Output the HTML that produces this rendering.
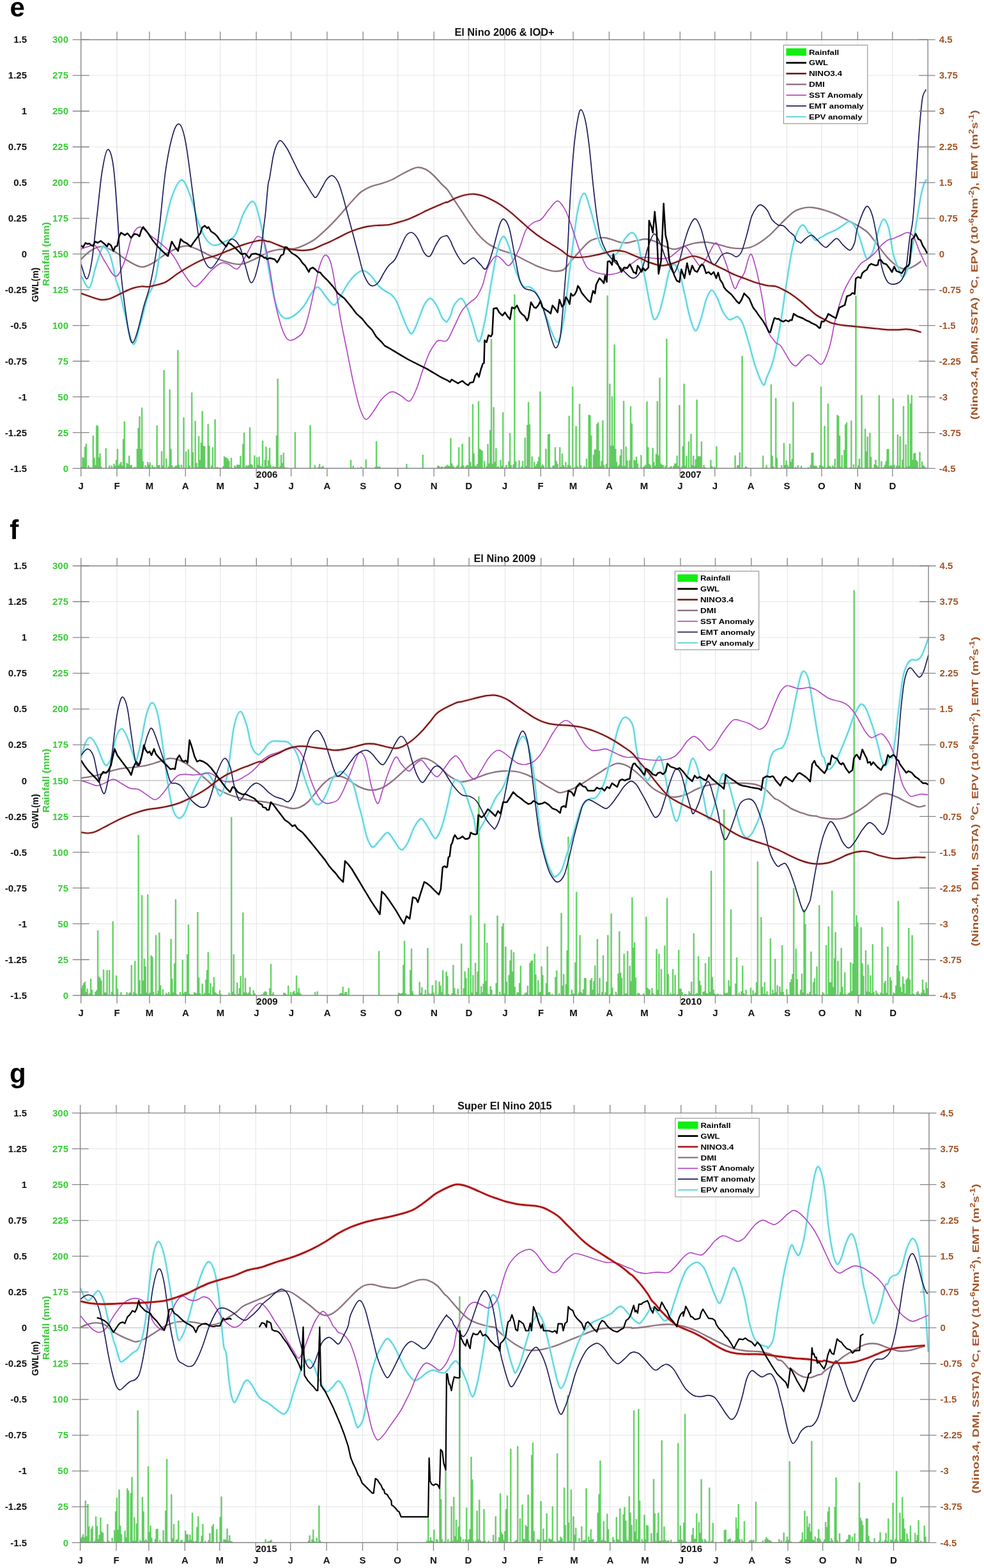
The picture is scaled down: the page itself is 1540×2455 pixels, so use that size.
<!DOCTYPE html><html><head><meta charset="utf-8"><style>html,body{margin:0;padding:0;background:#fff;}svg{display:block;}</style></head><body><svg xmlns="http://www.w3.org/2000/svg" width="1540" height="2455" viewBox="0 0 1540 2455" font-family='"Liberation Sans", Arial, Helvetica, sans-serif' font-weight="bold">
<defs><filter id="glow" x="-5%" y="-5%" width="110%" height="110%"><feGaussianBlur stdDeviation="1.2"/></filter></defs>
<rect width="1540" height="2455" fill="#fff"/>
<g><path d="M183,62.2V733.3M233.9,62.2V733.3M290.2,62.2V733.3M344.7,62.2V733.3M401.1,62.2V733.3M455.6,62.2V733.3M511.9,62.2V733.3M568.2,62.2V733.3M622.7,62.2V733.3M679.1,62.2V733.3M733.6,62.2V733.3M789.9,62.2V733.3M846.2,62.2V733.3M897.1,62.2V733.3M953.4,62.2V733.3M1007.9,62.2V733.3M1064.3,62.2V733.3M1118.8,62.2V733.3M1175.1,62.2V733.3M1231.4,62.2V733.3M1285.9,62.2V733.3M1342.3,62.2V733.3M1396.8,62.2V733.3M126.7,118.1H1452.2M126.7,174H1452.2M126.7,230H1452.2M126.7,285.9H1452.2M126.7,341.8H1452.2M126.7,397.7H1452.2M126.7,453.7H1452.2M126.7,509.6H1452.2M126.7,565.5H1452.2M126.7,621.4H1452.2M126.7,677.4H1452.2" stroke="#e4e4e4" stroke-width="1" fill="none"/>
<path d="M126.7,397.7H1452.2" stroke="#b4b4b4" stroke-width="1.3" stroke-dasharray="1.3 1.0" fill="none"/>
<path d="M126.7,733.3V731.3h1.8V733.3M128.5,733.3V716.3h1.8V733.3M130.3,733.3V717.1h1.8V733.3M132.2,733.3V699.7h1.8V733.3M134,733.3V694.9h1.8V733.3M137.6,733.3V729h1.8V733.3M139.4,733.3V732.1h1.8V733.3M141.2,733.3V732.2h1.8V733.3M143.1,733.3V732.4h1.8V733.3M144.9,733.3V682.2h1.8V733.3M146.7,733.3V717.1h1.8V733.3M148.5,733.3V728.3h1.8V733.3M150.3,733.3V666.3h1.8V733.3M152.1,733.3V667.1h1.8V733.3M154,733.3V716.3h1.8V733.3M155.8,733.3V710h1.8V733.3M157.6,733.3V730.8h1.8V733.3M164.9,733.3V702.1h1.8V733.3M170.3,733.3V729h1.8V733.3M173.9,733.3V729.2h1.8V733.3M177.6,733.3V726.3h1.8V733.3M179.4,733.3V729.8h1.8V733.3M181.2,733.3V720.3h1.8V733.3M183,733.3V702.9h1.8V733.3M184.8,733.3V729h1.8V733.3M186.7,733.3V726.3h1.8V733.3M188.5,733.3V723.5h1.8V733.3M190.3,733.3V729.5h1.8V733.3M192.1,733.3V687.8h1.8V733.3M193.9,733.3V660h1.8V733.3M197.6,733.3V725.1h1.8V733.3M199.4,733.3V726.7h1.8V733.3M201.2,733.3V713.7h1.8V733.3M203,733.3V729h1.8V733.3M204.8,733.3V728.3h1.8V733.3M208.5,733.3V732.1h1.8V733.3M210.3,733.3V731.4h1.8V733.3M212.1,733.3V732.3h1.8V733.3M213.9,733.3V702.9h1.8V733.3M215.7,733.3V670.3h1.8V733.3M217.5,733.3V652.1h1.8V733.3M219.4,733.3V702.9h1.8V733.3M221.2,733.3V638.6h1.8V733.3M223,733.3V722.7h1.8V733.3M226.6,733.3V728.8h1.8V733.3M228.5,733.3V731.4h1.8V733.3M230.3,733.3V723.5h1.8V733.3M232.1,733.3V727.8h1.8V733.3M233.9,733.3V724.3h1.8V733.3M237.5,733.3V728.2h1.8V733.3M239.4,733.3V731.8h1.8V733.3M241.2,733.3V731.2h1.8V733.3M244.8,733.3V666.3h1.8V733.3M246.6,733.3V728.8h1.8V733.3M248.4,733.3V728.1h1.8V733.3M252.1,733.3V706.8h1.8V733.3M253.9,733.3V729.2h1.8V733.3M255.7,733.3V579.8h1.8V733.3M259.3,733.3V717.9h1.8V733.3M263,733.3V730.6h1.8V733.3M264.8,733.3V610h1.8V733.3M266.6,733.3V702.9h1.8V733.3M268.4,733.3V729h1.8V733.3M272.1,733.3V731.6h1.8V733.3M273.9,733.3V729.8h1.8V733.3M275.7,733.3V729h1.8V733.3M277.5,733.3V548.3h1.8V733.3M279.3,733.3V727.9h1.8V733.3M283,733.3V727.9h1.8V733.3M286.6,733.3V653.7h1.8V733.3M290.2,733.3V707.3h1.8V733.3M293.9,733.3V704.1h1.8V733.3M295.7,733.3V729.3h1.8V733.3M299.3,733.3V614.8h1.8V733.3M301.1,733.3V708.4h1.8V733.3M304.8,733.3V659.2h1.8V733.3M306.6,733.3V725.1h1.8V733.3M308.4,733.3V731.8h1.8V733.3M310.2,733.3V683h1.8V733.3M312,733.3V720.3h1.8V733.3M313.9,733.3V693.3h1.8V733.3M315.7,733.3V644.1h1.8V733.3M317.5,733.3V698.1h1.8V733.3M319.3,733.3V698.9h1.8V733.3M321.1,733.3V732.3h1.8V733.3M324.8,733.3V664h1.8V733.3M326.6,733.3V698.1h1.8V733.3M330.2,733.3V729.1h1.8V733.3M332,733.3V700.5h1.8V733.3M335.7,733.3V656.8h1.8V733.3M337.5,733.3V732.5h1.8V733.3M339.3,733.3V731.3h1.8V733.3M342.9,733.3V732.2h1.8V733.3M348.4,733.3V730.4h1.8V733.3M350.2,733.3V714.8h1.8V733.3M352,733.3V716.3h1.8V733.3M353.8,733.3V717.1h1.8V733.3M355.6,733.3V718.7h1.8V733.3M357.5,733.3V721.9h1.8V733.3M359.3,733.3V732.3h1.8V733.3M361.1,733.3V717.1h1.8V733.3M366.5,733.3V729.1h1.8V733.3M368.4,733.3V731.4h1.8V733.3M370.2,733.3V727.8h1.8V733.3M372,733.3V727.9h1.8V733.3M373.8,733.3V728.1h1.8V733.3M375.6,733.3V714h1.8V733.3M379.3,733.3V695.7h1.8V733.3M381.1,733.3V677.5h1.8V733.3M382.9,733.3V731.7h1.8V733.3M384.7,733.3V728.6h1.8V733.3M386.5,733.3V730.1h1.8V733.3M388.3,733.3V728.4h1.8V733.3M390.2,733.3V669.2h1.8V733.3M392,733.3V726.7h1.8V733.3M393.8,733.3V728.3h1.8V733.3M397.4,733.3V713.2h1.8V733.3M401.1,733.3V716.3h1.8V733.3M402.9,733.3V728h1.8V733.3M404.7,733.3V715.6h1.8V733.3M406.5,733.3V729.9h1.8V733.3M408.3,733.3V730.8h1.8V733.3M410.2,733.3V690.2h1.8V733.3M412,733.3V731.8h1.8V733.3M413.8,733.3V720.3h1.8V733.3M415.6,733.3V699.7h1.8V733.3M417.4,733.3V730.2h1.8V733.3M419.2,733.3V721.1h1.8V733.3M421.1,733.3V701.3h1.8V733.3M422.9,733.3V728.5h1.8V733.3M424.7,733.3V732.2h1.8V733.3M426.5,733.3V730.3h1.8V733.3M428.3,733.3V731.4h1.8V733.3M430.1,733.3V731.1h1.8V733.3M432,733.3V682.2h1.8V733.3M433.8,733.3V593h1.8V733.3M435.6,733.3V732.1h1.8V733.3M437.4,733.3V729.8h1.8V733.3M439.2,733.3V712.4h1.8V733.3M441,733.3V725.1h1.8V733.3M442.9,733.3V709.2h1.8V733.3M444.7,733.3V731.6h1.8V733.3M448.3,733.3V732.4h1.8V733.3M461,733.3V676.7h1.8V733.3M484.6,733.3V666h1.8V733.3M491.9,733.3V728.4h1.8V733.3M497.4,733.3V731.5h1.8V733.3M499.2,733.3V726.7h1.8V733.3M501,733.3V732.2h1.8V733.3M502.8,733.3V731.4h1.8V733.3M504.6,733.3V729.8h1.8V733.3M548.2,733.3V720.3h1.8V733.3M551.9,733.3V729.7h1.8V733.3M559.1,733.3V732.2h1.8V733.3M564.6,733.3V731.1h1.8V733.3M571.9,733.3V719.5h1.8V733.3M586.4,733.3V731.5h1.8V733.3M588.2,733.3V691h1.8V733.3M590,733.3V730.6h1.8V733.3M591.9,733.3V731.4h1.8V733.3M593.7,733.3V730.8h1.8V733.3M635.5,733.3V726.7h1.8V733.3M660.9,733.3V712.1h1.8V733.3M684.5,733.3V729.3h1.8V733.3M686.3,733.3V730.1h1.8V733.3M688.2,733.3V732.2h1.8V733.3M690,733.3V730.7h1.8V733.3M691.8,733.3V731.1h1.8V733.3M695.4,733.3V730.7h1.8V733.3M697.2,733.3V730h1.8V733.3M699.1,733.3V728h1.8V733.3M700.9,733.3V729.4h1.8V733.3M702.7,733.3V730h1.8V733.3M704.5,733.3V686.2h1.8V733.3M706.3,733.3V725.9h1.8V733.3M708.1,733.3V729.4h1.8V733.3M710,733.3V731.4h1.8V733.3M713.6,733.3V730.8h1.8V733.3M715.4,733.3V728.4h1.8V733.3M717.2,733.3V700.5h1.8V733.3M720.9,733.3V729.9h1.8V733.3M722.7,733.3V694.9h1.8V733.3M724.5,733.3V729h1.8V733.3M728.1,733.3V730.6h1.8V733.3M729.9,733.3V728.2h1.8V733.3M731.8,733.3V728.7h1.8V733.3M733.6,733.3V684.6h1.8V733.3M735.4,733.3V723.5h1.8V733.3M737.2,733.3V730.3h1.8V733.3M739,733.3V633h1.8V733.3M740.8,733.3V710h1.8V733.3M742.7,733.3V729.1h1.8V733.3M744.5,733.3V730.4h1.8V733.3M746.3,733.3V726.7h1.8V733.3M748.1,733.3V628.6h1.8V733.3M749.9,733.3V702.9h1.8V733.3M751.7,733.3V704.4h1.8V733.3M753.6,733.3V706h1.8V733.3M757.2,733.3V721.9h1.8V733.3M760.8,733.3V730.3h1.8V733.3M762.6,733.3V695.7h1.8V733.3M764.5,733.3V725.9h1.8V733.3M766.3,733.3V673.5h1.8V733.3M768.1,733.3V530.8h1.8V733.3M769.9,733.3V726.7h1.8V733.3M771.7,733.3V637.8h1.8V733.3M773.6,733.3V723.5h1.8V733.3M775.4,733.3V702.1h1.8V733.3M777.2,733.3V731.6h1.8V733.3M779,733.3V730.6h1.8V733.3M782.6,733.3V720.3h1.8V733.3M784.5,733.3V729.5h1.8V733.3M786.3,733.3V645.7h1.8V733.3M789.9,733.3V731.4h1.8V733.3M791.7,733.3V728h1.8V733.3M795.4,733.3V722.7h1.8V733.3M797.2,733.3V678.3h1.8V733.3M799,733.3V728.3h1.8V733.3M802.6,733.3V727.5h1.8V733.3M804.4,733.3V461.3h1.8V733.3M806.3,733.3V722.7h1.8V733.3M811.7,733.3V721.1h1.8V733.3M815.3,733.3V730.6h1.8V733.3M817.2,733.3V721.9h1.8V733.3M820.8,733.3V685.4h1.8V733.3M822.6,733.3V729.8h1.8V733.3M824.4,733.3V665.6h1.8V733.3M826.2,733.3V629.8h1.8V733.3M828.1,733.3V664.8h1.8V733.3M831.7,733.3V714.8h1.8V733.3M835.3,733.3V723.5h1.8V733.3M837.1,733.3V730h1.8V733.3M839,733.3V726.7h1.8V733.3M840.8,733.3V722.7h1.8V733.3M842.6,733.3V715.6h1.8V733.3M844.4,733.3V613.2h1.8V733.3M846.2,733.3V730.1h1.8V733.3M848,733.3V727.5h1.8V733.3M849.9,733.3V729.2h1.8V733.3M853.5,733.3V702.9h1.8V733.3M857.1,733.3V680.6h1.8V733.3M859,733.3V679.8h1.8V733.3M860.8,733.3V731.9h1.8V733.3M864.4,733.3V729.6h1.8V733.3M866.2,733.3V729h1.8V733.3M868,733.3V700.5h1.8V733.3M869.9,733.3V721.9h1.8V733.3M871.7,733.3V726.7h1.8V733.3M875.3,733.3V700.5h1.8V733.3M877.1,733.3V731.3h1.8V733.3M878.9,733.3V710.5h1.8V733.3M880.8,733.3V728.2h1.8V733.3M882.6,733.3V731.2h1.8V733.3M884.4,733.3V723.5h1.8V733.3M886.2,733.3V732.1h1.8V733.3M888,733.3V728.1h1.8V733.3M889.8,733.3V651.3h1.8V733.3M891.7,733.3V729.3h1.8V733.3M895.3,733.3V605.6h1.8V733.3M898.9,733.3V731.8h1.8V733.3M900.7,733.3V667.5h1.8V733.3M902.6,733.3V730h1.8V733.3M906.2,733.3V632.5h1.8V733.3M908,733.3V728.8h1.8V733.3M913.5,733.3V729.9h1.8V733.3M915.3,733.3V732.5h1.8V733.3M917.1,733.3V718.4h1.8V733.3M920.7,733.3V649.7h1.8V733.3M922.5,733.3V650.5h1.8V733.3M924.4,733.3V681.9h1.8V733.3M928,733.3V712.4h1.8V733.3M929.8,733.3V704.4h1.8V733.3M931.6,733.3V703.7h1.8V733.3M933.4,733.3V664h1.8V733.3M935.3,733.3V661.6h1.8V733.3M937.1,733.3V706h1.8V733.3M938.9,733.3V730.1h1.8V733.3M940.7,733.3V721.9h1.8V733.3M942.5,733.3V658.4h1.8V733.3M944.3,733.3V728.4h1.8V733.3M948,733.3V726.7h1.8V733.3M949.8,733.3V462.9h1.8V733.3M953.4,733.3V601h1.8V733.3M955.3,733.3V698.1h1.8V733.3M957.1,733.3V620.8h1.8V733.3M958.9,733.3V698.1h1.8V733.3M960.7,733.3V539.7h1.8V733.3M962.5,733.3V702.9h1.8V733.3M964.3,733.3V723.5h1.8V733.3M966.2,733.3V730.5h1.8V733.3M968,733.3V727.9h1.8V733.3M969.8,733.3V713.2h1.8V733.3M971.6,733.3V703.7h1.8V733.3M973.4,733.3V729.8h1.8V733.3M975.2,733.3V627.9h1.8V733.3M977.1,733.3V729.8h1.8V733.3M978.9,733.3V699.4h1.8V733.3M980.7,733.3V721.1h1.8V733.3M984.3,733.3V721.1h1.8V733.3M986.1,733.3V636.2h1.8V733.3M988,733.3V663.2h1.8V733.3M991.6,733.3V720.3h1.8V733.3M993.4,733.3V721.1h1.8V733.3M995.2,733.3V715.2h1.8V733.3M997,733.3V725.9h1.8V733.3M1002.5,733.3V712.7h1.8V733.3M1006.1,733.3V731.5h1.8V733.3M1007.9,733.3V729.9h1.8V733.3M1009.8,733.3V727.9h1.8V733.3M1011.6,733.3V629h1.8V733.3M1013.4,733.3V700.5h1.8V733.3M1015.2,733.3V726.7h1.8V733.3M1017,733.3V728.4h1.8V733.3M1020.7,733.3V701.7h1.8V733.3M1022.5,733.3V723.5h1.8V733.3M1024.3,733.3V729.4h1.8V733.3M1026.1,733.3V711.1h1.8V733.3M1027.9,733.3V628.6h1.8V733.3M1029.7,733.3V713.2h1.8V733.3M1031.6,733.3V591.7h1.8V733.3M1033.4,733.3V725.9h1.8V733.3M1035.2,733.3V728h1.8V733.3M1037,733.3V728.5h1.8V733.3M1040.6,733.3V729.8h1.8V733.3M1042.5,733.3V530.8h1.8V733.3M1046.1,733.3V732.3h1.8V733.3M1047.9,733.3V731.7h1.8V733.3M1049.7,733.3V730h1.8V733.3M1053.4,733.3V729.8h1.8V733.3M1055.2,733.3V725.9h1.8V733.3M1057,733.3V725.9h1.8V733.3M1058.8,733.3V713.7h1.8V733.3M1060.6,733.3V729.9h1.8V733.3M1062.5,733.3V634.6h1.8V733.3M1066.1,733.3V730.6h1.8V733.3M1067.9,733.3V698.9h1.8V733.3M1069.7,733.3V601h1.8V733.3M1071.5,733.3V729.7h1.8V733.3M1073.4,733.3V714h1.8V733.3M1077,733.3V691.4h1.8V733.3M1080.6,733.3V679.4h1.8V733.3M1082.4,733.3V728.3h1.8V733.3M1084.3,733.3V713.7h1.8V733.3M1086.1,733.3V729.9h1.8V733.3M1087.9,733.3V719.5h1.8V733.3M1089.7,733.3V625.9h1.8V733.3M1091.5,733.3V714.8h1.8V733.3M1093.3,733.3V714.8h1.8V733.3M1095.2,733.3V714.8h1.8V733.3M1097,733.3V691.4h1.8V733.3M1098.8,733.3V732.3h1.8V733.3M1100.6,733.3V728.1h1.8V733.3M1102.4,733.3V731.8h1.8V733.3M1111.5,733.3V720.3h1.8V733.3M1113.3,733.3V730h1.8V733.3M1117,733.3V731.1h1.8V733.3M1120.6,733.3V698.9h1.8V733.3M1149.7,733.3V713.2h1.8V733.3M1153.3,733.3V728.7h1.8V733.3M1155.1,733.3V728.5h1.8V733.3M1156.9,733.3V708.4h1.8V733.3M1160.6,733.3V557.6h1.8V733.3M1166,733.3V730.6h1.8V733.3M1167.8,733.3V731.4h1.8V733.3M1193.3,733.3V713.7h1.8V733.3M1198.7,733.3V728.5h1.8V733.3M1206,733.3V602.1h1.8V733.3M1207.8,733.3V713.7h1.8V733.3M1209.6,733.3V730.5h1.8V733.3M1213.3,733.3V623.5h1.8V733.3M1215.1,733.3V717.1h1.8V733.3M1222.3,733.3V728.6h1.8V733.3M1226,733.3V693.8h1.8V733.3M1227.8,733.3V728.5h1.8V733.3M1229.6,733.3V721.1h1.8V733.3M1231.4,733.3V727.9h1.8V733.3M1233.3,733.3V731.5h1.8V733.3M1235.1,733.3V694.9h1.8V733.3M1236.9,733.3V723.5h1.8V733.3M1238.7,733.3V718.7h1.8V733.3M1240.5,733.3V629.4h1.8V733.3M1244.2,733.3V731.3h1.8V733.3M1247.8,733.3V728.5h1.8V733.3M1253.2,733.3V729.5h1.8V733.3M1264.1,733.3V731.8h1.8V733.3M1267.8,733.3V728.2h1.8V733.3M1269.6,733.3V709.2h1.8V733.3M1271.4,733.3V708.9h1.8V733.3M1273.2,733.3V729.6h1.8V733.3M1275,733.3V729.5h1.8V733.3M1276.9,733.3V729.7h1.8V733.3M1282.3,733.3V728.3h1.8V733.3M1284.1,733.3V605.5h1.8V733.3M1285.9,733.3V729.6h1.8V733.3M1287.8,733.3V731.3h1.8V733.3M1289.6,733.3V667.1h1.8V733.3M1293.2,733.3V731.9h1.8V733.3M1295,733.3V632.2h1.8V733.3M1296.8,733.3V729.4h1.8V733.3M1298.7,733.3V730.4h1.8V733.3M1302.3,733.3V729h1.8V733.3M1304.1,733.3V731.1h1.8V733.3M1305.9,733.3V718.6h1.8V733.3M1309.6,733.3V649.9h1.8V733.3M1311.4,733.3V651.7h1.8V733.3M1313.2,733.3V682.2h1.8V733.3M1315,733.3V731.4h1.8V733.3M1316.8,733.3V712.8h1.8V733.3M1320.5,733.3V704.8h1.8V733.3M1322.3,733.3V664.8h1.8V733.3M1324.1,733.3V661.4h1.8V733.3M1329.6,733.3V732.1h1.8V733.3M1331.4,733.3V658.7h1.8V733.3M1335,733.3V727.3h1.8V733.3M1338.6,733.3V463h1.8V733.3M1342.3,733.3V728.9h1.8V733.3M1344.1,733.3V718.6h1.8V733.3M1345.9,733.3V732.2h1.8V733.3M1347.7,733.3V618.9h1.8V733.3M1353.2,733.3V671.6h1.8V733.3M1355,733.3V707h1.8V733.3M1356.8,733.3V683.7h1.8V733.3M1360.4,733.3V677.9h1.8V733.3M1362.3,733.3V715.4h1.8V733.3M1367.7,733.3V727.3h1.8V733.3M1369.5,733.3V720.1h1.8V733.3M1371.3,733.3V728.7h1.8V733.3M1373.2,733.3V731.3h1.8V733.3M1375,733.3V618.9h1.8V733.3M1378.6,733.3V722.2h1.8V733.3M1382.2,733.3V731.5h1.8V733.3M1384.1,733.3V728h1.8V733.3M1385.9,733.3V722.2h1.8V733.3M1387.7,733.3V703.3h1.8V733.3M1389.5,733.3V703.3h1.8V733.3M1391.3,733.3V729.9h1.8V733.3M1393.1,733.3V728.7h1.8V733.3M1395,733.3V729.6h1.8V733.3M1396.8,733.3V624h1.8V733.3M1398.6,733.3V728.1h1.8V733.3M1402.2,733.3V729.5h1.8V733.3M1404,733.3V680.5h1.8V733.3M1405.9,733.3V729.5h1.8V733.3M1407.7,733.3V683.4h1.8V733.3M1411.3,733.3V720.1h1.8V733.3M1413.1,733.3V636h1.8V733.3M1416.8,733.3V696.1h1.8V733.3M1418.6,733.3V730.9h1.8V733.3M1420.4,733.3V618.2h1.8V733.3M1422.2,733.3V729.8h1.8V733.3M1424,733.3V632h1.8V733.3M1425.9,733.3V618.9h1.8V733.3M1427.7,733.3V720.1h1.8V733.3M1429.5,733.3V709.9h1.8V733.3M1431.3,733.3V709.2h1.8V733.3M1433.1,733.3V720.8h1.8V733.3M1434.9,733.3V723h1.8V733.3M1438.6,733.3V707.7h1.8V733.3M1442.2,733.3V723h1.8V733.3M1444,733.3V728.7h1.8V733.3M1445.8,733.3V730.5h1.8V733.3" fill="#4ae84a" stroke="#78a878" stroke-width="0.5"/>
<path d="M126.9,406C129.1,404 134.7,397.4 139.8,394C145,390.7 151.1,386.1 157.7,386.1C164.3,386.1 172.6,390.4 179.5,394C186.5,397.7 192.4,404 199.4,407.9C206.3,411.9 214.6,417.2 221.2,417.9C227.8,418.5 232.8,415.2 239,411.9C245.3,408.6 252.3,402 258.9,398C265.5,394 273.1,390.2 278.7,388.1C284.4,385.9 287.7,384.8 292.6,385.1C297.6,385.4 302.5,387.6 308.5,390.1C314.4,392.6 321.7,397 328.3,400C334.9,403 340.6,405.6 348.2,407.9C355.8,410.3 366.4,413.9 374,413.9C381.6,413.9 387.2,410.6 393.8,407.9C400.4,405.3 409,400.3 413.7,398C418.3,395.7 418.5,395.2 421.9,394C425.3,392.9 429.5,391.7 433.8,391.1C438.1,390.4 443.1,390.4 447.7,390.1C452.3,389.7 457,390.1 461.6,389.1C466.2,388.1 470.2,386.6 475.5,384.1C480.8,381.6 487.7,378.2 493.3,374.2C499,370.2 503.9,365.3 509.2,360.3C514.5,355.4 520.1,349.7 525.1,344.4C530,339.2 534.3,333.9 539,328.6C543.6,323.3 548.6,317.3 552.9,312.7C557.2,308.1 560.5,304.1 564.8,300.8C569.1,297.5 573,295.2 578.7,292.9C584.3,290.5 592.5,288.9 598.5,286.9C604.4,284.9 609.4,283.3 614.4,281C619.3,278.6 623.6,275.5 628.3,273C632.9,270.5 638,267.9 642.1,266.1C646.3,264.3 649.1,262.3 653.1,262.1C657,261.9 661.8,263.1 666,265.1C670.1,267.1 673.6,270 677.9,274C682.2,278 688.1,285.1 691.7,288.9C695.4,292.7 696.6,292.5 700,296.8C703.4,301.1 707.9,308.7 711.9,314.7C715.9,320.6 719.8,326.6 723.8,332.5C727.8,338.5 731.7,344.8 735.7,350.4C739.7,356 743.7,361.6 747.6,366.3C751.6,370.9 755.6,374.9 759.5,378.2C763.5,381.5 767.1,383.8 771.4,386.1C775.7,388.4 780,390.1 785.3,392.1C790.6,394 797.6,395.7 803.2,398C808.8,400.3 813.1,403 819,406C825,408.9 832.9,413.2 838.9,415.9C844.8,418.5 849.6,420.3 854.8,421.8C859.9,423.3 865,424.8 869.6,424.8C874.3,424.8 878.4,424.6 882.5,421.8C886.7,419 890.1,412.9 894.4,407.9C898.7,403 903.7,397 908.3,392.1C913,387.1 917.9,381.3 922.2,378.2C926.5,375 930.2,374.2 934.1,373.2C938.1,372.2 942.1,371.9 946,372.2C950,372.6 954,374 957.9,375.2C961.9,376.4 965.9,378.3 969.8,379.2C973.8,380 977.8,380.5 981.7,380.2C985.7,379.8 990.6,377.8 993.7,377.2C996.7,376.5 997.2,376.7 999.9,376.2C1002.6,375.7 1006.5,374.2 1009.8,374.2C1013.1,374.2 1016.5,375.2 1019.8,376.2C1023.1,377.2 1026,378.5 1029.7,380.2C1033.3,381.8 1037.3,384.5 1041.6,386.1C1045.9,387.8 1050.8,390.1 1055.5,390.1C1060.1,390.1 1064.4,387.6 1069.4,386.1C1074.3,384.6 1079.9,382.3 1085.2,381.2C1090.5,380 1096.5,379.3 1101.1,379.2C1105.7,379 1108.4,379.3 1113,380.2C1117.6,381 1123.6,382.8 1128.9,384.1C1134.2,385.4 1139.5,387.3 1144.8,388.1C1150.1,388.9 1155.7,389.3 1160.6,389.1C1165.6,388.9 1169.9,388.6 1174.5,387.1C1179.2,385.6 1183.5,383.3 1188.4,380.2C1193.4,377 1199.3,372.6 1204.3,368.3C1209.2,364 1213.5,359 1218.2,354.4C1222.8,349.7 1227.8,344.4 1232.1,340.5C1236.4,336.5 1240.3,332.9 1244,330.6C1247.6,328.2 1250.3,327.6 1253.9,326.6C1257.5,325.6 1261.7,324.7 1265.8,324.6C1269.9,324.5 1273.9,325.1 1278.4,326C1282.9,326.8 1288.2,328.3 1292.9,329.8C1297.6,331.3 1302,332.9 1306.6,334.9C1311.2,337 1315.8,339.5 1320.4,341.8C1325,344.1 1329.8,346.4 1334.1,348.7C1338.4,351 1342.2,353 1346.2,355.6C1350.2,358.2 1354,360 1358.2,364.2C1362.4,368.3 1365.9,373.9 1371.1,380.5C1376.3,387 1383.9,397.8 1389.2,403.6C1394.5,409.5 1398.9,412.8 1402.9,415.7C1406.9,418.5 1409.8,420.1 1413.2,420.8C1416.7,421.5 1420.4,420.8 1423.5,420C1426.7,419.1 1429.1,417.5 1432.1,415.7C1435.2,413.8 1440,409.9 1441.6,408.8" stroke="#8e7482" stroke-width="2.4" fill="none" stroke-linejoin="round"/>
<path d="M126.9,431.7C129.1,434.9 136,452.8 139.8,450.4C143.6,448.1 146.5,428.2 149.8,417.9C153.1,407.5 157.2,393.2 159.7,388.1C162.2,383 162.3,384.5 164.6,387.1C167,389.7 170.8,395.5 173.6,404C176.4,412.4 179.2,429.1 181.5,437.7C183.8,446.3 185.1,446.5 187.5,455.4C189.8,464.3 191.9,477.2 195.4,491.1C198.9,505 204.3,535.8 208.3,538.7C212.3,541.7 215.4,521.2 219.2,509C223,496.7 227.1,477.2 231.1,465.3C235.1,453.4 239,453.9 243,437.7C247,421.5 250.6,389.7 254.9,368.3C259.2,346.8 263.8,323.1 268.8,308.7C273.8,294.3 279.7,281.9 284.7,281.9C289.6,281.9 294.3,297.7 298.6,308.7C302.9,319.8 306.5,337.5 310.5,348.4C314.4,359.3 318.2,368.3 322.4,374.2C326.5,380.2 330.3,383.5 335.3,384.1C340.2,384.8 346.7,380.8 352.1,378.2C357.6,375.5 363.1,375.9 368,368.3C373,360.6 377.1,341.3 381.9,332.5C386.7,323.8 392.5,313 396.8,315.7C401.1,318.3 404.8,337 407.7,348.4C410.6,359.8 412.3,374.7 414,384C415.6,393.2 416.3,396.4 417.6,404C418.9,411.6 419.9,418.7 421.9,429.6C423.9,440.5 427.2,459 429.8,469.3C432.5,479.5 434.8,486.2 437.8,491.1C440.8,496 443.7,498.3 447.7,498.7C451.7,499 457,496.3 461.6,493.1C466.2,489.9 471.2,484.8 475.5,479.2C479.8,473.6 483.7,464.3 487.4,459.4C491,454.4 493.7,448.8 497.3,449.4C500.9,450.1 505.9,459.4 509.2,463.3C512.5,467.3 514.7,470.9 517.1,473.3C519.6,475.6 521.4,478.9 524.1,477.2C526.7,475.6 529.5,469 533,463.3C536.5,457.7 541,449.1 544.9,443.5C548.9,437.9 552.9,432.9 556.8,429.6C560.8,426.3 564.8,423.3 568.7,423.7C572.7,424 576.7,427.6 580.6,431.6C584.6,435.6 588.9,443.5 592.5,447.5C596.2,451.4 599.2,453.1 602.5,455.4C605.8,457.7 609.4,458.7 612.4,461.3C615.4,464 617.7,466.3 620.3,471.3C623,476.2 625.3,483.8 628.3,491.1C631.2,498.4 635.4,509.8 638.2,514.9C641,520 642.5,523.8 645.1,521.9C647.8,519.9 650.9,510.5 654,503C657.2,495.6 660.7,483.2 664,477.2C667.3,471.3 670.6,467 673.9,467.3C677.2,467.6 680.8,474.2 683.8,479.2C686.8,484.2 689.4,493 691.7,497.1C694.1,501.1 696.3,502.4 697.7,503.4C699.1,504.4 698.7,504.7 700,503C701.3,501.3 704,497.1 705.6,493.1C707.3,489.1 707.2,483.5 709.9,479.2C712.6,474.9 718.2,466.6 721.8,467.3C725.5,468 728.8,476.6 731.7,483.2C734.7,489.8 736.7,498.4 739.7,507C742.7,515.6 746.3,536.1 749.6,534.8C752.9,533.4 756.2,514.9 759.5,499C762.8,483.2 766.1,458 769.4,439.5C772.8,421 776.2,399.6 779.4,388.1C782.5,376.5 785.3,370.2 788.3,370.2C791.3,370.2 794.4,380.2 797.2,388.1C800,396 802.8,410.3 805.2,417.9C807.5,425.4 808.8,428.5 811.1,433.6C813.4,438.7 816.1,445.8 819,448.5C822,451.1 826,448.3 829,449.4C831.9,450.6 834.3,452.1 836.9,455.4C839.6,458.7 841.9,462.7 844.8,469.3C847.8,475.9 851.5,486.2 854.8,495.1C858.1,504 861.5,516.2 864.7,522.9C867.8,529.5 870.6,538.7 873.6,534.8C876.6,530.8 880.1,513.3 882.5,499C885,484.8 886.5,466 888.5,449.4C890.5,432.9 891.8,420 894.4,399.8C897.1,379.7 901.1,344.7 904.4,328.6C907.7,312.4 911,302.8 914.3,302.8C917.6,302.8 921.2,319.3 924.2,328.6C927.2,337.8 929.5,349.1 932.1,358.3C934.8,367.6 937.1,377.5 940.1,384.1C943.1,390.7 946.7,395.4 950,398C953.3,400.7 956.9,400.7 959.9,400C962.9,399.3 964.9,398.3 967.9,394C970.8,389.7 974.2,379.2 977.8,374.2C981.4,369.2 986,364 989.3,364.3C992.7,364.6 995.4,368.9 997.8,376.2C1000.2,383.5 1001.9,397.7 1003.9,407.9C1005.9,418.2 1007.5,425.8 1009.8,437.7C1012.2,449.6 1015.5,468.8 1017.8,479.2C1020.1,489.6 1021.4,498.4 1023.7,500C1026,501.7 1029,495.9 1031.7,489.1C1034.3,482.3 1037,470.3 1039.6,459.4C1042.2,448.5 1044.9,431.4 1047.5,423.8C1050.2,416.2 1052.8,413.2 1055.5,413.9C1058.1,414.6 1060.8,420.2 1063.4,427.8C1066.1,435.4 1068.7,448.1 1071.3,459.4C1074,470.6 1076.5,485.3 1079.3,495.1C1082.1,504.8 1085.2,517.2 1088.2,517.9C1091.2,518.6 1094.3,507.1 1097.1,499C1100,490.9 1102.3,476.7 1105.1,469.3C1107.9,461.8 1111,454.7 1114,454.4C1117,454.1 1120.1,461.8 1122.9,467.3C1125.7,472.8 1127.9,481.7 1130.9,487.1C1133.8,492.6 1137.8,498.2 1140.8,500C1143.8,501.9 1146.4,498.7 1148.7,498.1C1151,497.4 1152.4,494.6 1154.7,496.1C1157,497.6 1159.6,499.9 1162.6,507C1165.6,514.1 1169.2,527.5 1172.5,538.7C1175.8,550 1178.8,563.9 1182.5,574.4C1186.1,585 1191.4,599.5 1194.4,602.2C1197.3,605 1197.3,597.5 1200,591.1C1202.7,584.6 1206.9,576.7 1210.3,563.5C1213.8,550.4 1217.2,532 1220.6,512C1224.1,491.9 1227.8,463.2 1231,443.2C1234.1,423.1 1236.7,405.1 1239.6,391.6C1242.4,378.1 1245.3,368.9 1248.1,362.4C1251,355.8 1253.9,351.9 1256.8,352.2C1259.7,352.5 1263.5,362.2 1265.3,364.2C1267.2,366.2 1266.3,362.6 1267.8,364.3C1269.2,366 1272.3,372.5 1273.9,374.5C1275.6,376.5 1276.3,376.5 1277.7,376.2C1279.1,375.9 1280.9,373.8 1282.5,372.8C1284.2,371.8 1285.6,371.4 1287.6,370.2C1289.6,369.1 1291.4,367.5 1294.6,365.9C1297.7,364.3 1302.3,363 1306.6,360.7C1310.9,358.4 1316.6,354.4 1320.4,352.1C1324.1,349.9 1326.1,346.7 1329,347C1331.8,347.3 1334.7,349.3 1337.6,353.9C1340.4,358.4 1343.3,366.5 1346.2,374.5C1349,382.5 1352.5,397.1 1354.8,401.9C1357.1,406.8 1357.9,405.3 1359.9,403.6C1361.9,401.9 1364.5,398 1366.8,391.6C1369.1,385.1 1371.1,373 1373.7,365C1376.3,357 1379.4,344.8 1382.3,343.5C1385.1,342.3 1388.3,348.4 1390.9,357.3C1393.5,366.2 1395.2,386.2 1397.8,396.7C1400.3,407.3 1403.8,414.7 1406.3,420.8C1408.9,427 1410.6,434.3 1413.2,433.7C1415.8,433.1 1419.2,425.8 1421.8,417.4C1424.4,408.9 1426.6,394.9 1428.7,383C1430.9,371.1 1432.7,358.4 1434.7,346.1C1436.7,333.8 1438.9,318.7 1440.7,309.2C1442.6,299.6 1444.3,293.2 1445.9,288.5C1447.5,283.8 1449.5,282.1 1450.2,280.8" stroke="#b8f4f8" stroke-opacity="0.7" stroke-width="4.5" fill="none" filter="url(#glow)"/>
<path d="M126.9,431.7C129.1,434.9 136,452.8 139.8,450.4C143.6,448.1 146.5,428.2 149.8,417.9C153.1,407.5 157.2,393.2 159.7,388.1C162.2,383 162.3,384.5 164.6,387.1C167,389.7 170.8,395.5 173.6,404C176.4,412.4 179.2,429.1 181.5,437.7C183.8,446.3 185.1,446.5 187.5,455.4C189.8,464.3 191.9,477.2 195.4,491.1C198.9,505 204.3,535.8 208.3,538.7C212.3,541.7 215.4,521.2 219.2,509C223,496.7 227.1,477.2 231.1,465.3C235.1,453.4 239,453.9 243,437.7C247,421.5 250.6,389.7 254.9,368.3C259.2,346.8 263.8,323.1 268.8,308.7C273.8,294.3 279.7,281.9 284.7,281.9C289.6,281.9 294.3,297.7 298.6,308.7C302.9,319.8 306.5,337.5 310.5,348.4C314.4,359.3 318.2,368.3 322.4,374.2C326.5,380.2 330.3,383.5 335.3,384.1C340.2,384.8 346.7,380.8 352.1,378.2C357.6,375.5 363.1,375.9 368,368.3C373,360.6 377.1,341.3 381.9,332.5C386.7,323.8 392.5,313 396.8,315.7C401.1,318.3 404.8,337 407.7,348.4C410.6,359.8 412.3,374.7 414,384C415.6,393.2 416.3,396.4 417.6,404C418.9,411.6 419.9,418.7 421.9,429.6C423.9,440.5 427.2,459 429.8,469.3C432.5,479.5 434.8,486.2 437.8,491.1C440.8,496 443.7,498.3 447.7,498.7C451.7,499 457,496.3 461.6,493.1C466.2,489.9 471.2,484.8 475.5,479.2C479.8,473.6 483.7,464.3 487.4,459.4C491,454.4 493.7,448.8 497.3,449.4C500.9,450.1 505.9,459.4 509.2,463.3C512.5,467.3 514.7,470.9 517.1,473.3C519.6,475.6 521.4,478.9 524.1,477.2C526.7,475.6 529.5,469 533,463.3C536.5,457.7 541,449.1 544.9,443.5C548.9,437.9 552.9,432.9 556.8,429.6C560.8,426.3 564.8,423.3 568.7,423.7C572.7,424 576.7,427.6 580.6,431.6C584.6,435.6 588.9,443.5 592.5,447.5C596.2,451.4 599.2,453.1 602.5,455.4C605.8,457.7 609.4,458.7 612.4,461.3C615.4,464 617.7,466.3 620.3,471.3C623,476.2 625.3,483.8 628.3,491.1C631.2,498.4 635.4,509.8 638.2,514.9C641,520 642.5,523.8 645.1,521.9C647.8,519.9 650.9,510.5 654,503C657.2,495.6 660.7,483.2 664,477.2C667.3,471.3 670.6,467 673.9,467.3C677.2,467.6 680.8,474.2 683.8,479.2C686.8,484.2 689.4,493 691.7,497.1C694.1,501.1 696.3,502.4 697.7,503.4C699.1,504.4 698.7,504.7 700,503C701.3,501.3 704,497.1 705.6,493.1C707.3,489.1 707.2,483.5 709.9,479.2C712.6,474.9 718.2,466.6 721.8,467.3C725.5,468 728.8,476.6 731.7,483.2C734.7,489.8 736.7,498.4 739.7,507C742.7,515.6 746.3,536.1 749.6,534.8C752.9,533.4 756.2,514.9 759.5,499C762.8,483.2 766.1,458 769.4,439.5C772.8,421 776.2,399.6 779.4,388.1C782.5,376.5 785.3,370.2 788.3,370.2C791.3,370.2 794.4,380.2 797.2,388.1C800,396 802.8,410.3 805.2,417.9C807.5,425.4 808.8,428.5 811.1,433.6C813.4,438.7 816.1,445.8 819,448.5C822,451.1 826,448.3 829,449.4C831.9,450.6 834.3,452.1 836.9,455.4C839.6,458.7 841.9,462.7 844.8,469.3C847.8,475.9 851.5,486.2 854.8,495.1C858.1,504 861.5,516.2 864.7,522.9C867.8,529.5 870.6,538.7 873.6,534.8C876.6,530.8 880.1,513.3 882.5,499C885,484.8 886.5,466 888.5,449.4C890.5,432.9 891.8,420 894.4,399.8C897.1,379.7 901.1,344.7 904.4,328.6C907.7,312.4 911,302.8 914.3,302.8C917.6,302.8 921.2,319.3 924.2,328.6C927.2,337.8 929.5,349.1 932.1,358.3C934.8,367.6 937.1,377.5 940.1,384.1C943.1,390.7 946.7,395.4 950,398C953.3,400.7 956.9,400.7 959.9,400C962.9,399.3 964.9,398.3 967.9,394C970.8,389.7 974.2,379.2 977.8,374.2C981.4,369.2 986,364 989.3,364.3C992.7,364.6 995.4,368.9 997.8,376.2C1000.2,383.5 1001.9,397.7 1003.9,407.9C1005.9,418.2 1007.5,425.8 1009.8,437.7C1012.2,449.6 1015.5,468.8 1017.8,479.2C1020.1,489.6 1021.4,498.4 1023.7,500C1026,501.7 1029,495.9 1031.7,489.1C1034.3,482.3 1037,470.3 1039.6,459.4C1042.2,448.5 1044.9,431.4 1047.5,423.8C1050.2,416.2 1052.8,413.2 1055.5,413.9C1058.1,414.6 1060.8,420.2 1063.4,427.8C1066.1,435.4 1068.7,448.1 1071.3,459.4C1074,470.6 1076.5,485.3 1079.3,495.1C1082.1,504.8 1085.2,517.2 1088.2,517.9C1091.2,518.6 1094.3,507.1 1097.1,499C1100,490.9 1102.3,476.7 1105.1,469.3C1107.9,461.8 1111,454.7 1114,454.4C1117,454.1 1120.1,461.8 1122.9,467.3C1125.7,472.8 1127.9,481.7 1130.9,487.1C1133.8,492.6 1137.8,498.2 1140.8,500C1143.8,501.9 1146.4,498.7 1148.7,498.1C1151,497.4 1152.4,494.6 1154.7,496.1C1157,497.6 1159.6,499.9 1162.6,507C1165.6,514.1 1169.2,527.5 1172.5,538.7C1175.8,550 1178.8,563.9 1182.5,574.4C1186.1,585 1191.4,599.5 1194.4,602.2C1197.3,605 1197.3,597.5 1200,591.1C1202.7,584.6 1206.9,576.7 1210.3,563.5C1213.8,550.4 1217.2,532 1220.6,512C1224.1,491.9 1227.8,463.2 1231,443.2C1234.1,423.1 1236.7,405.1 1239.6,391.6C1242.4,378.1 1245.3,368.9 1248.1,362.4C1251,355.8 1253.9,351.9 1256.8,352.2C1259.7,352.5 1263.5,362.2 1265.3,364.2C1267.2,366.2 1266.3,362.6 1267.8,364.3C1269.2,366 1272.3,372.5 1273.9,374.5C1275.6,376.5 1276.3,376.5 1277.7,376.2C1279.1,375.9 1280.9,373.8 1282.5,372.8C1284.2,371.8 1285.6,371.4 1287.6,370.2C1289.6,369.1 1291.4,367.5 1294.6,365.9C1297.7,364.3 1302.3,363 1306.6,360.7C1310.9,358.4 1316.6,354.4 1320.4,352.1C1324.1,349.9 1326.1,346.7 1329,347C1331.8,347.3 1334.7,349.3 1337.6,353.9C1340.4,358.4 1343.3,366.5 1346.2,374.5C1349,382.5 1352.5,397.1 1354.8,401.9C1357.1,406.8 1357.9,405.3 1359.9,403.6C1361.9,401.9 1364.5,398 1366.8,391.6C1369.1,385.1 1371.1,373 1373.7,365C1376.3,357 1379.4,344.8 1382.3,343.5C1385.1,342.3 1388.3,348.4 1390.9,357.3C1393.5,366.2 1395.2,386.2 1397.8,396.7C1400.3,407.3 1403.8,414.7 1406.3,420.8C1408.9,427 1410.6,434.3 1413.2,433.7C1415.8,433.1 1419.2,425.8 1421.8,417.4C1424.4,408.9 1426.6,394.9 1428.7,383C1430.9,371.1 1432.7,358.4 1434.7,346.1C1436.7,333.8 1438.9,318.7 1440.7,309.2C1442.6,299.6 1444.3,293.2 1445.9,288.5C1447.5,283.8 1449.5,282.1 1450.2,280.8" stroke="#5ccfd8" stroke-width="1.9" fill="none" stroke-linejoin="round"/>
<path d="M126.9,390.1C128.8,389.4 134.1,386.9 137.9,386.1C141.7,385.3 145.1,380.8 149.8,385.1C154.4,389.4 160.3,404 165.6,411.9C170.9,419.8 176.5,433.4 181.5,432.7C186.5,432.1 191.1,418.7 195.4,407.9C199.7,397.2 203.3,377 207.3,368.3C211.3,359.5 214.6,355.4 219.2,355.4C223.8,355.4 229.1,363.5 235.1,368.3C241,373 249,378.8 254.9,384.1C260.9,389.4 265.8,393.4 270.8,400C275.8,406.6 280.1,416.5 284.7,423.8C289.3,431.1 294.9,439.5 298.6,443.7C302.2,447.8 303.2,449.6 306.5,448.6C309.8,447.6 314.4,441.8 318.4,437.7C322.4,433.6 325.7,428.1 330.3,423.8C334.9,419.5 341.6,413.6 346.2,411.9C350.8,410.3 353.8,412.4 358.1,413.9C362.4,415.4 367.4,423.5 372,420.8C376.6,418.2 381.6,405.5 385.9,398C390.2,390.6 394.6,380.8 397.8,376.2C400.9,371.6 402.1,369.6 404.7,370.2C407.4,370.9 410.9,371.8 413.8,380.1C416.7,388.3 419.2,404.8 421.9,419.7C424.6,434.6 427.2,455.4 429.8,469.3C432.5,483.2 435.1,493.8 437.8,503C440.4,512.3 443.1,519.9 445.7,524.8C448.4,529.8 450,532.4 453.7,532.8C457.3,533.1 463.9,529.5 467.5,526.8C471.2,524.2 472.8,522.9 475.5,516.9C478.1,511 480.8,501.4 483.4,491.1C486.1,480.9 488.7,467.3 491.3,455.4C494,443.5 496.5,428.9 499.3,419.7C502.1,410.4 505.2,401.5 508.2,399.8C511.2,398.2 514.3,401.5 517.1,409.8C520,418 522.4,434.6 525.1,449.4C527.7,464.3 530,482.5 533,499C536,515.6 539.6,532.1 542.9,548.7C546.2,565.2 549.6,583.4 552.9,598.3C556.2,613.1 559.5,628.2 562.8,637.9C566.1,647.7 569.1,655.8 572.7,656.8C576.3,657.8 580.6,649 584.6,643.9C588.6,638.8 592.5,630.8 596.5,626C600.5,621.2 605.1,617.2 608.4,615.1C611.7,613.1 613,612.9 616.3,613.7C619.7,614.6 624.1,617.7 628.3,620.1C632.4,622.5 637.2,630 641.2,628C645.1,626 648.6,616.4 652.1,608.2C655.5,599.9 658.7,587.7 662,578.4C665.3,569.2 668.6,559.6 671.9,552.6C675.2,545.7 679.2,540.1 681.8,536.7C684.5,533.4 684.8,533.4 687.8,532.8C690.8,532.1 695.8,536.7 699.8,532.8C703.9,528.8 707.9,516.9 711.9,509C715.9,501 719.8,491.1 723.8,485.2C727.8,479.2 732.1,476.6 735.7,473.3C739.4,469.9 742.3,469.9 745.6,465.3C748.9,460.7 752.9,452.4 755.6,445.5C758.2,438.6 759.2,430.1 761.5,423.8C763.8,417.6 766.8,411.7 769.4,407.9C772.1,404.1 774.7,401.3 777.4,401C780,400.7 782.3,403.5 785.3,406C788.3,408.4 792.3,415.5 795.2,415.9C798.2,416.2 800.2,412.6 803.2,407.9C806.2,403.3 809.8,396 813.1,388.1C816.4,380.2 819.4,366.9 823,360.3C826.7,353.7 831,351.2 834.9,348.4C838.9,345.6 842.9,346.8 846.8,343.5C850.8,340.1 854.4,333.4 858.7,328.6C863,323.8 868.3,314.7 872.6,314.7C876.9,314.7 881.2,322.9 884.5,328.6C887.8,334.2 889.8,341.1 892.5,348.4C895.1,355.7 897.8,364.3 900.4,372.2C903,380.2 905.4,388.4 908.3,396C911.3,403.6 914.6,412.9 918.3,417.9C921.9,422.8 926.2,424 930.2,425.8C934.1,427.6 938.1,428.1 942.1,428.8C946,429.4 950,429.9 954,429.8C957.9,429.6 961.9,429.1 965.9,427.8C969.8,426.5 973.8,424.5 977.8,421.8C981.7,419.2 985.7,414.9 989.7,411.9C993.7,408.9 998.5,405.5 1001.9,404C1005.3,402.5 1006.9,403 1009.8,403C1012.8,403 1016.5,403.6 1019.8,404C1023.1,404.3 1026.4,404.8 1029.7,405C1033,405.1 1036.3,405.5 1039.6,405C1042.9,404.5 1046.2,403.8 1049.5,402C1052.8,400.2 1055.8,396.7 1059.4,394C1063.1,391.4 1068,386.1 1071.3,386.1C1074.7,386.1 1076.6,390.7 1079.3,394C1081.9,397.4 1084.6,402.3 1087.2,406C1089.9,409.6 1092.8,414.9 1095.2,415.9C1097.5,416.9 1098.8,414.9 1101.1,411.9C1103.4,408.9 1105.9,403.3 1109,398C1112.2,392.7 1116.7,380.8 1120,380.2C1123.3,379.5 1126.1,388.4 1128.9,394C1131.7,399.7 1134,405.9 1136.8,413.9C1139.6,421.9 1143.6,435.8 1145.8,442.1C1147.9,448.3 1148.6,450.2 1149.7,451.4C1150.9,452.7 1151.5,451.4 1152.7,449.4C1153.9,447.5 1154.7,443.1 1156.7,439.5C1158.7,435.9 1161.6,434.7 1164.6,427.8C1167.6,420.9 1171.5,399.7 1174.5,398C1177.5,396.4 1180.1,410.3 1182.5,417.9C1184.8,425.5 1186.4,434.1 1188.4,443.7C1190.4,453.2 1192.4,463.8 1194.4,475.2C1196.3,486.7 1198.2,503.6 1200.2,512.2C1202.1,520.8 1204.9,524 1206.3,526.8C1207.7,529.7 1207.3,527.5 1208.6,529.2C1209.9,530.8 1212.1,534.8 1214.2,536.7C1216.3,538.7 1218.7,537.8 1221.4,541C1224.1,544.1 1227.8,551.2 1230.5,555.6C1233.3,560.1 1235.4,564.8 1237.9,567.6C1240.5,570.5 1242.8,573.5 1245.8,572.7C1248.7,572 1252.1,565.9 1255.4,563C1258.8,560.2 1262.2,555.7 1265.6,555.7C1268.9,555.7 1272.4,560.6 1275.7,563C1279,565.5 1282.5,571.2 1285.4,570.4C1288.2,569.7 1290.5,563.8 1292.9,558.4C1295.3,552.9 1297.4,546.9 1299.7,537.8C1302,528.6 1304.3,513.4 1306.6,503.4C1308.9,493.3 1311.2,485.3 1313.5,477.6C1315.8,469.8 1317.8,463.2 1320.4,456.9C1322.9,450.6 1326.1,444.9 1329,439.7C1331.8,434.6 1334.4,430.6 1337.6,426C1340.7,421.4 1344.4,415.7 1347.9,412.2C1351.3,408.8 1354.8,407.9 1358.2,405.3C1361.6,402.8 1365.1,400.2 1368.5,396.7C1372,393.3 1375.4,388.1 1378.8,384.7C1382.3,381.3 1385.9,378 1389.2,376.1C1392.4,374.2 1395.2,374.4 1398.6,373.2C1402.1,371.9 1406.2,369.9 1409.8,368.4C1413.4,366.9 1416.8,363.9 1420.1,364.2C1423.4,364.5 1426.4,365.3 1429.6,370.1C1432.7,375 1435.6,385.4 1439,393.3C1442.5,401.2 1448.3,413.4 1450.2,417.4" stroke="#b248c2" stroke-width="1.7" fill="none" stroke-linejoin="round"/>
<path d="M126.9,413.9C128.4,417.7 133.1,437.7 135.9,436.7C138.7,435.7 141.2,424.3 143.8,407.9C146.5,391.6 149.1,361.6 151.7,338.5C154.4,315.3 156.9,286.4 159.7,269C162.5,251.7 165.6,235.6 168.6,234.3C171.6,233 174.9,242.1 177.5,261.1C180.2,280.1 182.5,320.6 184.5,348.4C186.5,376.2 187.6,406 189.4,427.8C191.3,449.6 193.4,464 195.4,479.2C197.4,494.4 199.4,509.3 201.3,518.9C203.3,528.5 205,536.7 207.3,536.7C209.6,536.7 212.3,528.5 215.2,518.9C218.2,509.3 221.9,491.4 225.2,479.2C228.5,467 231.4,462.3 235.1,445.5C238.7,428.6 243,407.6 247,378.2C251,348.8 254.9,297.2 258.9,269C262.9,240.9 267.1,221.9 270.8,209.5C274.5,197.1 277.8,192.3 281.1,194.6C284.4,197 287.1,204.4 290.6,223.4C294.2,242.4 299.2,284.6 302.5,308.7C305.8,332.9 307.8,352.4 310.5,368.3C313.1,384.1 315.1,395.4 318.4,404C321.7,412.6 326,420.2 330.3,419.8C334.6,419.5 339.6,408.9 344.2,402C348.8,395 354.5,382.6 358.1,378.2C361.7,373.7 363.1,373.5 366,375.2C369,376.9 373,381.3 376,388.1C378.9,394.9 380.9,406.8 383.9,415.9C386.9,425 390.2,444 393.8,442.7C397.4,441.3 402.4,423.6 405.7,407.9C409,392.2 411.9,361.6 413.7,348.4C415.4,335.2 415,338.5 416,328.6C416.9,318.7 418.6,297.2 419.6,288.9C420.6,280.6 420.5,286.6 421.9,279C423.3,271.4 425.9,252.2 427.9,243.3C429.8,234.3 431.8,229.2 433.8,225.4C435.8,221.6 437.1,219.1 439.8,220.4C442.4,221.8 446.4,227.9 449.7,233.3C453,238.8 456.3,246.6 459.6,253.2C462.9,259.8 466.2,267.1 469.5,273C472.8,279 476.1,283.6 479.4,288.9C482.8,294.2 486.8,301.5 489.4,304.8C491.9,308.1 492.6,310.4 494.9,308.7C497.2,307.1 500.5,299.5 503.3,294.8C506,290.2 508.4,284.3 511.2,281C514,277.6 517.1,274.3 520.1,275C523.1,275.7 526.2,279.3 529,284.9C531.9,290.5 534.3,299.8 537,308.7C539.6,317.7 542.3,328.6 544.9,338.5C547.6,348.4 550.2,358.3 552.9,368.3C555.5,378.2 558.1,388.1 560.8,398C563.4,407.9 566.1,420.2 568.7,427.8C571.4,435.4 574.2,440.3 576.7,443.7C579.1,447 581,447.9 583.6,447.6C586.3,447.3 589.7,445 592.5,441.7C595.4,438.4 597.8,432.1 600.5,427.8C603.1,423.5 605.4,419.5 608.4,415.9C611.4,412.2 615,411.2 618.3,406C621.6,400.7 625.3,390.4 628.3,384.1C631.2,377.8 633.4,371.6 636.2,368.3C639,364.9 642.1,363.3 645.1,364.3C648.1,365.3 650.9,368.9 654,374.2C657.2,379.5 660.8,391.6 664,396C667.1,400.5 669.9,403 672.9,401C675.9,399 679,388.9 681.8,384.1C684.6,379.3 687.1,374.7 689.8,372.2C692.4,369.7 696,369.7 697.7,369.2C699.4,368.8 698.7,367.8 700,369.2C701.3,370.7 704.3,375.7 705.6,378.2C707,380.7 706.2,380.5 707.9,384.1C709.6,387.8 712.9,395.2 715.9,400C718.8,404.8 722.8,411.6 725.8,412.9C728.8,414.2 731.1,409.4 733.7,407.9C736.4,406.4 738.7,403 741.7,404C744.6,405 748.4,411.1 751.6,413.9C754.7,416.7 757.5,423.5 760.5,420.8C763.5,418.2 766.6,406.8 769.4,398C772.3,389.3 775.1,376.5 777.4,368.3C779.7,360 781.3,352.5 783.3,348.4C785.3,344.3 787,341.8 789.3,343.5C791.6,345.1 794.6,349.2 797.2,358.3C799.9,367.4 802.5,384.8 805.2,398C807.8,411.2 810.4,428.8 813.1,437.7C815.7,446.6 818.1,448.6 821,451.4C824,454.2 828,453.1 831,454.4C833.9,455.7 836.2,456.2 838.9,459.4C841.5,462.5 844.2,466.6 846.8,473.3C849.5,479.9 852.1,489.8 854.8,499C857.4,508.3 860.2,521.2 862.7,528.8C865.2,536.4 867.3,544.7 869.6,544.7C872,544.7 874.8,538.1 876.6,528.8C878.4,519.6 879.2,504 880.6,489.1C881.9,474.2 883.2,456.4 884.5,439.5C885.8,422.7 887.2,409.9 888.5,388.1C889.8,366.3 890.8,335.2 892.5,308.7C894.1,282.3 896.4,249.9 898.4,229.4C900.4,208.9 902.5,195.3 904.4,185.7C906.2,176.1 907.3,171.2 909.3,171.8C911.3,172.5 914.1,180.1 916.3,189.7C918.4,199.3 920.2,212.8 922.2,229.4C924.2,245.9 926.2,270.7 928.2,288.9C930.2,307.1 932.1,324.6 934.1,338.5C936.1,352.4 937.8,363.3 940.1,372.2C942.4,381.2 945,386.4 948,392.1C951,397.7 954.6,402 957.9,406C961.2,409.9 964.6,412.6 967.9,415.9C971.2,419.2 974.5,422.7 977.8,425.8C981.1,428.9 984.7,433.4 987.7,434.7C990.7,436 992.8,436.5 995.8,433.7C998.8,430.9 1002.9,425.5 1005.9,417.9C1008.9,410.3 1010.8,396.7 1013.8,388.1C1016.8,379.5 1020.4,367.3 1023.7,366.3C1027,365.3 1030.7,375.9 1033.7,382.1C1036.6,388.4 1038.9,397.7 1041.6,404C1044.2,410.3 1047.2,416 1049.5,419.8C1051.8,423.6 1053.2,428.8 1055.5,426.8C1057.8,424.8 1060.8,416 1063.4,407.9C1066.1,399.8 1068.7,387.1 1071.3,378.2C1074,369.2 1076.5,360.3 1079.3,354.4C1082.1,348.4 1085.2,341.8 1088.2,342.5C1091.2,343.1 1094.3,350.7 1097.1,358.3C1100,365.9 1102.4,379.5 1105.1,388.1C1107.7,396.7 1110.7,405.6 1113,409.9C1115.3,414.2 1116.3,415.5 1119,413.9C1121.6,412.2 1125.9,403 1128.9,400C1131.9,397 1134.2,396.4 1136.8,396C1139.5,395.7 1142.1,397 1144.8,398C1147.4,399 1150.1,402.6 1152.7,402C1155.3,401.3 1158,399.7 1160.6,394C1163.3,388.4 1165.9,377.5 1168.6,368.3C1171.2,359 1173.9,345.8 1176.5,338.5C1179.2,331.2 1182.1,327.6 1184.4,324.6C1186.8,321.6 1187.8,320 1190.4,320.6C1193,321.3 1197.3,324.7 1200.3,328.6C1203.3,332.5 1205.5,340 1208.4,344C1211.3,347.9 1214.8,350.7 1217.7,352.3C1220.6,353.9 1223,351.9 1226,353.6C1228.9,355.3 1232.4,359.9 1235.2,362.5C1238.1,365.1 1241.2,367.1 1243,369.3C1244.8,371.6 1244.5,374.5 1246,376.2C1247.4,377.9 1250.3,378.9 1251.6,379.6C1252.9,380.2 1252.3,381.2 1253.9,380.2C1255.5,379.1 1258.2,375.3 1261,373.3C1263.8,371.3 1267.6,367.8 1270.6,368.3C1273.7,368.8 1276.8,373.7 1279.4,376.2C1281.9,378.6 1283.7,381.1 1286,383C1288.2,384.8 1290.3,387.9 1292.9,387.3C1295.4,386.7 1298.6,381.8 1301.5,379.6C1304.3,377.3 1306.9,372.7 1310.1,373.5C1313.2,374.4 1316.9,381.7 1320.4,384.7C1323.8,387.7 1327.8,392.4 1330.7,391.6C1333.6,390.7 1335.8,384.7 1337.6,379.6C1339.3,374.4 1339,368.2 1341,360.7C1343,353.3 1346.9,341.3 1349.6,334.9C1352.3,328.6 1354.8,322.6 1357.3,322.9C1359.9,323.2 1362.6,328.9 1365.1,336.7C1367.5,344.4 1369.7,356.7 1372,369.3C1374.3,381.9 1376.8,401.9 1378.8,412.2C1380.8,422.5 1382,426 1384,431.1C1386,436.3 1388.3,440.9 1390.9,443.2C1393.5,445.5 1396.6,445.2 1399.5,444.9C1402.3,444.6 1405.8,443.2 1408.1,441.5C1410.4,439.7 1411.5,438.6 1413.2,434.6C1414.9,430.6 1416.7,427.4 1418.4,417.4C1420.1,407.4 1421.8,386.7 1423.5,374.4C1425.3,362.1 1427,360.1 1428.7,343.5C1430.4,326.9 1432.4,294.8 1433.9,274.8C1435.3,254.7 1436.2,238.9 1437.3,223.2C1438.4,207.4 1439.6,192.2 1440.7,180.2C1441.9,168.1 1442.7,157.6 1444.2,151C1445.6,144.3 1448.5,142 1449.3,140.2" stroke="#1d1d5a" stroke-width="1.7" fill="none" stroke-linejoin="round"/>
<path d="M126.9,459.4C129.8,460.4 138.7,463.7 143.8,465.3C148.9,467 153.4,468.8 157.7,469.3C162,469.8 166,469.1 169.6,468.3C173.2,467.5 175.9,466 179.5,464.3C183.2,462.7 186.8,460.5 191.4,458.4C196.1,456.2 202.3,453.1 207.3,451.4C212.3,449.8 217.2,448.8 221.2,448.5C225.2,448.1 228.1,449.2 231.1,449C234.1,448.9 234.4,448.8 239,447.6C243.7,446.4 252.3,445 258.9,441.7C265.5,438.4 272.1,432.1 278.7,427.8C285.3,423.5 292,419.5 298.6,415.9C305.2,412.2 311.8,408.6 318.4,406C325,403.3 331.6,402.3 338.3,400C344.9,397.7 351.5,394.7 358.1,392.1C364.7,389.4 371.3,386.4 377.9,384.1C384.6,381.8 392.4,379.5 397.8,378.2C403.1,376.9 406.4,376.2 410,376.2C413.6,376.2 417.6,377.8 419.6,378.2C421.6,378.5 419.5,377.3 421.9,378.2C424.3,379 429.2,381.3 433.8,383.1C438.4,385 445.1,387.8 449.7,389.1C454.3,390.4 457.6,390.6 461.6,391.1C465.6,391.6 468.9,392.2 473.5,392.1C478.1,391.9 484.4,391.4 489.4,390.1C494.3,388.8 498.6,386.1 503.3,384.1C507.9,382.1 512.8,380.2 517.1,378.2C521.4,376.2 524.4,374.5 529,372.2C533.7,369.9 539.6,366.6 544.9,364.3C550.2,362 555.5,360 560.8,358.3C566.1,356.7 571.4,355.3 576.7,354.4C582,353.4 587.2,353.2 592.5,352.8C597.8,352.4 603.5,352.7 608.4,352C613.4,351.3 617.3,349.8 622.3,348.4C627.3,347 632.9,345.4 638.2,343.5C643.5,341.5 649.1,338.8 654,336.5C659,334.2 663,331.9 667.9,329.6C672.9,327.2 678.8,324.8 683.8,322.6C688.8,320.5 695,317.7 697.7,316.7C700.4,315.7 697.6,317.7 700,316.7C702.4,315.7 707.6,312.5 711.9,310.7C716.2,308.9 720.8,306.9 725.8,305.8C730.8,304.6 736.7,303.6 741.7,303.8C746.6,303.9 750.9,305.3 755.6,306.7C760.2,308.2 764.8,310.4 769.4,312.7C774.1,315 778.4,317.3 783.3,320.6C788.3,323.9 793.9,328.2 799.2,332.5C804.5,336.8 809.8,341.8 815.1,346.4C820.4,351.1 825.7,356 831,360.3C836.2,364.6 841.5,368.6 846.8,372.2C852.1,375.9 857.4,378.8 862.7,382.1C868,385.4 873.9,388.9 878.6,392.1C883.2,395.2 886.5,399.2 890.5,401C894.4,402.8 897.8,402.8 902.4,403C907,403.1 913,402.6 918.3,402C923.5,401.3 928.8,400.2 934.1,399C939.4,397.9 945,396.2 950,395C955,393.9 959.3,392.2 963.9,392.1C968.5,391.9 973.5,392.9 977.8,394C982.1,395.2 985.7,397.4 989.7,399C993.7,400.7 997.9,402.1 1001.9,404C1005.9,405.8 1009.8,408.3 1013.8,409.9C1017.8,411.6 1022.1,412.9 1025.7,413.9C1029.4,414.9 1032,415.9 1035.6,415.9C1039.3,415.9 1043.6,414.9 1047.5,413.9C1051.5,412.9 1055.1,411.6 1059.4,409.9C1063.7,408.3 1069,405.5 1073.3,404C1077.6,402.5 1081.3,401 1085.2,401C1089.2,401 1093.2,402.5 1097.1,404C1101.1,405.5 1105.1,407.9 1109,409.9C1113,411.9 1117,413.9 1121,415.9C1124.9,417.9 1128.2,419.5 1132.9,421.8C1137.5,424.1 1143.4,427.4 1148.7,429.8C1154,432.1 1159.3,433.7 1164.6,435.7C1169.9,437.7 1174.9,439.8 1180.5,441.7C1186.1,443.5 1194.4,445.7 1198.3,446.6C1202.3,447.6 1201.7,447.2 1204.3,447.5C1206.9,447.7 1210.2,447.3 1213.8,448.3C1217.3,449.3 1221.8,451.5 1225.8,453.5C1229.8,455.5 1233.5,457.5 1237.8,460.4C1242.1,463.2 1247,467 1251.6,470.7C1256.2,474.4 1261,479 1265.3,482.7C1269.6,486.5 1273.4,490.2 1277.4,493C1281.4,495.9 1285.7,497.9 1289.4,499.9C1293.1,501.9 1296.3,503.8 1299.7,505.1C1303.2,506.4 1306.6,506.9 1310.1,507.7C1313.5,508.4 1315.8,508.8 1320.4,509.4C1325,510 1331.8,510.5 1337.6,511.1C1343.3,511.7 1349,512.2 1354.8,512.8C1360.5,513.4 1366.2,514 1372,514.5C1377.7,515.1 1383.4,516 1389.2,516.3C1394.9,516.5 1401.5,516.4 1406.3,516.3C1411.2,516.1 1414.4,515.3 1418.4,515.4C1422.4,515.5 1426.6,516.3 1430.4,517.1C1434.3,517.9 1439.7,519.7 1441.6,520.2" stroke="#ff6060" stroke-opacity="0.3" stroke-width="4" fill="none" filter="url(#glow)"/>
<path d="M126.9,459.4C129.8,460.4 138.7,463.7 143.8,465.3C148.9,467 153.4,468.8 157.7,469.3C162,469.8 166,469.1 169.6,468.3C173.2,467.5 175.9,466 179.5,464.3C183.2,462.7 186.8,460.5 191.4,458.4C196.1,456.2 202.3,453.1 207.3,451.4C212.3,449.8 217.2,448.8 221.2,448.5C225.2,448.1 228.1,449.2 231.1,449C234.1,448.9 234.4,448.8 239,447.6C243.7,446.4 252.3,445 258.9,441.7C265.5,438.4 272.1,432.1 278.7,427.8C285.3,423.5 292,419.5 298.6,415.9C305.2,412.2 311.8,408.6 318.4,406C325,403.3 331.6,402.3 338.3,400C344.9,397.7 351.5,394.7 358.1,392.1C364.7,389.4 371.3,386.4 377.9,384.1C384.6,381.8 392.4,379.5 397.8,378.2C403.1,376.9 406.4,376.2 410,376.2C413.6,376.2 417.6,377.8 419.6,378.2C421.6,378.5 419.5,377.3 421.9,378.2C424.3,379 429.2,381.3 433.8,383.1C438.4,385 445.1,387.8 449.7,389.1C454.3,390.4 457.6,390.6 461.6,391.1C465.6,391.6 468.9,392.2 473.5,392.1C478.1,391.9 484.4,391.4 489.4,390.1C494.3,388.8 498.6,386.1 503.3,384.1C507.9,382.1 512.8,380.2 517.1,378.2C521.4,376.2 524.4,374.5 529,372.2C533.7,369.9 539.6,366.6 544.9,364.3C550.2,362 555.5,360 560.8,358.3C566.1,356.7 571.4,355.3 576.7,354.4C582,353.4 587.2,353.2 592.5,352.8C597.8,352.4 603.5,352.7 608.4,352C613.4,351.3 617.3,349.8 622.3,348.4C627.3,347 632.9,345.4 638.2,343.5C643.5,341.5 649.1,338.8 654,336.5C659,334.2 663,331.9 667.9,329.6C672.9,327.2 678.8,324.8 683.8,322.6C688.8,320.5 695,317.7 697.7,316.7C700.4,315.7 697.6,317.7 700,316.7C702.4,315.7 707.6,312.5 711.9,310.7C716.2,308.9 720.8,306.9 725.8,305.8C730.8,304.6 736.7,303.6 741.7,303.8C746.6,303.9 750.9,305.3 755.6,306.7C760.2,308.2 764.8,310.4 769.4,312.7C774.1,315 778.4,317.3 783.3,320.6C788.3,323.9 793.9,328.2 799.2,332.5C804.5,336.8 809.8,341.8 815.1,346.4C820.4,351.1 825.7,356 831,360.3C836.2,364.6 841.5,368.6 846.8,372.2C852.1,375.9 857.4,378.8 862.7,382.1C868,385.4 873.9,388.9 878.6,392.1C883.2,395.2 886.5,399.2 890.5,401C894.4,402.8 897.8,402.8 902.4,403C907,403.1 913,402.6 918.3,402C923.5,401.3 928.8,400.2 934.1,399C939.4,397.9 945,396.2 950,395C955,393.9 959.3,392.2 963.9,392.1C968.5,391.9 973.5,392.9 977.8,394C982.1,395.2 985.7,397.4 989.7,399C993.7,400.7 997.9,402.1 1001.9,404C1005.9,405.8 1009.8,408.3 1013.8,409.9C1017.8,411.6 1022.1,412.9 1025.7,413.9C1029.4,414.9 1032,415.9 1035.6,415.9C1039.3,415.9 1043.6,414.9 1047.5,413.9C1051.5,412.9 1055.1,411.6 1059.4,409.9C1063.7,408.3 1069,405.5 1073.3,404C1077.6,402.5 1081.3,401 1085.2,401C1089.2,401 1093.2,402.5 1097.1,404C1101.1,405.5 1105.1,407.9 1109,409.9C1113,411.9 1117,413.9 1121,415.9C1124.9,417.9 1128.2,419.5 1132.9,421.8C1137.5,424.1 1143.4,427.4 1148.7,429.8C1154,432.1 1159.3,433.7 1164.6,435.7C1169.9,437.7 1174.9,439.8 1180.5,441.7C1186.1,443.5 1194.4,445.7 1198.3,446.6C1202.3,447.6 1201.7,447.2 1204.3,447.5C1206.9,447.7 1210.2,447.3 1213.8,448.3C1217.3,449.3 1221.8,451.5 1225.8,453.5C1229.8,455.5 1233.5,457.5 1237.8,460.4C1242.1,463.2 1247,467 1251.6,470.7C1256.2,474.4 1261,479 1265.3,482.7C1269.6,486.5 1273.4,490.2 1277.4,493C1281.4,495.9 1285.7,497.9 1289.4,499.9C1293.1,501.9 1296.3,503.8 1299.7,505.1C1303.2,506.4 1306.6,506.9 1310.1,507.7C1313.5,508.4 1315.8,508.8 1320.4,509.4C1325,510 1331.8,510.5 1337.6,511.1C1343.3,511.7 1349,512.2 1354.8,512.8C1360.5,513.4 1366.2,514 1372,514.5C1377.7,515.1 1383.4,516 1389.2,516.3C1394.9,516.5 1401.5,516.4 1406.3,516.3C1411.2,516.1 1414.4,515.3 1418.4,515.4C1422.4,515.5 1426.6,516.3 1430.4,517.1C1434.3,517.9 1439.7,519.7 1441.6,520.2" stroke="#6e1616" stroke-width="2.2" fill="none" stroke-linejoin="round"/>
<path d="M126.9,384.1 129.9,387.1 133.9,380.2 136.9,382.1 139.8,381.2 142.8,384.1 145.8,385.1 148.8,378.2 152.7,380.2 157.7,377.2 162.7,381.2 167.6,386.1 169.6,381.2 173.6,384.1 177.5,393.1 180.5,386.1 183.5,385.1 186.5,370.2 189.4,364.3 195.4,368.3 199.4,365.3 205.3,372.2 210.3,366.3 215.2,367.3 218.2,370.2 221.2,360.3 224.2,355.4 231.1,364.3 239,376.2 247,386.1 254.9,394 262.9,401 268.8,378.2 274.8,388.1 278.7,393.1 282.7,374.2 286.7,378.2 292.6,381.2 298.6,386.1 302.5,380.2 308.5,372.2 313.5,365.3 316.4,356.3 320.4,353.4 324.4,357.3 326.3,355.4 330.3,362.3 336.3,366.3 340.2,370.2 344.2,376.2 350.2,382.1 354.1,386.1 357.1,380.2 361.1,382.1 366,386.1 372,392.1 377.9,398 383.9,397 389.8,404 393.8,398 399.8,397 405.7,399 410,401 411.7,402 414,404 415.6,403 417.9,406 421.9,404 425.9,405 429.8,406 433.8,410.9 436.8,406 439.8,400 443.7,398 445.7,387.1 448.7,387.1 451.7,391.1 457.6,397 461.6,399 465.6,402 469.5,406 473.5,411.9 477.5,415.9 483.4,425.8 485.4,420.8 489.4,418.8 493.3,421.8 497.3,425.8 501.3,426.8 505.2,431.7 513.2,439.7 521.1,448.6 529,459.4 539,467.3 548.9,479.2 557.8,491.1 566.7,499 574.7,509 582.6,516.9 588.6,526.8 596.5,534.8 602.5,541.7 608.4,544.7 618.3,550.6 628.3,556.6 638.2,562.5 648.1,567.5 658,572.5 667.9,577.4 677.9,583.4 687.8,589.3 697.7,594.3 700,595.3 704.3,598.3 706.9,594.3 711.9,597.3 716.9,600.2 719.8,598.3 723.8,596.3 727.8,600.2 732.7,603.2 735.7,599.2 740.7,598.3 743.7,588.3 746.6,584.4 749.6,590.3 752.6,578.4 755.6,569.5 757.5,568.5 758.5,532.8 761.5,535.8 764.5,524.8 768.5,526.8 770.4,522.9 772.4,483.2 777.4,482.2 781.3,489.1 786.3,494.1 790.3,489.1 794.2,495.1 798.2,500 801.2,481.2 805.2,483.2 809.1,478.2 813.1,487.1 817.1,492.1 821,495.1 825,502 827,497.1 831,473.3 835.9,481.2 838.9,482.2 842.9,477.2 845.8,471.3 848.8,481.2 852.8,484.2 858.7,488.1 861.7,491.1 864.7,478.2 868.7,483.2 872.6,489.1 875.6,469.3 879.6,480.2 882.5,477.2 885.5,465.3 888.5,469.3 891.5,476.2 893.5,459.4 896.4,463.3 899.4,461.3 902.4,455.4 904.4,447.5 907.3,451.4 910.3,458.4 914.3,463.3 920.2,470.3 924.2,473.3 926.2,463.3 928.2,455.4 931.2,459.4 933.1,445.5 938.1,435.6 942.1,439.5 945,443.5 947,431.6 949.6,441.5 951,409.8 954,408.8 957.9,414.7 959.9,397.9 961.9,407.8 964.9,408.8 968.8,417.7 972.8,425.6 976.8,418.7 981.7,419.7 985.7,413.7 988.7,419.7 991.7,426.6 994,426.8 995.6,428.6 997.9,415.9 1000.9,419.8 1003.9,425.8 1006.9,419.8 1009.8,423.8 1014.8,418.8 1015.8,345.4 1019.8,356.3 1021.7,364.3 1024.7,331.5 1027.7,362.3 1030.7,428.8 1034.6,407.9 1036.6,368.3 1038.6,318.7 1041.6,368.3 1044.6,380.2 1047.5,407.9 1051.5,419.8 1055.5,431.7 1059.4,439.7 1063.4,441.7 1066.4,421.8 1071.3,435.7 1075.3,411.9 1079.3,429.8 1083.3,415.9 1087.2,423.8 1091.2,425.8 1095.2,417.9 1098.1,413.9 1101.1,415.9 1105.1,427.8 1109,425.8 1113,429.8 1117,425.8 1121,435.7 1123.9,426.8 1126.9,437.7 1130.9,443.7 1132.9,449.4 1136.8,454.4 1144.8,461.3 1152.7,471.3 1156.7,475.2 1160.6,469.3 1164.6,459.4 1168.6,463.3 1172.5,467.3 1178.5,481.2 1184.4,489.1 1188.4,495.1 1194.4,503 1200.2,513.2 1203.4,519.7 1205.6,520.2 1208.4,509.6 1212.1,497.7 1215.8,499.5 1218.9,499.1 1220.2,501 1226,503.6 1229.7,501.3 1234.4,503.4 1236.5,501 1239.3,501.3 1242.1,491.2 1247.9,495.1 1251.6,496.5 1257.9,499 1260.2,500.8 1267.8,504 1268.8,505.1 1277.5,509.2 1282.5,513.7 1283.7,512.9 1285.8,503.2 1289.4,503.4 1293.7,497.3 1296.3,491.3 1303.2,495.6 1308.3,498.2 1313.5,481.9 1316.9,480.1 1322.1,477.6 1325.5,463.8 1330.7,462.1 1334.1,458.7 1337.6,460.4 1339.3,436.3 1342.7,433.7 1347,435.4 1349.6,427.7 1353,424.3 1356.5,422.5 1359.9,415.7 1363.4,413.1 1370.2,415.7 1373.7,414.8 1375.4,407.1 1378.8,407.1 1382.3,412.2 1387.4,413.9 1392.6,420.8 1396,426 1399.5,417.4 1402.9,424.3 1411.5,427.7 1416.7,419.1 1421.8,415.7 1423.5,412.2 1427,374.4 1430.4,371.8 1433,365.8 1437.3,374.4 1440.7,376.1 1444.2,384.7 1447.6,389.9 1451.1,396.7" stroke="#000" stroke-width="2.5" fill="none" stroke-linejoin="round"/>
<path d="M126.7,62.2H1452.2V733.3H126.7Z" stroke="#858585" stroke-width="1.4" fill="none"/>
<path d="M126.7,49.6V62.2M126.7,733.3V745.9M183,49.6V62.2M183,733.3V745.9M233.9,49.6V62.2M233.9,733.3V745.9M290.2,49.6V62.2M290.2,733.3V745.9M344.7,49.6V62.2M344.7,733.3V745.9M401.1,49.6V62.2M401.1,733.3V745.9M455.6,49.6V62.2M455.6,733.3V745.9M511.9,49.6V62.2M511.9,733.3V745.9M568.2,49.6V62.2M568.2,733.3V745.9M622.7,49.6V62.2M622.7,733.3V745.9M679.1,49.6V62.2M679.1,733.3V745.9M733.6,49.6V62.2M733.6,733.3V745.9M789.9,49.6V62.2M789.9,733.3V745.9M846.2,49.6V62.2M846.2,733.3V745.9M897.1,49.6V62.2M897.1,733.3V745.9M953.4,49.6V62.2M953.4,733.3V745.9M1007.9,49.6V62.2M1007.9,733.3V745.9M1064.3,49.6V62.2M1064.3,733.3V745.9M1118.8,49.6V62.2M1118.8,733.3V745.9M1175.1,49.6V62.2M1175.1,733.3V745.9M1231.4,49.6V62.2M1231.4,733.3V745.9M1285.9,49.6V62.2M1285.9,733.3V745.9M1342.3,49.6V62.2M1342.3,733.3V745.9M1396.8,49.6V62.2M1396.8,733.3V745.9M113.7,62.2H139.7M1438.2,62.2H1463.7M113.7,118.1H139.7M1438.2,118.1H1463.7M113.7,174H139.7M1438.2,174H1463.7M113.7,230H139.7M1438.2,230H1463.7M113.7,285.9H139.7M1438.2,285.9H1463.7M113.7,341.8H139.7M1438.2,341.8H1463.7M113.7,397.7H139.7M1438.2,397.7H1463.7M113.7,453.7H139.7M1438.2,453.7H1463.7M113.7,509.6H139.7M1438.2,509.6H1463.7M113.7,565.5H139.7M1438.2,565.5H1463.7M113.7,621.4H139.7M1438.2,621.4H1463.7M113.7,677.4H139.7M1438.2,677.4H1463.7M113.7,733.3H139.7M1438.2,733.3H1463.7" stroke="#858585" stroke-width="1.3" fill="none"/>
<g font-size="15" fill="#111"><text x="42" y="67.4" text-anchor="end">1.5</text><text x="42" y="123.3" text-anchor="end">1.25</text><text x="42" y="179.2" text-anchor="end">1</text><text x="42" y="235.2" text-anchor="end">0.75</text><text x="42" y="291.1" text-anchor="end">0.5</text><text x="42" y="347" text-anchor="end">0.25</text><text x="42" y="402.9" text-anchor="end">0</text><text x="42" y="458.9" text-anchor="end">-0.25</text><text x="42" y="514.8" text-anchor="end">-0.5</text><text x="42" y="570.7" text-anchor="end">-0.75</text><text x="42" y="626.6" text-anchor="end">-1</text><text x="42" y="682.6" text-anchor="end">-1.25</text><text x="42" y="738.5" text-anchor="end">-1.5</text></g>
<g font-size="15" fill="#3ccb3c"><text x="107" y="67.4" text-anchor="end">300</text><text x="107" y="123.3" text-anchor="end">275</text><text x="107" y="179.2" text-anchor="end">250</text><text x="107" y="235.2" text-anchor="end">225</text><text x="107" y="291.1" text-anchor="end">200</text><text x="107" y="347" text-anchor="end">175</text><text x="107" y="402.9" text-anchor="end">150</text><text x="107" y="458.9" text-anchor="end">125</text><text x="107" y="514.8" text-anchor="end">100</text><text x="107" y="570.7" text-anchor="end">75</text><text x="107" y="626.6" text-anchor="end">50</text><text x="107" y="682.6" text-anchor="end">25</text><text x="107" y="738.5" text-anchor="end">0</text></g>
<g font-size="15" fill="#a3562a"><text x="1469.7" y="67.4">4.5</text><text x="1469.7" y="123.3">3.75</text><text x="1469.7" y="179.2">3</text><text x="1469.7" y="235.2">2.25</text><text x="1469.7" y="291.1">1.5</text><text x="1469.7" y="347">0.75</text><text x="1469.7" y="402.9">0</text><text x="1469.7" y="458.9">-0.75</text><text x="1469.7" y="514.8">-1.5</text><text x="1469.7" y="570.7">-2.25</text><text x="1469.7" y="626.6">-3</text><text x="1469.7" y="682.6">-3.75</text><text x="1469.7" y="738.5">-4.5</text></g>
<g font-size="15" fill="#111"><text x="126.7" y="765.6" text-anchor="middle">J</text><text x="183" y="765.6" text-anchor="middle">F</text><text x="233.9" y="765.6" text-anchor="middle">M</text><text x="290.2" y="765.6" text-anchor="middle">A</text><text x="344.7" y="765.6" text-anchor="middle">M</text><text x="401.1" y="765.6" text-anchor="middle">J</text><text x="455.6" y="765.6" text-anchor="middle">J</text><text x="511.9" y="765.6" text-anchor="middle">A</text><text x="568.2" y="765.6" text-anchor="middle">S</text><text x="622.7" y="765.6" text-anchor="middle">O</text><text x="679.1" y="765.6" text-anchor="middle">N</text><text x="733.6" y="765.6" text-anchor="middle">D</text><text x="789.9" y="765.6" text-anchor="middle">J</text><text x="846.2" y="765.6" text-anchor="middle">F</text><text x="897.1" y="765.6" text-anchor="middle">M</text><text x="953.4" y="765.6" text-anchor="middle">A</text><text x="1007.9" y="765.6" text-anchor="middle">M</text><text x="1064.3" y="765.6" text-anchor="middle">J</text><text x="1118.8" y="765.6" text-anchor="middle">J</text><text x="1175.1" y="765.6" text-anchor="middle">A</text><text x="1231.4" y="765.6" text-anchor="middle">S</text><text x="1285.9" y="765.6" text-anchor="middle">O</text><text x="1342.3" y="765.6" text-anchor="middle">N</text><text x="1396.8" y="765.6" text-anchor="middle">D</text><text x="401.1" y="748.1">2006</text><text x="1064.3" y="748.1">2007</text></g>
<text x="789.5" y="56.2" text-anchor="middle" font-size="16.3" fill="#111">El Nino 2006 & IOD+</text>
<text x="15.5" y="25.5" font-size="42" fill="#000">e</text>
<text transform="translate(60,445.8) rotate(-90)" text-anchor="middle" font-size="15.5" fill="#111" textLength="54" lengthAdjust="spacingAndGlyphs">GWL(m)</text>
<text transform="translate(77,397.8) rotate(-90)" text-anchor="middle" font-size="15.5" fill="#3ccb3c" textLength="100" lengthAdjust="spacingAndGlyphs">Rainfall (mm)</text>
<text transform="translate(1529.7,414.8) rotate(-90)" text-anchor="middle" font-size="15.5" fill="#a3562a" textLength="485" lengthAdjust="spacingAndGlyphs">(Nino3.4,  DMI,  SSTA) <tspan font-size="11" dy="-6">o</tspan><tspan dy="6">C,  EPV (10</tspan><tspan font-size="11" dy="-6">-6</tspan><tspan dy="6">Nm</tspan><tspan font-size="11" dy="-6">-2</tspan><tspan dy="6">),  EMT (m</tspan><tspan font-size="11" dy="-6">2</tspan><tspan dy="6">s</tspan><tspan font-size="11" dy="-6">-1</tspan><tspan dy="6">)</tspan></text>
<rect x="1226.4" y="70.6" width="131.3" height="123" fill="#fff" stroke="#9a9a9a" stroke-width="1.2"/><rect x="1230.4" y="75.6" width="31.6" height="11.6" fill="#11ee11"/><text x="1265.9" y="85.5" font-size="11.5" fill="#000" textLength="47.3" lengthAdjust="spacingAndGlyphs">Rainfall</text><path d="M1230.4,98.3H1261.9" stroke="#000" stroke-width="2.8"/><text x="1265.9" y="102.4" font-size="11.5" fill="#000" textLength="30.1" lengthAdjust="spacingAndGlyphs">GWL</text><path d="M1230.4,115.2H1261.9" stroke="#6e1616" stroke-width="2.6"/><text x="1265.9" y="119.3" font-size="11.5" fill="#000" textLength="52.1" lengthAdjust="spacingAndGlyphs">NINO3.4</text><path d="M1230.4,132.1H1261.9" stroke="#8e7482" stroke-width="2.4"/><text x="1265.9" y="136.2" font-size="11.5" fill="#000" textLength="24.8" lengthAdjust="spacingAndGlyphs">DMI</text><path d="M1230.4,149H1261.9" stroke="#b248c2" stroke-width="1.7"/><text x="1265.9" y="153.1" font-size="11.5" fill="#000" textLength="84.3" lengthAdjust="spacingAndGlyphs">SST Anomaly</text><path d="M1230.4,165.9H1261.9" stroke="#1d1d5a" stroke-width="1.7"/><text x="1265.9" y="170" font-size="11.5" fill="#000" textLength="85.9" lengthAdjust="spacingAndGlyphs">EMT anomaly</text><path d="M1230.4,182.8H1261.9" stroke="#5ccfd8" stroke-width="1.9"/><text x="1265.9" y="186.9" font-size="11.5" fill="#000" textLength="83.6" lengthAdjust="spacingAndGlyphs">EPV anomaly</text></g>
<g><path d="M183.1,886V1558.5M234,886V1558.5M290.3,886V1558.5M344.9,886V1558.5M401.3,886V1558.5M455.8,886V1558.5M512.2,886V1558.5M568.5,886V1558.5M623.1,886V1558.5M679.4,886V1558.5M734,886V1558.5M790.4,886V1558.5M846.7,886V1558.5M897.6,886V1558.5M954,886V1558.5M1008.5,886V1558.5M1064.9,886V1558.5M1119.5,886V1558.5M1175.8,886V1558.5M1232.2,886V1558.5M1286.7,886V1558.5M1343.1,886V1558.5M1397.6,886V1558.5M126.7,942H1453.1M126.7,998.1H1453.1M126.7,1054.1H1453.1M126.7,1110.2H1453.1M126.7,1166.2H1453.1M126.7,1222.2H1453.1M126.7,1278.3H1453.1M126.7,1334.3H1453.1M126.7,1390.4H1453.1M126.7,1446.4H1453.1M126.7,1502.5H1453.1" stroke="#e4e4e4" stroke-width="1" fill="none"/>
<path d="M126.7,1222.2H1453.1" stroke="#c2c2c2" stroke-width="1.3" fill="none"/>
<path d="M126.7,1558.5V1547.5h1.8V1558.5M128.5,1558.5V1542.8h1.8V1558.5M130.3,1558.5V1539.6h1.8V1558.5M132.2,1558.5V1537.2h1.8V1558.5M134,1558.5V1553.6h1.8V1558.5M135.8,1558.5V1548.3h1.8V1558.5M139.4,1558.5V1555.3h1.8V1558.5M141.2,1558.5V1532.5h1.8V1558.5M143.1,1558.5V1549.9h1.8V1558.5M148.5,1558.5V1553.1h1.8V1558.5M150.3,1558.5V1550.7h1.8V1558.5M152.2,1558.5V1457.1h1.8V1558.5M154,1558.5V1529.3h1.8V1558.5M155.8,1558.5V1531.7h1.8V1558.5M157.6,1558.5V1535.6h1.8V1558.5M161.2,1558.5V1518.2h1.8V1558.5M163.1,1558.5V1553.9h1.8V1558.5M164.9,1558.5V1554.2h1.8V1558.5M166.7,1558.5V1519h1.8V1558.5M170.3,1558.5V1519h1.8V1558.5M174,1558.5V1553.1h1.8V1558.5M175.8,1558.5V1442.8h1.8V1558.5M177.6,1558.5V1557.6h1.8V1558.5M181.2,1558.5V1527.7h1.8V1558.5M183.1,1558.5V1548.3h1.8V1558.5M188.5,1558.5V1553.7h1.8V1558.5M197.6,1558.5V1553.7h1.8V1558.5M201.2,1558.5V1554.9h1.8V1558.5M203.1,1558.5V1553.9h1.8V1558.5M204.9,1558.5V1511.1h1.8V1558.5M208.5,1558.5V1553.7h1.8V1558.5M210.3,1558.5V1504.7h1.8V1558.5M212.2,1558.5V1555.5h1.8V1558.5M215.8,1558.5V1307.5h1.8V1558.5M217.6,1558.5V1534.9h1.8V1558.5M219.4,1558.5V1556.5h1.8V1558.5M221.2,1558.5V1401.7h1.8V1558.5M223.1,1558.5V1535.6h1.8V1558.5M224.9,1558.5V1501.1h1.8V1558.5M226.7,1558.5V1513.4h1.8V1558.5M228.5,1558.5V1554.2h1.8V1558.5M230.3,1558.5V1400.7h1.8V1558.5M232.2,1558.5V1556.3h1.8V1558.5M234,1558.5V1554.2h1.8V1558.5M235.8,1558.5V1496h1.8V1558.5M237.6,1558.5V1498.4h1.8V1558.5M239.4,1558.5V1553.6h1.8V1558.5M243.1,1558.5V1464.3h1.8V1558.5M244.9,1558.5V1556.4h1.8V1558.5M246.7,1558.5V1551.5h1.8V1558.5M248.5,1558.5V1460.3h1.8V1558.5M250.3,1558.5V1542.8h1.8V1558.5M254,1558.5V1549.1h1.8V1558.5M259.4,1558.5V1554.8h1.8V1558.5M261.2,1558.5V1557.3h1.8V1558.5M263.1,1558.5V1553.6h1.8V1558.5M264.9,1558.5V1557.2h1.8V1558.5M266.7,1558.5V1470.3h1.8V1558.5M268.5,1558.5V1532.5h1.8V1558.5M270.3,1558.5V1554h1.8V1558.5M272.2,1558.5V1508.7h1.8V1558.5M274,1558.5V1408.3h1.8V1558.5M275.8,1558.5V1557.1h1.8V1558.5M281.2,1558.5V1553.5h1.8V1558.5M284.9,1558.5V1503.1h1.8V1558.5M286.7,1558.5V1555.6h1.8V1558.5M288.5,1558.5V1553.2h1.8V1558.5M290.3,1558.5V1553.3h1.8V1558.5M292.2,1558.5V1494.4h1.8V1558.5M294,1558.5V1447.9h1.8V1558.5M295.8,1558.5V1556.3h1.8V1558.5M299.4,1558.5V1557.1h1.8V1558.5M303.1,1558.5V1553.7h1.8V1558.5M304.9,1558.5V1554.6h1.8V1558.5M306.7,1558.5V1555.7h1.8V1558.5M308.5,1558.5V1428.2h1.8V1558.5M310.3,1558.5V1530.9h1.8V1558.5M312.2,1558.5V1555.2h1.8V1558.5M315.8,1558.5V1540.4h1.8V1558.5M317.6,1558.5V1557.2h1.8V1558.5M319.4,1558.5V1554.7h1.8V1558.5M321.3,1558.5V1534.1h1.8V1558.5M323.1,1558.5V1519h1.8V1558.5M324.9,1558.5V1490.8h1.8V1558.5M326.7,1558.5V1555.6h1.8V1558.5M328.5,1558.5V1539.6h1.8V1558.5M332.2,1558.5V1545.2h1.8V1558.5M334,1558.5V1530.1h1.8V1558.5M335.8,1558.5V1553.7h1.8V1558.5M337.6,1558.5V1555.5h1.8V1558.5M339.4,1558.5V1557.1h1.8V1558.5M341.3,1558.5V1557.3h1.8V1558.5M343.1,1558.5V1550.7h1.8V1558.5M344.9,1558.5V1556.8h1.8V1558.5M357.6,1558.5V1554.5h1.8V1558.5M361.3,1558.5V1279.7h1.8V1558.5M363.1,1558.5V1553.1h1.8V1558.5M364.9,1558.5V1494.4h1.8V1558.5M366.7,1558.5V1556.4h1.8V1558.5M370.3,1558.5V1538.8h1.8V1558.5M372.2,1558.5V1556.3h1.8V1558.5M374,1558.5V1547.5h1.8V1558.5M375.8,1558.5V1528.2h1.8V1558.5M379.4,1558.5V1428.9h1.8V1558.5M381.3,1558.5V1554.1h1.8V1558.5M383.1,1558.5V1531.4h1.8V1558.5M384.9,1558.5V1554.2h1.8V1558.5M386.7,1558.5V1556.5h1.8V1558.5M388.5,1558.5V1554.1h1.8V1558.5M390.3,1558.5V1545.6h1.8V1558.5M392.2,1558.5V1557.1h1.8V1558.5M395.8,1558.5V1550.7h1.8V1558.5M397.6,1558.5V1555.5h1.8V1558.5M408.5,1558.5V1557.4h1.8V1558.5M410.3,1558.5V1557.2h1.8V1558.5M412.2,1558.5V1553.9h1.8V1558.5M414,1558.5V1552.3h1.8V1558.5M415.8,1558.5V1553.2h1.8V1558.5M421.3,1558.5V1547.5h1.8V1558.5M423.1,1558.5V1509.5h1.8V1558.5M424.9,1558.5V1557.2h1.8V1558.5M426.7,1558.5V1553.8h1.8V1558.5M443.1,1558.5V1554.4h1.8V1558.5M444.9,1558.5V1554.9h1.8V1558.5M446.7,1558.5V1556.8h1.8V1558.5M450.3,1558.5V1543.6h1.8V1558.5M454,1558.5V1553.6h1.8V1558.5M457.6,1558.5V1553.4h1.8V1558.5M459.4,1558.5V1551.5h1.8V1558.5M461.3,1558.5V1556.3h1.8V1558.5M463.1,1558.5V1527.7h1.8V1558.5M464.9,1558.5V1553.9h1.8V1558.5M466.7,1558.5V1547.2h1.8V1558.5M468.5,1558.5V1554.7h1.8V1558.5M470.3,1558.5V1557.2h1.8V1558.5M488.5,1558.5V1557.9h1.8V1558.5M492.2,1558.5V1553.4h1.8V1558.5M495.8,1558.5V1552.6h1.8V1558.5M530.3,1558.5V1556.8h1.8V1558.5M532.2,1558.5V1555.1h1.8V1558.5M534,1558.5V1555.2h1.8V1558.5M535.8,1558.5V1545.2h1.8V1558.5M537.6,1558.5V1556.9h1.8V1558.5M539.4,1558.5V1553.6h1.8V1558.5M541.3,1558.5V1553.3h1.8V1558.5M544.9,1558.5V1547.2h1.8V1558.5M592.2,1558.5V1489.3h1.8V1558.5M623.1,1558.5V1554.7h1.8V1558.5M624.9,1558.5V1555.4h1.8V1558.5M626.7,1558.5V1556.5h1.8V1558.5M628.5,1558.5V1554.7h1.8V1558.5M630.4,1558.5V1511.1h1.8V1558.5M632.2,1558.5V1473.3h1.8V1558.5M634,1558.5V1555.6h1.8V1558.5M637.6,1558.5V1557.1h1.8V1558.5M641.3,1558.5V1519h1.8V1558.5M643.1,1558.5V1485.4h1.8V1558.5M644.9,1558.5V1552.3h1.8V1558.5M646.7,1558.5V1557.2h1.8V1558.5M655.8,1558.5V1537.7h1.8V1558.5M657.6,1558.5V1555h1.8V1558.5M659.4,1558.5V1546h1.8V1558.5M663.1,1558.5V1557.1h1.8V1558.5M664.9,1558.5V1549.9h1.8V1558.5M666.7,1558.5V1557.6h1.8V1558.5M668.5,1558.5V1484.6h1.8V1558.5M670.4,1558.5V1555h1.8V1558.5M672.2,1558.5V1557.7h1.8V1558.5M674,1558.5V1556.1h1.8V1558.5M675.8,1558.5V1542.8h1.8V1558.5M677.6,1558.5V1554.3h1.8V1558.5M681.3,1558.5V1535.2h1.8V1558.5M684.9,1558.5V1556.8h1.8V1558.5M686.7,1558.5V1537.2h1.8V1558.5M688.5,1558.5V1543.6h1.8V1558.5M690.4,1558.5V1553.7h1.8V1558.5M692.2,1558.5V1519h1.8V1558.5M695.8,1558.5V1557.1h1.8V1558.5M697.6,1558.5V1521.4h1.8V1558.5M699.4,1558.5V1528.5h1.8V1558.5M701.3,1558.5V1556.7h1.8V1558.5M706.7,1558.5V1555.5h1.8V1558.5M708.5,1558.5V1511.1h1.8V1558.5M710.4,1558.5V1547.5h1.8V1558.5M712.2,1558.5V1556.7h1.8V1558.5M715.8,1558.5V1548.3h1.8V1558.5M721.3,1558.5V1477.7h1.8V1558.5M724.9,1558.5V1547.5h1.8V1558.5M726.7,1558.5V1520.9h1.8V1558.5M728.5,1558.5V1531.7h1.8V1558.5M732.2,1558.5V1515.8h1.8V1558.5M735.8,1558.5V1433.3h1.8V1558.5M737.6,1558.5V1554.5h1.8V1558.5M739.4,1558.5V1526.9h1.8V1558.5M743.1,1558.5V1507.9h1.8V1558.5M744.9,1558.5V1553.5h1.8V1558.5M746.7,1558.5V1521.4h1.8V1558.5M748.5,1558.5V1246.9h1.8V1558.5M750.4,1558.5V1557.1h1.8V1558.5M752.2,1558.5V1544.4h1.8V1558.5M754,1558.5V1553.9h1.8V1558.5M755.8,1558.5V1540.4h1.8V1558.5M757.6,1558.5V1446.3h1.8V1558.5M759.4,1558.5V1536.4h1.8V1558.5M761.3,1558.5V1476.2h1.8V1558.5M763.1,1558.5V1556.4h1.8V1558.5M764.9,1558.5V1557.3h1.8V1558.5M766.7,1558.5V1544.4h1.8V1558.5M768.5,1558.5V1549.9h1.8V1558.5M772.2,1558.5V1557.3h1.8V1558.5M774,1558.5V1557.3h1.8V1558.5M775.8,1558.5V1539.6h1.8V1558.5M777.6,1558.5V1433.8h1.8V1558.5M781.3,1558.5V1553.1h1.8V1558.5M783.1,1558.5V1557.5h1.8V1558.5M784.9,1558.5V1450.8h1.8V1558.5M786.7,1558.5V1445.7h1.8V1558.5M788.5,1558.5V1555.8h1.8V1558.5M790.4,1558.5V1482.5h1.8V1558.5M792.2,1558.5V1537.2h1.8V1558.5M795.8,1558.5V1526.9h1.8V1558.5M797.6,1558.5V1503.9h1.8V1558.5M799.4,1558.5V1487.3h1.8V1558.5M801.3,1558.5V1521.4h1.8V1558.5M803.1,1558.5V1491.2h1.8V1558.5M804.9,1558.5V1545.2h1.8V1558.5M808.5,1558.5V1554.1h1.8V1558.5M810.4,1558.5V1553.9h1.8V1558.5M812.2,1558.5V1539.6h1.8V1558.5M814,1558.5V1512.3h1.8V1558.5M819.4,1558.5V1557.2h1.8V1558.5M821.3,1558.5V1554.7h1.8V1558.5M823.1,1558.5V1554.2h1.8V1558.5M824.9,1558.5V1543.6h1.8V1558.5M828.5,1558.5V1507.9h1.8V1558.5M830.4,1558.5V1504.7h1.8V1558.5M832.2,1558.5V1503.9h1.8V1558.5M835.8,1558.5V1493.6h1.8V1558.5M837.6,1558.5V1526.1h1.8V1558.5M841.3,1558.5V1534.9h1.8V1558.5M843.1,1558.5V1554.4h1.8V1558.5M844.9,1558.5V1553h1.8V1558.5M846.7,1558.5V1513.4h1.8V1558.5M848.5,1558.5V1526.9h1.8V1558.5M854,1558.5V1539.6h1.8V1558.5M855.8,1558.5V1482.2h1.8V1558.5M857.6,1558.5V1553.8h1.8V1558.5M859.4,1558.5V1553.6h1.8V1558.5M863.1,1558.5V1556.3h1.8V1558.5M868.5,1558.5V1530.1h1.8V1558.5M870.4,1558.5V1519.8h1.8V1558.5M874,1558.5V1555.2h1.8V1558.5M877.6,1558.5V1429.8h1.8V1558.5M879.4,1558.5V1543.6h1.8V1558.5M881.3,1558.5V1525.3h1.8V1558.5M884.9,1558.5V1541.2h1.8V1558.5M886.7,1558.5V1488.1h1.8V1558.5M888.5,1558.5V1310.4h1.8V1558.5M892.2,1558.5V1557.6h1.8V1558.5M894,1558.5V1549.9h1.8V1558.5M895.8,1558.5V1555.9h1.8V1558.5M897.6,1558.5V1556.3h1.8V1558.5M899.4,1558.5V1507.1h1.8V1558.5M901.3,1558.5V1396.7h1.8V1558.5M904.9,1558.5V1554.4h1.8V1558.5M906.7,1558.5V1464.3h1.8V1558.5M908.5,1558.5V1553.3h1.8V1558.5M910.4,1558.5V1555.6h1.8V1558.5M912.2,1558.5V1549.1h1.8V1558.5M914,1558.5V1531.4h1.8V1558.5M915.8,1558.5V1531.7h1.8V1558.5M923.1,1558.5V1534.9h1.8V1558.5M924.9,1558.5V1531.7h1.8V1558.5M926.7,1558.5V1549.9h1.8V1558.5M928.5,1558.5V1536.4h1.8V1558.5M930.4,1558.5V1511.9h1.8V1558.5M934,1558.5V1470.6h1.8V1558.5M935.8,1558.5V1556h1.8V1558.5M937.6,1558.5V1531.4h1.8V1558.5M941.3,1558.5V1553.4h1.8V1558.5M943.1,1558.5V1496h1.8V1558.5M946.7,1558.5V1553.9h1.8V1558.5M948.5,1558.5V1537.2h1.8V1558.5M950.4,1558.5V1464.3h1.8V1558.5M954,1558.5V1556.4h1.8V1558.5M955.8,1558.5V1430.6h1.8V1558.5M957.6,1558.5V1546.8h1.8V1558.5M963.1,1558.5V1553.1h1.8V1558.5M964.9,1558.5V1557.2h1.8V1558.5M966.7,1558.5V1524.5h1.8V1558.5M968.5,1558.5V1458.4h1.8V1558.5M970.4,1558.5V1523h1.8V1558.5M972.2,1558.5V1531.4h1.8V1558.5M975.8,1558.5V1493.6h1.8V1558.5M977.6,1558.5V1555.9h1.8V1558.5M979.5,1558.5V1555.4h1.8V1558.5M981.3,1558.5V1489.3h1.8V1558.5M984.9,1558.5V1512.3h1.8V1558.5M986.7,1558.5V1536.4h1.8V1558.5M988.5,1558.5V1405.6h1.8V1558.5M990.4,1558.5V1484.1h1.8V1558.5M992.2,1558.5V1475.4h1.8V1558.5M994,1558.5V1530.9h1.8V1558.5M997.6,1558.5V1554.7h1.8V1558.5M999.5,1558.5V1555.5h1.8V1558.5M1004.9,1558.5V1557.7h1.8V1558.5M1006.7,1558.5V1555.7h1.8V1558.5M1010.4,1558.5V1435.7h1.8V1558.5M1012.2,1558.5V1546.8h1.8V1558.5M1014,1558.5V1548.3h1.8V1558.5M1015.8,1558.5V1549.9h1.8V1558.5M1019.5,1558.5V1547.2h1.8V1558.5M1021.3,1558.5V1555.1h1.8V1558.5M1024.9,1558.5V1557.6h1.8V1558.5M1026.7,1558.5V1486.1h1.8V1558.5M1028.5,1558.5V1549.9h1.8V1558.5M1030.4,1558.5V1493.6h1.8V1558.5M1032.2,1558.5V1557.6h1.8V1558.5M1034,1558.5V1517.4h1.8V1558.5M1039.5,1558.5V1480.9h1.8V1558.5M1043.1,1558.5V1406.3h1.8V1558.5M1044.9,1558.5V1525.3h1.8V1558.5M1048.5,1558.5V1554.7h1.8V1558.5M1050.4,1558.5V1557.6h1.8V1558.5M1052.2,1558.5V1517.4h1.8V1558.5M1054,1558.5V1556.3h1.8V1558.5M1055.8,1558.5V1526.9h1.8V1558.5M1059.5,1558.5V1557h1.8V1558.5M1061.3,1558.5V1487.3h1.8V1558.5M1063.1,1558.5V1548.3h1.8V1558.5M1064.9,1558.5V1548.3h1.8V1558.5M1066.7,1558.5V1553.6h1.8V1558.5M1070.4,1558.5V1556.2h1.8V1558.5M1072.2,1558.5V1557.1h1.8V1558.5M1074,1558.5V1557.4h1.8V1558.5M1077.6,1558.5V1552.3h1.8V1558.5M1079.5,1558.5V1554.9h1.8V1558.5M1081.3,1558.5V1537.2h1.8V1558.5M1083.1,1558.5V1557.2h1.8V1558.5M1084.9,1558.5V1461.6h1.8V1558.5M1086.7,1558.5V1557.4h1.8V1558.5M1088.5,1558.5V1555.7h1.8V1558.5M1090.4,1558.5V1555.4h1.8V1558.5M1092.2,1558.5V1497.6h1.8V1558.5M1094,1558.5V1535.6h1.8V1558.5M1095.8,1558.5V1542.8h1.8V1558.5M1099.5,1558.5V1553.3h1.8V1558.5M1101.3,1558.5V1552.3h1.8V1558.5M1103.1,1558.5V1508.4h1.8V1558.5M1104.9,1558.5V1555.3h1.8V1558.5M1106.7,1558.5V1556.1h1.8V1558.5M1108.5,1558.5V1498.4h1.8V1558.5M1110.4,1558.5V1553.4h1.8V1558.5M1112.2,1558.5V1363.6h1.8V1558.5M1114,1558.5V1530.1h1.8V1558.5M1115.8,1558.5V1549.9h1.8V1558.5M1117.6,1558.5V1555.9h1.8V1558.5M1121.3,1558.5V1556.6h1.8V1558.5M1123.1,1558.5V1556.3h1.8V1558.5M1126.7,1558.5V1557.2h1.8V1558.5M1132.2,1558.5V1267.4h1.8V1558.5M1134,1558.5V1554.9h1.8V1558.5M1135.8,1558.5V1555.4h1.8V1558.5M1137.6,1558.5V1554.7h1.8V1558.5M1139.5,1558.5V1534.9h1.8V1558.5M1141.3,1558.5V1544.4h1.8V1558.5M1143.1,1558.5V1424.1h1.8V1558.5M1150.4,1558.5V1540.1h1.8V1558.5M1152.2,1558.5V1499.5h1.8V1558.5M1155.8,1558.5V1554.6h1.8V1558.5M1159.5,1558.5V1552.3h1.8V1558.5M1161.3,1558.5V1512.3h1.8V1558.5M1163.1,1558.5V1555h1.8V1558.5M1164.9,1558.5V1557.5h1.8V1558.5M1166.7,1558.5V1549.9h1.8V1558.5M1174,1558.5V1546.8h1.8V1558.5M1177.6,1558.5V1550.7h1.8V1558.5M1179.5,1558.5V1557h1.8V1558.5M1181.3,1558.5V1554.7h1.8V1558.5M1183.1,1558.5V1538h1.8V1558.5M1184.9,1558.5V1349.1h1.8V1558.5M1190.4,1558.5V1436.2h1.8V1558.5M1192.2,1558.5V1545.2h1.8V1558.5M1194,1558.5V1556.6h1.8V1558.5M1195.8,1558.5V1538h1.8V1558.5M1197.6,1558.5V1556.6h1.8V1558.5M1199.5,1558.5V1552.3h1.8V1558.5M1204.9,1558.5V1469.3h1.8V1558.5M1206.7,1558.5V1556.9h1.8V1558.5M1208.5,1558.5V1549.9h1.8V1558.5M1210.4,1558.5V1555.2h1.8V1558.5M1212.2,1558.5V1501.5h1.8V1558.5M1214,1558.5V1553.9h1.8V1558.5M1215.8,1558.5V1542.8h1.8V1558.5M1219.5,1558.5V1544.9h1.8V1558.5M1221.3,1558.5V1553.2h1.8V1558.5M1223.1,1558.5V1480.1h1.8V1558.5M1224.9,1558.5V1553.1h1.8V1558.5M1230.4,1558.5V1549.1h1.8V1558.5M1232.2,1558.5V1557.1h1.8V1558.5M1235.8,1558.5V1538h1.8V1558.5M1237.6,1558.5V1533.3h1.8V1558.5M1239.5,1558.5V1525.3h1.8V1558.5M1241.3,1558.5V1390.8h1.8V1558.5M1244.9,1558.5V1485.6h1.8V1558.5M1246.7,1558.5V1533.1h1.8V1558.5M1248.5,1558.5V1556.7h1.8V1558.5M1252.2,1558.5V1549.9h1.8V1558.5M1254,1558.5V1524.8h1.8V1558.5M1255.8,1558.5V1554h1.8V1558.5M1257.6,1558.5V1423.8h1.8V1558.5M1259.5,1558.5V1446.9h1.8V1558.5M1263.1,1558.5V1555.6h1.8V1558.5M1264.9,1558.5V1557.1h1.8V1558.5M1266.7,1558.5V1553.2h1.8V1558.5M1268.5,1558.5V1490.1h1.8V1558.5M1272.2,1558.5V1538h1.8V1558.5M1274,1558.5V1531.7h1.8V1558.5M1275.8,1558.5V1556.7h1.8V1558.5M1277.6,1558.5V1513.4h1.8V1558.5M1281.3,1558.5V1417.5h1.8V1558.5M1286.7,1558.5V1553.7h1.8V1558.5M1288.6,1558.5V1555.7h1.8V1558.5M1292.2,1558.5V1480h1.8V1558.5M1294,1558.5V1557h1.8V1558.5M1295.8,1558.5V1450.8h1.8V1558.5M1297.6,1558.5V1538h1.8V1558.5M1299.5,1558.5V1538.2h1.8V1558.5M1301.3,1558.5V1394.7h1.8V1558.5M1303.1,1558.5V1545.5h1.8V1558.5M1304.9,1558.5V1500.4h1.8V1558.5M1306.7,1558.5V1459.9h1.8V1558.5M1310.4,1558.5V1504.8h1.8V1558.5M1314,1558.5V1553.9h1.8V1558.5M1315.8,1558.5V1484.4h1.8V1558.5M1317.6,1558.5V1545.5h1.8V1558.5M1319.5,1558.5V1556.8h1.8V1558.5M1321.3,1558.5V1522.5h1.8V1558.5M1323.1,1558.5V1556.6h1.8V1558.5M1326.7,1558.5V1555.3h1.8V1558.5M1328.6,1558.5V1554.4h1.8V1558.5M1330.4,1558.5V1506.9h1.8V1558.5M1332.2,1558.5V1552.1h1.8V1558.5M1334,1558.5V1509.1h1.8V1558.5M1335.8,1558.5V924h1.8V1558.5M1337.6,1558.5V1450.9h1.8V1558.5M1339.5,1558.5V1433.2h1.8V1558.5M1341.3,1558.5V1444.4h1.8V1558.5M1344.9,1558.5V1556.9h1.8V1558.5M1346.7,1558.5V1452.1h1.8V1558.5M1348.6,1558.5V1508.4h1.8V1558.5M1350.4,1558.5V1528h1.8V1558.5M1354,1558.5V1488h1.8V1558.5M1355.8,1558.5V1552.8h1.8V1558.5M1357.6,1558.5V1510.6h1.8V1558.5M1359.5,1558.5V1553.5h1.8V1558.5M1361.3,1558.5V1527.3h1.8V1558.5M1363.1,1558.5V1555.5h1.8V1558.5M1364.9,1558.5V1478.6h1.8V1558.5M1366.7,1558.5V1553.3h1.8V1558.5M1370.4,1558.5V1551.3h1.8V1558.5M1372.2,1558.5V1555.1h1.8V1558.5M1374,1558.5V1557.1h1.8V1558.5M1377.6,1558.5V1554.4h1.8V1558.5M1379.5,1558.5V1451.7h1.8V1558.5M1381.3,1558.5V1556.2h1.8V1558.5M1383.1,1558.5V1539h1.8V1558.5M1384.9,1558.5V1536h1.8V1558.5M1386.7,1558.5V1554.8h1.8V1558.5M1388.6,1558.5V1482.2h1.8V1558.5M1392.2,1558.5V1530.2h1.8V1558.5M1394,1558.5V1535.3h1.8V1558.5M1397.6,1558.5V1554.3h1.8V1558.5M1399.5,1558.5V1555.6h1.8V1558.5M1401.3,1558.5V1543.3h1.8V1558.5M1403.1,1558.5V1511.7h1.8V1558.5M1404.9,1558.5V1410.9h1.8V1558.5M1406.7,1558.5V1520.8h1.8V1558.5M1408.6,1558.5V1545.5h1.8V1558.5M1410.4,1558.5V1553.5h1.8V1558.5M1412.2,1558.5V1529.2h1.8V1558.5M1414,1558.5V1540.4h1.8V1558.5M1415.8,1558.5V1555.7h1.8V1558.5M1417.6,1558.5V1533.9h1.8V1558.5M1419.5,1558.5V1531.7h1.8V1558.5M1421.3,1558.5V1453.1h1.8V1558.5M1423.1,1558.5V1533.9h1.8V1558.5M1424.9,1558.5V1557.2h1.8V1558.5M1426.7,1558.5V1464.5h1.8V1558.5M1428.6,1558.5V1556.1h1.8V1558.5M1430.4,1558.5V1557.3h1.8V1558.5M1434,1558.5V1554.2h1.8V1558.5M1435.8,1558.5V1552.1h1.8V1558.5M1437.6,1558.5V1556.2h1.8V1558.5M1441.3,1558.5V1554.5h1.8V1558.5M1443.1,1558.5V1533.9h1.8V1558.5M1444.9,1558.5V1549.9h1.8V1558.5M1446.7,1558.5V1555.1h1.8V1558.5M1448.6,1558.5V1538.2h1.8V1558.5M1450.4,1558.5V1547.7h1.8V1558.5" fill="#4ae84a" stroke="#78a878" stroke-width="0.5"/>
<path d="M126.9,1218.3C130.7,1217.6 142.7,1215.9 149.8,1214.3C156.9,1212.6 163,1210.2 169.6,1208.3C176.2,1206.5 182.8,1204.5 189.4,1203.4C196.1,1202.2 202.7,1202.2 209.3,1201.4C215.9,1200.6 222.5,1199.9 229.1,1198.4C235.7,1196.9 243,1194.3 249,1192.5C254.9,1190.6 259.9,1188 264.8,1187.5C269.8,1187 274.1,1188 278.7,1189.5C283.4,1191 287.7,1193.3 292.6,1196.4C297.6,1199.6 303.5,1204.4 308.5,1208.3C313.5,1212.3 317.4,1215.9 322.4,1220.2C327.3,1224.5 332.3,1230.2 338.3,1234.1C344.2,1238.1 351.5,1241.4 358.1,1244C364.7,1246.7 371.3,1248.3 377.9,1250C384.6,1251.7 392.4,1253.1 397.8,1254C403.1,1254.8 405.3,1254.3 410,1255C414.7,1255.6 420.6,1256.8 425.9,1257.9C431.2,1259.1 436.5,1260.6 441.7,1261.9C447,1263.2 453,1265.5 457.6,1265.9C462.2,1266.2 465.6,1265.5 469.5,1263.9C473.5,1262.2 477.5,1259.6 481.4,1256C485.4,1252.3 489.4,1246.7 493.3,1242.1C497.3,1237.4 501.3,1232.1 505.2,1228.2C509.2,1224.2 513.2,1220.4 517.1,1218.3C521.1,1216.1 525.1,1215.3 529,1215.3C533,1215.3 537,1216.4 541,1218.3C544.9,1220.1 548.9,1223.7 552.9,1226.2C556.8,1228.7 560.1,1231.3 564.8,1233.1C569.4,1235 575.3,1236.9 580.6,1237.1C585.9,1237.3 591.2,1236.3 596.5,1234.1C601.8,1232 607.1,1228.2 612.4,1224.2C617.7,1220.2 623,1214.9 628.3,1210.3C633.5,1205.7 638.8,1200.2 644.1,1196.4C649.4,1192.6 655,1188.5 660,1187.5C665,1186.5 669.3,1188.3 673.9,1190.5C678.5,1192.6 683.3,1196.6 687.8,1200.4C692.3,1204.2 696.8,1210 700.8,1213.3C704.9,1216.6 708.4,1218.4 711.9,1220.2C715.4,1222.1 718.2,1223.9 721.8,1224.2C725.5,1224.5 729.1,1223.5 733.7,1222.2C738.4,1220.9 744,1218.3 749.6,1216.3C755.2,1214.3 761.2,1211.8 767.5,1210.3C773.7,1208.8 780.7,1207.7 787.3,1207.3C793.9,1206.9 801.2,1207.1 807.1,1207.9C813.1,1208.8 817.7,1210.3 823,1212.3C828.3,1214.4 833.6,1217.3 838.9,1220.2C844.2,1223.2 849.8,1227.2 854.8,1230.2C859.7,1233.1 865,1236.3 868.7,1238.1C872.3,1239.9 873.3,1241.1 876.6,1241.1C879.9,1241.1 884.2,1239.6 888.5,1238.1C892.8,1236.6 897.4,1234.8 902.4,1232.1C907.3,1229.5 913,1225.5 918.3,1222.2C923.5,1218.9 928.8,1215.6 934.1,1212.3C939.4,1209 944.9,1205.2 950,1202.4C955.1,1199.6 960.3,1196.3 964.9,1195.4C969.5,1194.6 973.6,1195.9 977.8,1197.4C981.9,1198.9 985.2,1200.9 989.8,1204.4C994.5,1207.8 1000.6,1213.3 1005.9,1218.3C1011.2,1223.2 1016.1,1229.8 1021.7,1234.1C1027.4,1238.4 1034,1241.7 1039.6,1244C1045.2,1246.4 1049.9,1248 1055.5,1248C1061.1,1248 1067.7,1246 1073.3,1244C1079,1242.1 1083.9,1238.4 1089.2,1236.1C1094.5,1233.8 1099.8,1231.6 1105.1,1230.2C1110.4,1228.7 1115,1227.8 1121,1227.2C1126.9,1226.5 1134.2,1226.4 1140.8,1226.2C1147.4,1226 1154.7,1226 1160.6,1226.2C1166.6,1226.4 1171.9,1226.5 1176.5,1227.2C1181.1,1227.8 1184.4,1228.3 1188.4,1230.2C1192.4,1232 1196.3,1234.8 1200.3,1238.1C1204.3,1241.4 1209.3,1247.6 1212.2,1250C1215.1,1252.4 1214,1250.3 1217.7,1252.5C1221.4,1254.7 1231,1261 1234.4,1263.2C1237.8,1265.4 1235.1,1264.4 1238,1265.8C1240.9,1267.2 1248.3,1270.4 1251.6,1271.8C1254.9,1273.1 1255,1272.9 1257.9,1273.7C1260.7,1274.6 1265.5,1276.3 1268.8,1276.9C1272.1,1277.6 1274.8,1277.1 1277.7,1277.7C1280.6,1278.3 1280.9,1279.6 1286,1280.4C1291.1,1281.2 1302.3,1282.4 1308.3,1282.4C1314.4,1282.4 1317.2,1282 1322.1,1280.4C1327,1278.7 1332.1,1275.8 1337.6,1272.6C1343,1269.5 1349,1265.6 1354.8,1261.5C1360.5,1257.3 1366.8,1250.9 1372,1247.7C1377.1,1244.5 1380.6,1242.2 1385.7,1242.2C1390.9,1242.2 1397.2,1245.3 1402.9,1247.7C1408.6,1250 1414.4,1253.7 1420.1,1256.3C1425.8,1258.9 1432.6,1262.4 1437.3,1263.2C1442,1264 1446.6,1261.5 1448.5,1261.1" stroke="#8e7482" stroke-width="2.4" fill="none" stroke-linejoin="round"/>
<path d="M126.9,1186.5C128.1,1182.5 131.4,1168 133.9,1162.7C136.4,1157.4 138.8,1153.8 141.8,1154.8C144.8,1155.8 148.8,1163 151.7,1168.7C154.7,1174.3 157.2,1183.5 159.7,1188.5C162.2,1193.5 164,1199.4 166.6,1198.4C169.3,1197.4 173.1,1189.8 175.6,1182.5C178,1175.3 179,1161.7 181.5,1154.8C184,1147.8 187.5,1140.9 190.4,1140.9C193.4,1140.9 196.6,1148.5 199.4,1154.8C202.2,1161 205,1172.6 207.3,1178.6C209.6,1184.5 210.9,1193.8 213.3,1190.5C215.6,1187.2 218.5,1170.6 221.2,1158.7C223.8,1146.8 226.3,1128.8 229.1,1119C231.9,1109.3 235.1,1100.2 238.1,1100.2C241,1100.2 244.2,1107.6 247,1119C249.8,1130.5 252.3,1150.5 254.9,1168.7C257.6,1186.8 260.2,1211.6 262.9,1228.2C265.5,1244.7 268,1259.1 270.8,1267.9C273.6,1276.6 276.7,1279.8 279.7,1280.8C282.7,1281.7 285.5,1279.3 288.7,1273.8C291.8,1268.4 294.9,1256.6 298.6,1248C302.2,1239.4 306.8,1228.5 310.5,1222.2C314.1,1215.9 317.4,1211.6 320.4,1210.3C323.4,1209 325.7,1211.3 328.3,1214.3C331,1217.3 333.6,1222.9 336.3,1228.2C338.9,1233.5 341.6,1246 344.2,1246C346.9,1246 349.8,1236.1 352.1,1228.2C354.5,1220.2 355.8,1213.3 358.1,1198.4C360.4,1183.5 363.1,1152.9 366,1138.9C369,1124.8 372.6,1114.7 376,1114.1C379.3,1113.4 382.9,1125.8 385.9,1134.9C388.8,1144 390.8,1160.9 393.8,1168.7C396.8,1176.4 401,1180.2 403.7,1181.5C406.4,1182.9 408.3,1178.1 410,1176.6C411.7,1175.1 412.3,1174.3 413.7,1172.6C415,1171 415.9,1168.7 417.9,1166.7C420,1164.7 422.2,1161.7 425.9,1160.7C429.5,1159.7 435.8,1160.5 439.8,1160.7C443.7,1160.9 446.7,1160.4 449.7,1161.7C452.7,1163 455,1165.2 457.6,1168.7C460.3,1172.1 462.9,1175.9 465.6,1182.5C468.2,1189.2 470.8,1200.1 473.5,1208.3C476.1,1216.6 478.8,1224.9 481.4,1232.1C484.1,1239.4 486.7,1247.4 489.4,1252C492,1256.6 494.7,1259.6 497.3,1259.9C499.9,1260.3 502.6,1257.6 505.2,1254C507.9,1250.3 510.5,1244 513.2,1238.1C515.8,1232.1 517.8,1223.3 521.1,1218.3C524.4,1213.2 529.4,1208.6 533,1207.9C536.7,1207.3 539.6,1210.9 542.9,1214.3C546.2,1217.7 549.9,1220.9 552.9,1228.2C555.8,1235.4 558.5,1249.4 560.8,1257.9C563.1,1266.5 564.8,1271.8 566.7,1279.7C568.7,1287.6 570.7,1298.5 572.7,1305.5C574.7,1312.4 576.7,1317.9 578.7,1321.3C580.6,1324.8 582,1327.3 584.6,1326.3C587.2,1325.3 590.9,1319.2 594.5,1315.4C598.2,1311.6 602.8,1303.5 606.4,1303.5C610.1,1303.5 613.4,1311.4 616.3,1315.4C619.3,1319.4 622,1324.8 624.3,1327.3C626.5,1329.8 627.5,1331.6 629.8,1330.3C632.2,1329 635.1,1325.2 638.2,1319.4C641.2,1313.6 644.6,1301.8 648.1,1295.6C651.6,1289.3 655.4,1281.7 659,1281.7C662.6,1281.7 666.8,1290.9 669.9,1295.6C673.1,1300.2 675.6,1306.8 677.9,1309.4C680.1,1312.1 681.1,1314.1 683.4,1311.4C685.7,1308.8 689,1301.5 691.7,1293.6C694.5,1285.6 697,1274.7 699.7,1263.8C702.4,1252.9 705.2,1235.3 707.9,1228.2C710.6,1221.1 712.9,1220.2 715.9,1221.2C718.8,1222.2 722.8,1228 725.8,1234.1C728.8,1240.2 731.1,1250 733.7,1257.9C736.4,1265.9 739.7,1274.2 741.7,1281.7C743.7,1289.3 743.7,1301.5 745.6,1303.5C747.6,1305.5 750.9,1297.5 753.6,1293.6C756.2,1289.6 757.9,1286.9 761.5,1279.7C765.1,1272.4 771.4,1257.3 775.4,1250C779.4,1242.7 782.3,1241.4 785.3,1236.1C788.3,1230.8 790.9,1224.5 793.3,1218.3C795.6,1212 796.9,1206 799.2,1198.4C801.5,1190.8 804,1180.2 807.1,1172.6C810.3,1165 814.7,1153.4 818.1,1152.8C821.4,1152.1 824.2,1159.4 827,1168.7C829.8,1177.9 832.3,1189.8 834.9,1208.3C837.6,1226.8 840.5,1261.2 842.9,1279.7C845.2,1298.2 846.5,1307.5 848.8,1319.4C851.1,1331.3 854.1,1342.8 856.7,1351.1C859.4,1359.4 862.7,1365.3 864.7,1369C866.7,1372.6 866.3,1373.9 868.7,1372.9C871,1371.9 875.6,1368.6 878.6,1363C881.5,1357.4 883.9,1347.1 886.5,1339.2C889.2,1331.3 891.8,1324 894.4,1315.4C897.1,1306.8 899.7,1296.2 902.4,1287.6C905,1279 907,1269.9 910.3,1263.8C913.6,1257.7 918.6,1253.5 922.2,1251C925.9,1248.5 929.2,1251.2 932.1,1249C935.1,1246.9 937.4,1243.2 940.1,1238.1C942.7,1233 945,1228.2 948,1218.3C951,1208.3 954.6,1191.8 957.9,1178.6C961.2,1165.3 964.6,1148.1 967.9,1138.9C971.2,1129.6 974.1,1123.7 977.8,1123C981.5,1122.4 987,1126.7 990,1134.9C993,1143.2 994,1162 996,1172.6C997.9,1183.2 999.6,1190.8 1001.9,1198.4C1004.2,1206 1007.5,1214.6 1009.8,1218.3C1012.2,1221.9 1013.5,1223.5 1015.8,1220.2C1018.1,1216.9 1020.9,1204.4 1023.7,1198.4C1026.5,1192.5 1030,1182.9 1032.7,1184.5C1035.3,1186.2 1036.8,1196.1 1039.6,1208.3C1042.4,1220.6 1046.2,1245 1049.5,1257.9C1052.8,1270.8 1056.1,1287.4 1059.4,1285.7C1062.8,1284.1 1066.4,1260.9 1069.4,1248C1072.3,1235.1 1074.8,1218.4 1077.3,1208.3C1079.8,1198.2 1081.6,1187.5 1084.2,1187.5C1086.9,1187.5 1090.4,1198.2 1093.2,1208.3C1096,1218.4 1098.5,1235.6 1101.1,1248C1103.8,1260.4 1106.1,1281.1 1109,1282.7C1112,1284.4 1116,1268 1119,1257.9C1121.9,1247.9 1124.6,1230 1126.9,1222.2C1129.2,1214.5 1130.5,1210.3 1132.9,1211.3C1135.2,1212.3 1138.1,1220.4 1140.8,1228.2C1143.4,1235.9 1146.1,1247.9 1148.7,1257.9C1151.4,1268 1154.4,1280.7 1156.7,1288.7C1159,1296.6 1160.6,1301.7 1162.6,1305.5C1164.6,1309.3 1166.3,1311.4 1168.6,1311.4C1170.9,1311.4 1174.2,1308.5 1176.5,1305.5C1178.8,1302.5 1180.5,1297.9 1182.5,1293.6C1184.4,1289.3 1186.4,1286 1188.4,1279.7C1190.4,1273.4 1192.4,1266.1 1194.4,1255.9C1196.3,1245.6 1198.5,1229.3 1200.3,1218.3C1202.1,1207.2 1203.5,1196.2 1205.2,1189.3C1206.8,1182.5 1208.3,1180 1210.3,1177.3C1212.3,1174.6 1214.6,1174.4 1217.2,1173C1219.8,1171.6 1222.9,1173.1 1225.8,1168.7C1228.7,1164.3 1231.5,1157 1234.4,1146.3C1237.3,1135.7 1240.1,1118.8 1243,1105.1C1245.9,1091.3 1249.2,1072.8 1251.6,1063.8C1254,1054.8 1255.3,1050.9 1257.6,1050.9C1259.9,1050.9 1262.9,1055.1 1265.3,1063.8C1267.8,1072.6 1269.9,1089.6 1272.2,1103.4C1274.5,1117.1 1276.8,1133.5 1279.1,1146.3C1281.4,1159.2 1284.3,1174.2 1286,1180.7C1287.7,1187.3 1287.7,1181.8 1289.4,1185.8C1291.1,1189.8 1293.4,1203.3 1296.3,1204.7C1299.2,1206.1 1303.2,1199.8 1306.6,1194.4C1310.1,1189 1313.5,1180.1 1316.9,1172.1C1320.4,1164.1 1324.1,1154.7 1327.2,1146.3C1330.4,1138 1333.3,1128.6 1335.8,1122.3C1338.4,1116 1340.7,1111.8 1342.7,1108.5C1344.7,1105.2 1345.9,1102.5 1347.9,1102.5C1349.9,1102.5 1352.5,1104.6 1354.8,1108.5C1357.1,1112.4 1359.3,1119.4 1361.6,1125.7C1363.9,1132 1366.2,1138.6 1368.5,1146.3C1370.8,1154.1 1373.5,1164.8 1375.4,1172.1C1377.3,1179.4 1378,1185.6 1379.7,1190.1C1381.4,1194.7 1383.6,1200.3 1385.7,1199.6C1387.9,1198.8 1390.6,1188.9 1392.6,1185.8C1394.6,1182.7 1395.5,1193 1397.8,1180.7C1400,1168.4 1403.8,1132 1406.3,1112C1408.9,1091.9 1410.9,1072.4 1413.2,1060.4C1415.5,1048.3 1417.8,1044.3 1420.1,1039.7C1422.4,1035.1 1424.7,1033.9 1427,1032.9C1429.3,1031.9 1431.6,1034.3 1433.9,1033.7C1436.2,1033.1 1438.4,1032.7 1440.7,1029.4C1443,1026.1 1445.6,1019 1447.6,1013.9C1449.6,1008.9 1451.9,1001.8 1452.8,999.3" stroke="#b8f4f8" stroke-opacity="0.7" stroke-width="4.5" fill="none" filter="url(#glow)"/>
<path d="M126.9,1186.5C128.1,1182.5 131.4,1168 133.9,1162.7C136.4,1157.4 138.8,1153.8 141.8,1154.8C144.8,1155.8 148.8,1163 151.7,1168.7C154.7,1174.3 157.2,1183.5 159.7,1188.5C162.2,1193.5 164,1199.4 166.6,1198.4C169.3,1197.4 173.1,1189.8 175.6,1182.5C178,1175.3 179,1161.7 181.5,1154.8C184,1147.8 187.5,1140.9 190.4,1140.9C193.4,1140.9 196.6,1148.5 199.4,1154.8C202.2,1161 205,1172.6 207.3,1178.6C209.6,1184.5 210.9,1193.8 213.3,1190.5C215.6,1187.2 218.5,1170.6 221.2,1158.7C223.8,1146.8 226.3,1128.8 229.1,1119C231.9,1109.3 235.1,1100.2 238.1,1100.2C241,1100.2 244.2,1107.6 247,1119C249.8,1130.5 252.3,1150.5 254.9,1168.7C257.6,1186.8 260.2,1211.6 262.9,1228.2C265.5,1244.7 268,1259.1 270.8,1267.9C273.6,1276.6 276.7,1279.8 279.7,1280.8C282.7,1281.7 285.5,1279.3 288.7,1273.8C291.8,1268.4 294.9,1256.6 298.6,1248C302.2,1239.4 306.8,1228.5 310.5,1222.2C314.1,1215.9 317.4,1211.6 320.4,1210.3C323.4,1209 325.7,1211.3 328.3,1214.3C331,1217.3 333.6,1222.9 336.3,1228.2C338.9,1233.5 341.6,1246 344.2,1246C346.9,1246 349.8,1236.1 352.1,1228.2C354.5,1220.2 355.8,1213.3 358.1,1198.4C360.4,1183.5 363.1,1152.9 366,1138.9C369,1124.8 372.6,1114.7 376,1114.1C379.3,1113.4 382.9,1125.8 385.9,1134.9C388.8,1144 390.8,1160.9 393.8,1168.7C396.8,1176.4 401,1180.2 403.7,1181.5C406.4,1182.9 408.3,1178.1 410,1176.6C411.7,1175.1 412.3,1174.3 413.7,1172.6C415,1171 415.9,1168.7 417.9,1166.7C420,1164.7 422.2,1161.7 425.9,1160.7C429.5,1159.7 435.8,1160.5 439.8,1160.7C443.7,1160.9 446.7,1160.4 449.7,1161.7C452.7,1163 455,1165.2 457.6,1168.7C460.3,1172.1 462.9,1175.9 465.6,1182.5C468.2,1189.2 470.8,1200.1 473.5,1208.3C476.1,1216.6 478.8,1224.9 481.4,1232.1C484.1,1239.4 486.7,1247.4 489.4,1252C492,1256.6 494.7,1259.6 497.3,1259.9C499.9,1260.3 502.6,1257.6 505.2,1254C507.9,1250.3 510.5,1244 513.2,1238.1C515.8,1232.1 517.8,1223.3 521.1,1218.3C524.4,1213.2 529.4,1208.6 533,1207.9C536.7,1207.3 539.6,1210.9 542.9,1214.3C546.2,1217.7 549.9,1220.9 552.9,1228.2C555.8,1235.4 558.5,1249.4 560.8,1257.9C563.1,1266.5 564.8,1271.8 566.7,1279.7C568.7,1287.6 570.7,1298.5 572.7,1305.5C574.7,1312.4 576.7,1317.9 578.7,1321.3C580.6,1324.8 582,1327.3 584.6,1326.3C587.2,1325.3 590.9,1319.2 594.5,1315.4C598.2,1311.6 602.8,1303.5 606.4,1303.5C610.1,1303.5 613.4,1311.4 616.3,1315.4C619.3,1319.4 622,1324.8 624.3,1327.3C626.5,1329.8 627.5,1331.6 629.8,1330.3C632.2,1329 635.1,1325.2 638.2,1319.4C641.2,1313.6 644.6,1301.8 648.1,1295.6C651.6,1289.3 655.4,1281.7 659,1281.7C662.6,1281.7 666.8,1290.9 669.9,1295.6C673.1,1300.2 675.6,1306.8 677.9,1309.4C680.1,1312.1 681.1,1314.1 683.4,1311.4C685.7,1308.8 689,1301.5 691.7,1293.6C694.5,1285.6 697,1274.7 699.7,1263.8C702.4,1252.9 705.2,1235.3 707.9,1228.2C710.6,1221.1 712.9,1220.2 715.9,1221.2C718.8,1222.2 722.8,1228 725.8,1234.1C728.8,1240.2 731.1,1250 733.7,1257.9C736.4,1265.9 739.7,1274.2 741.7,1281.7C743.7,1289.3 743.7,1301.5 745.6,1303.5C747.6,1305.5 750.9,1297.5 753.6,1293.6C756.2,1289.6 757.9,1286.9 761.5,1279.7C765.1,1272.4 771.4,1257.3 775.4,1250C779.4,1242.7 782.3,1241.4 785.3,1236.1C788.3,1230.8 790.9,1224.5 793.3,1218.3C795.6,1212 796.9,1206 799.2,1198.4C801.5,1190.8 804,1180.2 807.1,1172.6C810.3,1165 814.7,1153.4 818.1,1152.8C821.4,1152.1 824.2,1159.4 827,1168.7C829.8,1177.9 832.3,1189.8 834.9,1208.3C837.6,1226.8 840.5,1261.2 842.9,1279.7C845.2,1298.2 846.5,1307.5 848.8,1319.4C851.1,1331.3 854.1,1342.8 856.7,1351.1C859.4,1359.4 862.7,1365.3 864.7,1369C866.7,1372.6 866.3,1373.9 868.7,1372.9C871,1371.9 875.6,1368.6 878.6,1363C881.5,1357.4 883.9,1347.1 886.5,1339.2C889.2,1331.3 891.8,1324 894.4,1315.4C897.1,1306.8 899.7,1296.2 902.4,1287.6C905,1279 907,1269.9 910.3,1263.8C913.6,1257.7 918.6,1253.5 922.2,1251C925.9,1248.5 929.2,1251.2 932.1,1249C935.1,1246.9 937.4,1243.2 940.1,1238.1C942.7,1233 945,1228.2 948,1218.3C951,1208.3 954.6,1191.8 957.9,1178.6C961.2,1165.3 964.6,1148.1 967.9,1138.9C971.2,1129.6 974.1,1123.7 977.8,1123C981.5,1122.4 987,1126.7 990,1134.9C993,1143.2 994,1162 996,1172.6C997.9,1183.2 999.6,1190.8 1001.9,1198.4C1004.2,1206 1007.5,1214.6 1009.8,1218.3C1012.2,1221.9 1013.5,1223.5 1015.8,1220.2C1018.1,1216.9 1020.9,1204.4 1023.7,1198.4C1026.5,1192.5 1030,1182.9 1032.7,1184.5C1035.3,1186.2 1036.8,1196.1 1039.6,1208.3C1042.4,1220.6 1046.2,1245 1049.5,1257.9C1052.8,1270.8 1056.1,1287.4 1059.4,1285.7C1062.8,1284.1 1066.4,1260.9 1069.4,1248C1072.3,1235.1 1074.8,1218.4 1077.3,1208.3C1079.8,1198.2 1081.6,1187.5 1084.2,1187.5C1086.9,1187.5 1090.4,1198.2 1093.2,1208.3C1096,1218.4 1098.5,1235.6 1101.1,1248C1103.8,1260.4 1106.1,1281.1 1109,1282.7C1112,1284.4 1116,1268 1119,1257.9C1121.9,1247.9 1124.6,1230 1126.9,1222.2C1129.2,1214.5 1130.5,1210.3 1132.9,1211.3C1135.2,1212.3 1138.1,1220.4 1140.8,1228.2C1143.4,1235.9 1146.1,1247.9 1148.7,1257.9C1151.4,1268 1154.4,1280.7 1156.7,1288.7C1159,1296.6 1160.6,1301.7 1162.6,1305.5C1164.6,1309.3 1166.3,1311.4 1168.6,1311.4C1170.9,1311.4 1174.2,1308.5 1176.5,1305.5C1178.8,1302.5 1180.5,1297.9 1182.5,1293.6C1184.4,1289.3 1186.4,1286 1188.4,1279.7C1190.4,1273.4 1192.4,1266.1 1194.4,1255.9C1196.3,1245.6 1198.5,1229.3 1200.3,1218.3C1202.1,1207.2 1203.5,1196.2 1205.2,1189.3C1206.8,1182.5 1208.3,1180 1210.3,1177.3C1212.3,1174.6 1214.6,1174.4 1217.2,1173C1219.8,1171.6 1222.9,1173.1 1225.8,1168.7C1228.7,1164.3 1231.5,1157 1234.4,1146.3C1237.3,1135.7 1240.1,1118.8 1243,1105.1C1245.9,1091.3 1249.2,1072.8 1251.6,1063.8C1254,1054.8 1255.3,1050.9 1257.6,1050.9C1259.9,1050.9 1262.9,1055.1 1265.3,1063.8C1267.8,1072.6 1269.9,1089.6 1272.2,1103.4C1274.5,1117.1 1276.8,1133.5 1279.1,1146.3C1281.4,1159.2 1284.3,1174.2 1286,1180.7C1287.7,1187.3 1287.7,1181.8 1289.4,1185.8C1291.1,1189.8 1293.4,1203.3 1296.3,1204.7C1299.2,1206.1 1303.2,1199.8 1306.6,1194.4C1310.1,1189 1313.5,1180.1 1316.9,1172.1C1320.4,1164.1 1324.1,1154.7 1327.2,1146.3C1330.4,1138 1333.3,1128.6 1335.8,1122.3C1338.4,1116 1340.7,1111.8 1342.7,1108.5C1344.7,1105.2 1345.9,1102.5 1347.9,1102.5C1349.9,1102.5 1352.5,1104.6 1354.8,1108.5C1357.1,1112.4 1359.3,1119.4 1361.6,1125.7C1363.9,1132 1366.2,1138.6 1368.5,1146.3C1370.8,1154.1 1373.5,1164.8 1375.4,1172.1C1377.3,1179.4 1378,1185.6 1379.7,1190.1C1381.4,1194.7 1383.6,1200.3 1385.7,1199.6C1387.9,1198.8 1390.6,1188.9 1392.6,1185.8C1394.6,1182.7 1395.5,1193 1397.8,1180.7C1400,1168.4 1403.8,1132 1406.3,1112C1408.9,1091.9 1410.9,1072.4 1413.2,1060.4C1415.5,1048.3 1417.8,1044.3 1420.1,1039.7C1422.4,1035.1 1424.7,1033.9 1427,1032.9C1429.3,1031.9 1431.6,1034.3 1433.9,1033.7C1436.2,1033.1 1438.4,1032.7 1440.7,1029.4C1443,1026.1 1445.6,1019 1447.6,1013.9C1449.6,1008.9 1451.9,1001.8 1452.8,999.3" stroke="#5ccfd8" stroke-width="1.9" fill="none" stroke-linejoin="round"/>
<path d="M126.9,1222.2C129.1,1222.9 135.7,1224.9 139.8,1226.2C144,1227.5 147.8,1230.2 151.7,1230.2C155.7,1230.2 159.4,1227.8 163.7,1226.2C167.9,1224.5 173.2,1220.2 177.5,1220.2C181.8,1220.2 185.1,1223.9 189.4,1226.2C193.7,1228.5 198.7,1232.5 203.3,1234.1C208,1235.8 212.9,1234.5 217.2,1236.1C221.5,1237.8 224.8,1241.4 229.1,1244C233.4,1246.7 238.7,1252.3 243,1252C247.3,1251.7 251,1246.4 254.9,1242.1C258.9,1237.8 262.9,1230.8 266.8,1226.2C270.8,1221.6 274.8,1216.6 278.7,1214.3C282.7,1212 286.7,1212.5 290.6,1212.3C294.6,1212.1 298.6,1213.3 302.5,1213.3C306.5,1213.3 310.1,1212.8 314.4,1212.3C318.7,1211.8 324.4,1209.7 328.3,1210.3C332.3,1211 334.9,1214.3 338.3,1216.3C341.6,1218.3 344.9,1220.9 348.2,1222.2C351.5,1223.5 354.5,1224.2 358.1,1224.2C361.7,1224.2 366,1223.5 370,1222.2C374,1220.9 377.9,1218.6 381.9,1216.3C385.9,1214 389.8,1211.6 393.8,1208.3C397.8,1205 403,1199.4 405.7,1196.4C408.4,1193.5 407.3,1192.8 410,1190.5C412.7,1188.2 417.9,1184.5 421.9,1182.5C425.9,1180.6 430.2,1179.9 433.8,1178.6C437.4,1177.2 439.8,1176.1 443.7,1174.6C447.7,1173.1 453.7,1169.6 457.6,1169.6C461.6,1169.6 464.2,1170.8 467.5,1174.6C470.8,1178.4 474.5,1185.2 477.5,1192.5C480.4,1199.7 482.8,1210.6 485.4,1218.3C488,1225.9 490.7,1232.5 493.3,1238.1C496,1243.7 498.3,1248.7 501.3,1252C504.2,1255.3 507.9,1257.3 511.2,1257.9C514.5,1258.6 518.1,1256.9 521.1,1256C524.1,1255 526.4,1255 529,1252C531.7,1249 534,1244.4 537,1238.1C540,1231.8 543.6,1222.6 546.9,1214.3C550.2,1206 554,1194.6 556.8,1188.5C559.6,1182.4 561.1,1177.2 563.8,1177.6C566.4,1177.9 569.9,1182 572.7,1190.5C575.5,1198.9 577.7,1216.9 580.6,1228.2C583.6,1239.4 587.6,1256.3 590.6,1257.9C593.5,1259.6 595.5,1246.4 598.5,1238.1C601.5,1229.8 604.9,1217.1 608.4,1208.3C611.9,1199.6 616,1187.5 619.3,1185.5C622.6,1183.5 624.8,1192.8 628.3,1196.4C631.7,1200.1 636.5,1207.3 640.2,1207.3C643.8,1207.3 646.8,1199.2 650.1,1196.4C653.4,1193.6 656.7,1189.5 660,1190.5C663.3,1191.5 666,1198.1 669.9,1202.4C673.9,1206.7 679.5,1216.3 683.8,1216.3C688.1,1216.3 693,1205.7 695.7,1202.4C698.4,1199.1 698.3,1198.7 700,1196.4C701.7,1194.1 703.6,1190.6 706,1188.5C708.3,1186.3 711.2,1182.9 713.9,1183.5C716.5,1184.2 718.8,1188 721.8,1192.5C724.8,1196.9 728.3,1205.7 731.7,1210.3C735.2,1214.9 739.4,1220.6 742.7,1220.2C746,1219.9 748.1,1213.6 751.6,1208.3C755.1,1203 759.9,1193.6 763.5,1188.5C767.1,1183.4 770.4,1179.9 773.4,1177.6C776.4,1175.3 778.4,1174.1 781.3,1174.6C784.3,1175.1 788,1178.2 791.3,1180.6C794.6,1182.9 797.9,1186 801.2,1188.5C804.5,1191 807.5,1194 811.1,1195.4C814.7,1196.8 819,1197.3 823,1196.8C827,1196.3 831.3,1194.8 834.9,1192.5C838.6,1190.1 841.5,1186.8 844.8,1182.5C848.1,1178.2 851.5,1172.3 854.8,1166.7C858.1,1161 861.4,1154.1 864.7,1148.8C868,1143.5 871.1,1138.4 874.6,1134.9C878.1,1131.4 881.9,1128 885.5,1128C889.2,1128 893,1131.1 896.4,1134.9C899.9,1138.7 903,1145.5 906.3,1150.8C909.7,1156.1 913,1162.7 916.3,1166.7C919.6,1170.6 922.9,1173.3 926.2,1174.6C929.5,1175.9 932.5,1174.9 936.1,1174.6C939.7,1174.3 944.4,1172.3 948,1172.6C951.7,1172.9 954.6,1175.1 957.9,1176.6C961.2,1178.1 964.2,1180.1 967.9,1181.5C971.5,1183 975.8,1184.9 979.8,1185.5C983.7,1186.2 988,1185.2 991.7,1185.5C995.4,1185.8 998.2,1186.8 1001.9,1187.5C1005.6,1188.2 1009.2,1189 1013.8,1189.5C1018.4,1190 1024.4,1190.6 1029.7,1190.5C1035,1190.3 1041.3,1189.5 1045.6,1188.5C1049.9,1187.5 1052.2,1186.8 1055.5,1184.5C1058.8,1182.2 1062.1,1178.6 1065.4,1174.6C1068.7,1170.6 1071.8,1164.4 1075.3,1160.7C1078.8,1157.1 1082.6,1152.8 1086.2,1152.8C1089.9,1152.8 1094,1157.7 1097.1,1160.7C1100.3,1163.7 1102.8,1168.3 1105.1,1170.6C1107.4,1172.9 1108.7,1175.3 1111,1174.6C1113.3,1173.9 1116,1170.6 1119,1166.7C1121.9,1162.7 1125.6,1155.8 1128.9,1150.8C1132.2,1145.8 1135.5,1140.9 1138.8,1136.9C1142.1,1132.9 1145.1,1128.3 1148.7,1127C1152.4,1125.7 1156.7,1128 1160.6,1129C1164.6,1130 1168.9,1131.3 1172.5,1132.9C1176.2,1134.6 1179.6,1137.4 1182.5,1138.9C1185.3,1140.4 1186.6,1142.6 1189.4,1141.9C1192.2,1141.1 1196.3,1138.3 1199.2,1134.2C1202,1130.1 1204.1,1123.1 1206.6,1117.2C1209,1111.3 1211.5,1104.4 1214,1098.7C1216.5,1093 1218.6,1087.2 1221.4,1083C1224.1,1078.9 1227.3,1075.1 1230.5,1073.8C1233.7,1072.6 1237.4,1074.9 1240.6,1075.6C1243.9,1076.4 1247,1078.1 1249.9,1078.4C1252.8,1078.7 1255.3,1077.8 1258.2,1077.5C1261,1077.1 1264,1076 1266.9,1076.3C1269.8,1076.6 1272.9,1078 1275.7,1079.3C1278.5,1080.7 1281.9,1083.2 1283.7,1084.3C1285.4,1085.5 1283.9,1084.7 1286,1086.2C1288.1,1087.6 1292.9,1091.3 1296.3,1093C1299.7,1094.8 1303.2,1095.5 1306.6,1096.5C1310.1,1097.5 1313.8,1097.9 1316.9,1099.1C1320.1,1100.2 1322.7,1101.2 1325.5,1103.4C1328.4,1105.5 1331.5,1108.8 1334.1,1112C1336.7,1115.1 1338.7,1118.5 1341,1122.3C1343.3,1126 1345.6,1130.3 1347.9,1134.3C1350.2,1138.3 1352.2,1142.9 1354.8,1146.3C1357.3,1149.8 1360.5,1154.1 1363.4,1154.9C1366.2,1155.8 1369.2,1152.5 1372,1151.5C1374.7,1150.5 1377.1,1148.1 1379.7,1148.9C1382.3,1149.8 1385,1153.4 1387.4,1156.7C1389.9,1160 1391.9,1163.3 1394.3,1168.7C1396.7,1174.1 1399.2,1179.8 1402.1,1189.3C1404.9,1198.7 1408.8,1217 1411.5,1225.3C1414.2,1233.6 1416.1,1235.5 1418.4,1239.1C1420.7,1242.7 1422.7,1245.8 1425.3,1246.8C1427.8,1247.8 1431,1245.7 1433.9,1245.1C1436.7,1244.5 1439.5,1243.5 1442.5,1243.4C1445.5,1243.3 1450.3,1244.1 1451.9,1244.3" stroke="#b248c2" stroke-width="1.7" fill="none" stroke-linejoin="round"/>
<path d="M126.9,1182.5C128.6,1180.9 133.7,1172.6 136.9,1172.6C140,1172.6 143.3,1176.6 145.8,1182.5C148.3,1188.5 149.8,1200.1 151.7,1208.3C153.7,1216.6 155.7,1226.5 157.7,1232.1C159.7,1237.8 161.7,1244.4 163.7,1242.1C165.6,1239.7 167.6,1228.8 169.6,1218.3C171.6,1207.7 173.6,1193.5 175.6,1178.6C177.5,1163.7 179.5,1142.2 181.5,1129C183.5,1115.7 185.6,1105.4 187.5,1099.2C189.3,1093 190.8,1090 192.8,1091.7C194.8,1093.3 197.3,1099.6 199.4,1109.1C201.4,1118.7 203.3,1135.6 205.3,1148.8C207.3,1162 209.5,1180.2 211.3,1188.5C213.1,1196.8 214.2,1200.1 216.2,1198.4C218.2,1196.8 220.7,1186.5 223.2,1178.6C225.7,1170.6 228.6,1157.1 231.1,1150.8C233.6,1144.5 235.1,1137.9 238.1,1140.9C241,1143.8 245.5,1159.1 249,1168.7C252.4,1178.2 255.9,1189.2 258.9,1198.4C261.9,1207.7 264.2,1219.6 266.8,1224.2C269.5,1228.8 272.1,1225.2 274.8,1226.2C277.4,1227.2 279.7,1227.2 282.7,1230.2C285.7,1233.1 289.3,1239.7 292.6,1244C295.9,1248.3 298.9,1252.6 302.5,1256C306.2,1259.3 310.8,1263.2 314.4,1263.9C318.1,1264.6 321.4,1264.2 324.4,1259.9C327.3,1255.6 329.7,1246.7 332.3,1238.1C334.9,1229.5 337.1,1216.8 340.2,1208.3C343.4,1199.9 347.8,1188.8 351.2,1187.5C354.5,1186.2 357.6,1193.6 360.1,1200.4C362.6,1207.2 364,1220.2 366,1228.2C368,1236.1 370.3,1243.9 372,1248C373.6,1252.1 374,1254 376,1253C377.9,1252 380.9,1245.9 383.9,1242.1C386.9,1238.3 390.8,1232.8 393.8,1230.2C396.8,1227.5 398.9,1226 401.7,1226.2C404.6,1226.4 407.8,1228.8 410.8,1231.2C413.9,1233.5 416.8,1237.4 419.9,1240.1C423.1,1242.7 426.2,1245.2 429.8,1247C433.5,1248.8 438.1,1249.7 441.7,1251C445.4,1252.3 448.4,1257.1 451.7,1255C455,1252.8 458.6,1245.9 461.6,1238.1C464.6,1230.3 466.9,1218.3 469.5,1208.3C472.2,1198.4 474.8,1187.5 477.5,1178.6C480.1,1169.6 482.1,1160.5 485.4,1154.8C488.7,1149 493.7,1143.2 497.3,1143.8C500.9,1144.5 504.2,1152.3 507.2,1158.7C510.2,1165.2 512.5,1174.6 515.2,1182.5C517.8,1190.5 520.8,1200.9 523.1,1206.3C525.4,1211.8 526.4,1215.3 529,1215.3C531.7,1215.3 535.7,1210.2 539,1206.3C542.3,1202.5 545.6,1196.8 548.9,1192.5C552.2,1188.2 554.8,1183.5 558.8,1180.6C562.8,1177.6 568.7,1174.6 572.7,1174.6C576.7,1174.6 579.6,1177.9 582.6,1180.6C585.6,1183.2 587.7,1187.7 590.6,1190.5C593.4,1193.3 596.5,1198.4 599.5,1197.4C602.5,1196.4 605.3,1190 608.4,1184.5C611.6,1179.1 615.2,1170 618.3,1164.7C621.5,1159.4 624.3,1153.1 627.3,1152.8C630.2,1152.4 633.4,1156.7 636.2,1162.7C639,1168.7 641.5,1180.2 644.1,1188.5C646.8,1196.8 649.3,1206.2 652.1,1212.3C654.9,1218.4 658,1224.9 661,1225.2C664,1225.5 667.1,1218.1 669.9,1214.3C672.7,1210.5 675.4,1204.9 677.9,1202.4C680.3,1199.9 682.2,1198.7 684.8,1199.4C687.4,1200.1 691.1,1203.4 693.7,1206.3C696.4,1209.3 698.5,1213.6 700.8,1217.3C703.2,1220.9 705.4,1224.7 707.9,1228.2C710.4,1231.6 713.2,1235.3 715.9,1238.1C718.5,1240.9 720.5,1243.6 723.8,1245C727.1,1246.5 732.1,1245.5 735.7,1247C739.4,1248.5 742.7,1250.5 745.6,1254C748.6,1257.4 750.9,1262.9 753.6,1267.9C756.2,1272.8 758.5,1279.1 761.5,1283.7C764.5,1288.4 769.1,1293.5 771.4,1295.6C773.7,1297.8 773.4,1299.6 775.4,1296.6C777.4,1293.7 780.7,1287.5 783.3,1277.8C786,1268 788.6,1251.3 791.3,1238.1C793.9,1224.9 796.6,1210 799.2,1198.4C801.9,1186.8 804.2,1177.6 807.1,1168.7C810.1,1159.7 814.1,1146.5 817.1,1144.8C820,1143.2 822.7,1149.8 825,1158.7C827.3,1167.7 828.8,1181.7 831,1198.4C833.1,1215.1 835.6,1240.4 837.9,1258.9C840.2,1277.4 842.4,1295.4 844.8,1309.4C847.3,1323.5 850.1,1333.6 852.8,1343.2C855.4,1352.8 857.6,1360.7 860.7,1367C863.9,1373.3 868,1380.2 871.6,1380.9C875.3,1381.5 879.4,1377.2 882.5,1371C885.7,1364.7 887.8,1353.4 890.5,1343.2C893.1,1332.9 895.8,1320 898.4,1309.4C901.1,1298.9 904,1287.9 906.3,1279.7C908.7,1271.4 910,1264.5 912.3,1259.9C914.6,1255.3 917.3,1252.6 920.2,1252C923.2,1251.3 926.9,1254.3 930.2,1256C933.5,1257.6 936.9,1260.3 940.1,1261.9C943.2,1263.6 946,1266.5 949,1265.9C952,1265.2 954.8,1261.6 957.9,1257.9C961.1,1254.3 964.6,1248.7 967.9,1244C971.2,1239.4 974.5,1233.6 977.8,1230.2C981.1,1226.7 984.7,1223.5 987.7,1223.2C990.7,1222.9 993.3,1225.7 995.6,1228.2C998,1230.7 999.2,1233.5 1001.9,1238.1C1004.6,1242.7 1008.8,1250.3 1011.8,1256C1014.8,1261.6 1017.4,1267.9 1019.8,1271.8C1022.1,1275.8 1023.4,1279.8 1025.7,1279.8C1028,1279.8 1031,1277.1 1033.7,1271.8C1036.3,1266.5 1038.9,1256.3 1041.6,1248C1044.2,1239.7 1046.9,1229.5 1049.5,1222.2C1052.2,1214.9 1054.8,1206.3 1057.5,1204.4C1060.1,1202.4 1062.8,1204.7 1065.4,1210.3C1068,1215.9 1070.7,1228.8 1073.3,1238.1C1076,1247.4 1079.3,1259.9 1081.3,1265.9C1083.3,1271.8 1083.3,1275.1 1085.2,1273.8C1087.2,1272.5 1090.5,1264.6 1093.2,1257.9C1095.8,1251.3 1098.5,1239.7 1101.1,1234.1C1103.8,1228.5 1106.4,1221.9 1109,1224.2C1111.7,1226.5 1114.7,1240.4 1117,1248C1119.3,1255.6 1121,1261.2 1122.9,1269.8C1124.9,1278.3 1127,1292.1 1128.9,1299.5C1130.8,1307 1132.5,1313.4 1134.4,1314.4C1136.4,1315.4 1138.4,1310.6 1140.8,1305.5C1143.2,1300.4 1145.8,1291.6 1148.7,1283.7C1151.7,1275.7 1155,1263.4 1158.7,1257.9C1162.3,1252.5 1166.9,1251.3 1170.6,1251C1174.2,1250.7 1177.5,1252.1 1180.5,1256C1183.5,1259.8 1185.9,1267.2 1188.4,1273.8C1190.9,1280.4 1193,1287 1195.4,1295.6C1197.7,1304.2 1200.3,1317.6 1202.3,1325.3C1204.3,1333 1205.2,1336.7 1207.6,1341.9C1210,1347 1214.3,1354 1216.7,1356.1C1219.1,1358.1 1220.3,1354.8 1222.1,1354.1C1223.9,1353.4 1226.2,1351.9 1227.5,1351.7C1228.8,1351.6 1228.8,1351.4 1230.1,1353.1C1231.4,1354.8 1233.3,1357.7 1235.2,1362.1C1237.1,1366.5 1239.5,1373.2 1241.6,1379.5C1243.8,1385.8 1246,1393.2 1248,1399.7C1250.1,1406.2 1252.1,1413.9 1253.9,1418.6C1255.7,1423.2 1256.9,1428.2 1258.8,1427.5C1260.8,1426.8 1264.1,1418.2 1265.8,1414.6C1267.4,1411 1267.1,1413.9 1268.8,1405.9C1270.4,1397.9 1273.4,1378.7 1275.7,1366.3C1278,1354 1280.2,1342 1282.5,1332C1284.8,1321.9 1286.6,1313.8 1289.4,1306.2C1292.3,1298.6 1296.3,1287.5 1299.7,1286.4C1303.2,1285.2 1306.9,1294 1310.1,1299.3C1313.2,1304.6 1315.6,1313.5 1318.7,1318.2C1321.7,1322.9 1325,1327.7 1328.1,1327.7C1331.3,1327.7 1334,1322.9 1337.6,1318.2C1341.1,1313.5 1345.9,1304.3 1349.6,1299.3C1353.3,1294.3 1356.8,1289.3 1359.9,1288.1C1363.1,1287 1365.9,1290.3 1368.5,1292.4C1371.1,1294.6 1373.1,1298.7 1375.4,1301C1377.7,1303.3 1380,1307.6 1382.3,1306.2C1384.6,1304.7 1387.1,1299.6 1389.2,1292.4C1391.2,1285.2 1392.6,1275.2 1394.3,1263.2C1396,1251.1 1397.6,1236.4 1399.5,1220.2C1401.3,1204 1403.8,1184.1 1405.5,1166.1C1407.2,1148 1408.2,1128.1 1409.8,1112C1411.4,1095.8 1413.2,1079.3 1414.9,1069C1416.7,1058.7 1418.4,1053.9 1420.1,1050.1C1421.8,1046.2 1423.3,1045.2 1425.3,1045.8C1427.3,1046.3 1429.9,1051.1 1432.1,1053.5C1434.4,1055.9 1436.7,1060.9 1439,1060.4C1441.3,1059.8 1443.6,1055.8 1445.9,1050.1C1448.2,1044.3 1451.6,1030 1452.8,1026" stroke="#1d1d5a" stroke-width="1.7" fill="none" stroke-linejoin="round"/>
<path d="M126.9,1303.1C128.8,1303.3 134.1,1304.7 137.9,1304.5C141.7,1304.3 144.5,1304 149.8,1301.9C155.1,1299.8 163,1295 169.6,1291.7C176.2,1288.3 182.8,1284.7 189.4,1281.7C196.1,1278.8 202.7,1276.1 209.3,1273.8C215.9,1271.5 222.5,1269.3 229.1,1267.9C235.7,1266.4 243,1265.9 249,1264.9C254.9,1263.9 259.9,1263.1 264.8,1261.9C269.8,1260.7 274.1,1259.6 278.7,1257.9C283.4,1256.3 287.7,1254.3 292.6,1252C297.6,1249.7 303.2,1247 308.5,1244C313.8,1241.1 319.1,1237.8 324.4,1234.1C329.7,1230.5 334.9,1225.9 340.2,1222.2C345.5,1218.6 350.8,1215.1 356.1,1212.3C361.4,1209.5 366.4,1207.7 372,1205.4C377.6,1203 384.2,1200.6 389.8,1198.4C395.5,1196.3 402.4,1193.3 405.7,1192.5C409.1,1191.6 407.3,1194.6 410,1193.5C412.7,1192.3 417.6,1187.8 421.9,1185.5C426.2,1183.2 431.2,1181.7 435.8,1179.6C440.4,1177.4 444.7,1174.4 449.7,1172.6C454.6,1170.8 460.6,1169.3 465.6,1168.7C470.5,1168 474.8,1168.3 479.4,1168.7C484.1,1169 488.4,1170 493.3,1170.6C498.3,1171.3 503.9,1172 509.2,1172.6C514.5,1173.3 519.8,1174.6 525.1,1174.6C530.4,1174.6 535.7,1173.6 541,1172.6C546.2,1171.6 551.5,1170 556.8,1168.7C562.1,1167.3 568.1,1165.3 572.7,1164.7C577.3,1164 580.3,1164.2 584.6,1164.7C588.9,1165.2 594.2,1166.7 598.5,1167.7C602.8,1168.7 606.8,1170 610.4,1170.6C614,1171.3 617,1172 620.3,1171.6C623.6,1171.3 626.9,1170.1 630.2,1168.7C633.5,1167.2 636.9,1165 640.2,1162.7C643.5,1160.4 646.4,1158.1 650.1,1154.8C653.7,1151.5 658,1147.2 662,1142.9C666,1138.6 669.9,1133.6 673.9,1129C677.9,1124.3 679.5,1119.7 685.8,1115.1C692.1,1110.4 705.6,1104 711.9,1101.2C718.2,1098.4 719.2,1099.4 723.8,1098.2C728.4,1097.1 734.4,1095.6 739.7,1094.2C745,1092.9 749.9,1091.3 755.6,1090.3C761.2,1089.3 768.5,1088.1 773.4,1088.3C778.4,1088.5 781.3,1089.8 785.3,1091.3C789.3,1092.8 792.9,1094.6 797.2,1097.2C801.5,1099.9 806.8,1104.2 811.1,1107.1C815.4,1110.1 819,1112.4 823,1115.1C827,1117.7 831,1120.7 834.9,1123C838.9,1125.3 842.9,1127.3 846.8,1129C850.8,1130.6 854.4,1131.9 858.7,1132.9C863,1133.9 867.3,1134.4 872.6,1134.9C877.9,1135.4 884.9,1135.4 890.5,1135.9C896.1,1136.4 901.7,1137.1 906.3,1137.9C911,1138.7 914.3,1139.7 918.3,1140.9C922.2,1142 926.2,1143.4 930.2,1144.8C934.1,1146.3 938.1,1148 942.1,1149.8C946,1151.6 950,1153.6 954,1155.8C957.9,1157.9 961.9,1160.2 965.9,1162.7C969.8,1165.2 973.8,1167.8 977.8,1170.6C981.8,1173.4 985.8,1175.6 989.8,1179.6C993.9,1183.5 997.9,1189.6 1001.9,1194.4C1005.9,1199.2 1009.2,1202.7 1013.8,1208.3C1018.4,1214 1024.4,1221.9 1029.7,1228.2C1035,1234.5 1040.3,1241.4 1045.6,1246C1050.8,1250.7 1056.1,1253 1061.4,1256C1066.7,1258.9 1072,1261.2 1077.3,1263.9C1082.6,1266.5 1087.9,1269.2 1093.2,1271.8C1098.5,1274.5 1103.8,1277.1 1109,1279.8C1114.3,1282.4 1119.6,1284.4 1124.9,1287.7C1130.2,1291 1135.2,1295.9 1140.8,1299.5C1146.4,1303.1 1153.4,1307 1158.7,1309.4C1163.9,1311.9 1167.6,1312.8 1172.5,1314.4C1177.5,1316.1 1183.8,1317.9 1188.4,1319.4C1193,1320.9 1195.5,1321.5 1200.3,1323.3C1205.1,1325.1 1211.5,1327.7 1217.2,1330.2C1222.9,1332.8 1228.7,1336.1 1234.4,1338.8C1240.1,1341.6 1245.9,1344.4 1251.6,1346.6C1257.3,1348.7 1263.6,1350.7 1268.8,1351.7C1273.9,1352.7 1278,1352.7 1282.5,1352.6C1287.1,1352.4 1291.4,1352.2 1296.3,1350.9C1301.2,1349.6 1306.3,1347.1 1311.8,1344.9C1317.2,1342.6 1322.9,1339.1 1329,1337.1C1335,1335.1 1342.4,1333.2 1347.9,1332.8C1353.3,1332.4 1356.8,1333.4 1361.6,1334.5C1366.5,1335.7 1371.1,1338.1 1377.1,1339.7C1383.1,1341.3 1391.4,1343.3 1397.8,1344C1404.1,1344.7 1409.2,1343.9 1414.9,1343.7C1420.7,1343.4 1426.6,1342.4 1432.1,1342.3C1437.7,1342.1 1445.8,1342.6 1448.5,1342.6" stroke="#ff6060" stroke-opacity="0.3" stroke-width="4" fill="none" filter="url(#glow)"/>
<path d="M126.9,1303.1C128.8,1303.3 134.1,1304.7 137.9,1304.5C141.7,1304.3 144.5,1304 149.8,1301.9C155.1,1299.8 163,1295 169.6,1291.7C176.2,1288.3 182.8,1284.7 189.4,1281.7C196.1,1278.8 202.7,1276.1 209.3,1273.8C215.9,1271.5 222.5,1269.3 229.1,1267.9C235.7,1266.4 243,1265.9 249,1264.9C254.9,1263.9 259.9,1263.1 264.8,1261.9C269.8,1260.7 274.1,1259.6 278.7,1257.9C283.4,1256.3 287.7,1254.3 292.6,1252C297.6,1249.7 303.2,1247 308.5,1244C313.8,1241.1 319.1,1237.8 324.4,1234.1C329.7,1230.5 334.9,1225.9 340.2,1222.2C345.5,1218.6 350.8,1215.1 356.1,1212.3C361.4,1209.5 366.4,1207.7 372,1205.4C377.6,1203 384.2,1200.6 389.8,1198.4C395.5,1196.3 402.4,1193.3 405.7,1192.5C409.1,1191.6 407.3,1194.6 410,1193.5C412.7,1192.3 417.6,1187.8 421.9,1185.5C426.2,1183.2 431.2,1181.7 435.8,1179.6C440.4,1177.4 444.7,1174.4 449.7,1172.6C454.6,1170.8 460.6,1169.3 465.6,1168.7C470.5,1168 474.8,1168.3 479.4,1168.7C484.1,1169 488.4,1170 493.3,1170.6C498.3,1171.3 503.9,1172 509.2,1172.6C514.5,1173.3 519.8,1174.6 525.1,1174.6C530.4,1174.6 535.7,1173.6 541,1172.6C546.2,1171.6 551.5,1170 556.8,1168.7C562.1,1167.3 568.1,1165.3 572.7,1164.7C577.3,1164 580.3,1164.2 584.6,1164.7C588.9,1165.2 594.2,1166.7 598.5,1167.7C602.8,1168.7 606.8,1170 610.4,1170.6C614,1171.3 617,1172 620.3,1171.6C623.6,1171.3 626.9,1170.1 630.2,1168.7C633.5,1167.2 636.9,1165 640.2,1162.7C643.5,1160.4 646.4,1158.1 650.1,1154.8C653.7,1151.5 658,1147.2 662,1142.9C666,1138.6 669.9,1133.6 673.9,1129C677.9,1124.3 679.5,1119.7 685.8,1115.1C692.1,1110.4 705.6,1104 711.9,1101.2C718.2,1098.4 719.2,1099.4 723.8,1098.2C728.4,1097.1 734.4,1095.6 739.7,1094.2C745,1092.9 749.9,1091.3 755.6,1090.3C761.2,1089.3 768.5,1088.1 773.4,1088.3C778.4,1088.5 781.3,1089.8 785.3,1091.3C789.3,1092.8 792.9,1094.6 797.2,1097.2C801.5,1099.9 806.8,1104.2 811.1,1107.1C815.4,1110.1 819,1112.4 823,1115.1C827,1117.7 831,1120.7 834.9,1123C838.9,1125.3 842.9,1127.3 846.8,1129C850.8,1130.6 854.4,1131.9 858.7,1132.9C863,1133.9 867.3,1134.4 872.6,1134.9C877.9,1135.4 884.9,1135.4 890.5,1135.9C896.1,1136.4 901.7,1137.1 906.3,1137.9C911,1138.7 914.3,1139.7 918.3,1140.9C922.2,1142 926.2,1143.4 930.2,1144.8C934.1,1146.3 938.1,1148 942.1,1149.8C946,1151.6 950,1153.6 954,1155.8C957.9,1157.9 961.9,1160.2 965.9,1162.7C969.8,1165.2 973.8,1167.8 977.8,1170.6C981.8,1173.4 985.8,1175.6 989.8,1179.6C993.9,1183.5 997.9,1189.6 1001.9,1194.4C1005.9,1199.2 1009.2,1202.7 1013.8,1208.3C1018.4,1214 1024.4,1221.9 1029.7,1228.2C1035,1234.5 1040.3,1241.4 1045.6,1246C1050.8,1250.7 1056.1,1253 1061.4,1256C1066.7,1258.9 1072,1261.2 1077.3,1263.9C1082.6,1266.5 1087.9,1269.2 1093.2,1271.8C1098.5,1274.5 1103.8,1277.1 1109,1279.8C1114.3,1282.4 1119.6,1284.4 1124.9,1287.7C1130.2,1291 1135.2,1295.9 1140.8,1299.5C1146.4,1303.1 1153.4,1307 1158.7,1309.4C1163.9,1311.9 1167.6,1312.8 1172.5,1314.4C1177.5,1316.1 1183.8,1317.9 1188.4,1319.4C1193,1320.9 1195.5,1321.5 1200.3,1323.3C1205.1,1325.1 1211.5,1327.7 1217.2,1330.2C1222.9,1332.8 1228.7,1336.1 1234.4,1338.8C1240.1,1341.6 1245.9,1344.4 1251.6,1346.6C1257.3,1348.7 1263.6,1350.7 1268.8,1351.7C1273.9,1352.7 1278,1352.7 1282.5,1352.6C1287.1,1352.4 1291.4,1352.2 1296.3,1350.9C1301.2,1349.6 1306.3,1347.1 1311.8,1344.9C1317.2,1342.6 1322.9,1339.1 1329,1337.1C1335,1335.1 1342.4,1333.2 1347.9,1332.8C1353.3,1332.4 1356.8,1333.4 1361.6,1334.5C1366.5,1335.7 1371.1,1338.1 1377.1,1339.7C1383.1,1341.3 1391.4,1343.3 1397.8,1344C1404.1,1344.7 1409.2,1343.9 1414.9,1343.7C1420.7,1343.4 1426.6,1342.4 1432.1,1342.3C1437.7,1342.1 1445.8,1342.6 1448.5,1342.6" stroke="#6e1616" stroke-width="2.2" fill="none" stroke-linejoin="round"/>
<path d="M126.9,1190.5 131.9,1198.4 137.9,1206.3 143.8,1212.3 149.8,1218.3 154.7,1224.2 157.7,1214.3 161.7,1208.3 165.6,1210.3 169.6,1206.3 173.6,1198.4 176.5,1184.5 179.5,1172.6 183.5,1182.5 189.4,1190.5 195.4,1198.4 201.3,1206.3 205.3,1213.3 208.3,1202.4 213.3,1192.5 217.2,1198.4 219.2,1194.4 222.2,1182.5 225.2,1166.7 228.1,1174.6 231.1,1178.6 234.1,1176.6 237.1,1182.5 241,1172.6 244,1180.6 249,1186.5 254.9,1192.5 260.9,1198.4 266.8,1204.4 270.8,1203.4 273.8,1204.4 276.7,1188.5 280.7,1182.5 284.7,1190.5 287.7,1192.5 290.6,1190.5 293.6,1194.4 296.6,1158.7 300.6,1170.6 304.5,1184.5 308.5,1192.5 312.5,1190.5 318.4,1192.5 324.4,1196.4 330.3,1202.4 336.3,1210.3 342.2,1218.3 348.2,1226.2 354.1,1234.1 360.1,1240.1 364,1232.1 368,1234.1 372,1240.1 376,1242.1 379.9,1244 383.9,1243.1 389.8,1246 397.8,1250 405.7,1257.9 410,1259.9 411.7,1263.9 416,1264.9 417.6,1267.9 420.9,1267.9 423.9,1256 427.9,1259.9 433.8,1267.9 439.8,1275.8 445.7,1283.7 451.7,1287.7 457.6,1293.7 461.6,1291.7 465.6,1297.6 473.5,1303.5 479.4,1310.4 484.4,1316.4 488.4,1321.3 493.3,1327.3 501.3,1337.2 509.2,1347.1 515.2,1356.1 521.1,1363 525.1,1367 531,1374.9 537,1380.9 540,1348.1 544.9,1353.1 550.9,1361 556.8,1371 562.8,1380.9 568.7,1390.8 574.7,1400.7 580.6,1410.6 586.6,1419.6 590.6,1425.5 594.5,1431.5 597.5,1395.8 602.5,1400.7 608.4,1408.7 614.4,1417.6 620.3,1426.5 624.3,1433.5 628.3,1440.4 632.2,1446.3 636.2,1434.4 641.2,1438.4 646.1,1404.7 651.1,1406.7 654,1412.6 658,1399.7 664,1380.9 667.9,1382.9 673.9,1387.8 679.8,1393.8 686.8,1400.7 689.8,1392.8 692.7,1358.1 695.7,1356.1 698.7,1358.1 700,1357.1 701.8,1342.2 703.7,1341.2 705.8,1323.3 707.9,1319.4 709.9,1311.4 711.9,1307.5 715.9,1313.4 719.8,1312.4 723.8,1309.4 727.8,1313.4 731.7,1313.4 734.7,1311.4 736.7,1303.5 739.7,1305.5 743.7,1306.5 746.6,1305.5 748.6,1275.8 753.6,1279.8 757.5,1276.8 763.5,1266.9 769.4,1271.8 775.4,1277.8 779.4,1269.8 783.3,1273.8 787.3,1256 793.3,1256 797.2,1250 803.2,1240.1 809.1,1246 815.1,1250 821,1255 827,1258.9 831,1257.9 834.9,1254 838.9,1256 842.9,1258.9 848.8,1257.9 852.8,1256 858.7,1259.9 864.7,1265.9 870.6,1267.9 876.6,1272.8 878.6,1263.9 882.5,1261.9 885.5,1263.9 889.5,1238.1 894.4,1240.1 898.4,1246 902.4,1232.1 907.3,1226.2 912.3,1231.2 916.3,1232.1 920.2,1238.1 924.2,1238.1 930.2,1238.1 934.1,1233.1 938.1,1235.1 942.1,1234.1 946,1238.1 950,1232.1 954,1234.1 957.9,1226.2 961.9,1229.2 965.9,1232.1 969.8,1222.2 973.8,1220.2 977.8,1222.2 981.7,1220.2 985.7,1219.2 987.7,1206.3 990,1198.4 991.7,1195.4 994,1195.4 995.6,1198.4 999.9,1202.4 1005.9,1210.3 1008.8,1213.3 1010.8,1203.4 1015.8,1206.3 1021.7,1212.3 1026.7,1214.3 1029.7,1210.3 1033.7,1209.3 1037.6,1212.3 1041.6,1208.3 1044.6,1195.4 1049.5,1200.4 1055.5,1202.4 1059.4,1204.4 1063.4,1202.4 1069.4,1208.3 1075.3,1216.3 1083.3,1223.2 1087.2,1214.3 1091.2,1218.3 1095.2,1216.3 1101.1,1220.2 1105.1,1222.2 1109,1213.3 1113,1218.3 1119,1223.2 1124.9,1228.2 1128.9,1231.2 1132.9,1235.1 1135.8,1213.3 1140.8,1217.3 1148.7,1222.2 1156.7,1228.2 1162.6,1230.2 1168.6,1231.2 1176.5,1233.1 1182.5,1234.1 1188.4,1235.1 1191.4,1237.1 1194.4,1218.3 1200.2,1215.2 1205.2,1216.7 1208.3,1215.3 1210.3,1215.9 1214.2,1222.2 1215.5,1223.6 1221.3,1230.3 1226,1219.2 1229.7,1216.1 1234.2,1219.8 1240.2,1223.8 1244.3,1217.9 1247.9,1212.3 1249.9,1210.7 1251.9,1210.3 1255,1212.4 1257.9,1214.3 1260.2,1215.9 1263.7,1218.8 1267.9,1223.8 1271.1,1196.4 1274.6,1191.1 1277.4,1197.9 1279.4,1199.4 1284,1204.5 1290.3,1210.7 1293.7,1204.7 1296.3,1195.3 1298.9,1197 1301.9,1182.4 1305.3,1185.8 1310.1,1188 1313.5,1194.4 1316.9,1197 1318.7,1194.5 1320.4,1196.1 1323.8,1203 1329,1209.9 1334.1,1205.6 1336.3,1187.6 1339.3,1182.5 1341,1181.5 1342.7,1184.2 1345.7,1188.9 1349.6,1173.4 1353,1180.7 1356.5,1187.6 1358.2,1194.4 1361.6,1192.8 1363.4,1197.8 1366.8,1193.2 1370.2,1197.5 1373.7,1201.3 1378.8,1205.6 1382.3,1198.7 1385.7,1197 1389.6,1182 1392.6,1185.8 1397.8,1182 1401.2,1184.2 1402.9,1188.4 1406.3,1191.1 1408.1,1196.1 1413.2,1203 1418.4,1209.9 1421.8,1207.3 1427,1209.9 1432.1,1215.9 1437.3,1219.3 1444.2,1226.2 1449.3,1226.2 1452.8,1228.8" stroke="#000" stroke-width="2.5" fill="none" stroke-linejoin="round"/>
<path d="M126.7,886H1453.1V1558.5H126.7Z" stroke="#858585" stroke-width="1.4" fill="none"/>
<path d="M126.7,873.4V886M126.7,1558.5V1571.1M183.1,873.4V886M183.1,1558.5V1571.1M234,873.4V886M234,1558.5V1571.1M290.3,873.4V886M290.3,1558.5V1571.1M344.9,873.4V886M344.9,1558.5V1571.1M401.3,873.4V886M401.3,1558.5V1571.1M455.8,873.4V886M455.8,1558.5V1571.1M512.2,873.4V886M512.2,1558.5V1571.1M568.5,873.4V886M568.5,1558.5V1571.1M623.1,873.4V886M623.1,1558.5V1571.1M679.4,873.4V886M679.4,1558.5V1571.1M734,873.4V886M734,1558.5V1571.1M790.4,873.4V886M790.4,1558.5V1571.1M846.7,873.4V886M846.7,1558.5V1571.1M897.6,873.4V886M897.6,1558.5V1571.1M954,873.4V886M954,1558.5V1571.1M1008.5,873.4V886M1008.5,1558.5V1571.1M1064.9,873.4V886M1064.9,1558.5V1571.1M1119.5,873.4V886M1119.5,1558.5V1571.1M1175.8,873.4V886M1175.8,1558.5V1571.1M1232.2,873.4V886M1232.2,1558.5V1571.1M1286.7,873.4V886M1286.7,1558.5V1571.1M1343.1,873.4V886M1343.1,1558.5V1571.1M1397.6,873.4V886M1397.6,1558.5V1571.1M113.7,886H139.7M1439.1,886H1464.6M113.7,942H139.7M1439.1,942H1464.6M113.7,998.1H139.7M1439.1,998.1H1464.6M113.7,1054.1H139.7M1439.1,1054.1H1464.6M113.7,1110.2H139.7M1439.1,1110.2H1464.6M113.7,1166.2H139.7M1439.1,1166.2H1464.6M113.7,1222.2H139.7M1439.1,1222.2H1464.6M113.7,1278.3H139.7M1439.1,1278.3H1464.6M113.7,1334.3H139.7M1439.1,1334.3H1464.6M113.7,1390.4H139.7M1439.1,1390.4H1464.6M113.7,1446.4H139.7M1439.1,1446.4H1464.6M113.7,1502.5H139.7M1439.1,1502.5H1464.6M113.7,1558.5H139.7M1439.1,1558.5H1464.6" stroke="#858585" stroke-width="1.3" fill="none"/>
<g font-size="15" fill="#111"><text x="42" y="891.2" text-anchor="end">1.5</text><text x="42" y="947.2" text-anchor="end">1.25</text><text x="42" y="1003.3" text-anchor="end">1</text><text x="42" y="1059.3" text-anchor="end">0.75</text><text x="42" y="1115.4" text-anchor="end">0.5</text><text x="42" y="1171.4" text-anchor="end">0.25</text><text x="42" y="1227.5" text-anchor="end">0</text><text x="42" y="1283.5" text-anchor="end">-0.25</text><text x="42" y="1339.5" text-anchor="end">-0.5</text><text x="42" y="1395.6" text-anchor="end">-0.75</text><text x="42" y="1451.6" text-anchor="end">-1</text><text x="42" y="1507.7" text-anchor="end">-1.25</text><text x="42" y="1563.7" text-anchor="end">-1.5</text></g>
<g font-size="15" fill="#3ccb3c"><text x="107" y="891.2" text-anchor="end">300</text><text x="107" y="947.2" text-anchor="end">275</text><text x="107" y="1003.3" text-anchor="end">250</text><text x="107" y="1059.3" text-anchor="end">225</text><text x="107" y="1115.4" text-anchor="end">200</text><text x="107" y="1171.4" text-anchor="end">175</text><text x="107" y="1227.5" text-anchor="end">150</text><text x="107" y="1283.5" text-anchor="end">125</text><text x="107" y="1339.5" text-anchor="end">100</text><text x="107" y="1395.6" text-anchor="end">75</text><text x="107" y="1451.6" text-anchor="end">50</text><text x="107" y="1507.7" text-anchor="end">25</text><text x="107" y="1563.7" text-anchor="end">0</text></g>
<g font-size="15" fill="#a3562a"><text x="1470.6" y="891.2">4.5</text><text x="1470.6" y="947.2">3.75</text><text x="1470.6" y="1003.3">3</text><text x="1470.6" y="1059.3">2.25</text><text x="1470.6" y="1115.4">1.5</text><text x="1470.6" y="1171.4">0.75</text><text x="1470.6" y="1227.5">0</text><text x="1470.6" y="1283.5">-0.75</text><text x="1470.6" y="1339.5">-1.5</text><text x="1470.6" y="1395.6">-2.25</text><text x="1470.6" y="1451.6">-3</text><text x="1470.6" y="1507.7">-3.75</text><text x="1470.6" y="1563.7">-4.5</text></g>
<g font-size="15" fill="#111"><text x="126.7" y="1590.8" text-anchor="middle">J</text><text x="183.1" y="1590.8" text-anchor="middle">F</text><text x="234" y="1590.8" text-anchor="middle">M</text><text x="290.3" y="1590.8" text-anchor="middle">A</text><text x="344.9" y="1590.8" text-anchor="middle">M</text><text x="401.3" y="1590.8" text-anchor="middle">J</text><text x="455.8" y="1590.8" text-anchor="middle">J</text><text x="512.2" y="1590.8" text-anchor="middle">A</text><text x="568.5" y="1590.8" text-anchor="middle">S</text><text x="623.1" y="1590.8" text-anchor="middle">O</text><text x="679.4" y="1590.8" text-anchor="middle">N</text><text x="734" y="1590.8" text-anchor="middle">D</text><text x="790.4" y="1590.8" text-anchor="middle">J</text><text x="846.7" y="1590.8" text-anchor="middle">F</text><text x="897.6" y="1590.8" text-anchor="middle">M</text><text x="954" y="1590.8" text-anchor="middle">A</text><text x="1008.5" y="1590.8" text-anchor="middle">M</text><text x="1064.9" y="1590.8" text-anchor="middle">J</text><text x="1119.5" y="1590.8" text-anchor="middle">J</text><text x="1175.8" y="1590.8" text-anchor="middle">A</text><text x="1232.2" y="1590.8" text-anchor="middle">S</text><text x="1286.7" y="1590.8" text-anchor="middle">O</text><text x="1343.1" y="1590.8" text-anchor="middle">N</text><text x="1397.6" y="1590.8" text-anchor="middle">D</text><text x="401.3" y="1573.3">2009</text><text x="1064.9" y="1573.3">2010</text></g>
<text x="789.9" y="880" text-anchor="middle" font-size="16.3" fill="#111">El Nino 2009</text>
<text x="15.2" y="844" font-size="42" fill="#000">f</text>
<text transform="translate(60,1270.2) rotate(-90)" text-anchor="middle" font-size="15.5" fill="#111" textLength="54" lengthAdjust="spacingAndGlyphs">GWL(m)</text>
<text transform="translate(77,1222.2) rotate(-90)" text-anchor="middle" font-size="15.5" fill="#3ccb3c" textLength="100" lengthAdjust="spacingAndGlyphs">Rainfall (mm)</text>
<text transform="translate(1530.6,1239.2) rotate(-90)" text-anchor="middle" font-size="15.5" fill="#a3562a" textLength="485" lengthAdjust="spacingAndGlyphs">(Nino3.4,  DMI,  SSTA) <tspan font-size="11" dy="-6">o</tspan><tspan dy="6">C,  EPV (10</tspan><tspan font-size="11" dy="-6">-6</tspan><tspan dy="6">Nm</tspan><tspan font-size="11" dy="-6">-2</tspan><tspan dy="6">),  EMT (m</tspan><tspan font-size="11" dy="-6">2</tspan><tspan dy="6">s</tspan><tspan font-size="11" dy="-6">-1</tspan><tspan dy="6">)</tspan></text>
<rect x="1056.4" y="894.3" width="131.3" height="123" fill="#fff" stroke="#9a9a9a" stroke-width="1.2"/><rect x="1060.4" y="899.3" width="31.6" height="11.6" fill="#11ee11"/><text x="1095.9" y="909.2" font-size="11.5" fill="#000" textLength="47.3" lengthAdjust="spacingAndGlyphs">Rainfall</text><path d="M1060.4,922H1091.9" stroke="#000" stroke-width="2.8"/><text x="1095.9" y="926.1" font-size="11.5" fill="#000" textLength="30.1" lengthAdjust="spacingAndGlyphs">GWL</text><path d="M1060.4,938.9H1091.9" stroke="#6e1616" stroke-width="2.6"/><text x="1095.9" y="943" font-size="11.5" fill="#000" textLength="52.1" lengthAdjust="spacingAndGlyphs">NINO3.4</text><path d="M1060.4,955.8H1091.9" stroke="#8e7482" stroke-width="2.4"/><text x="1095.9" y="959.9" font-size="11.5" fill="#000" textLength="24.8" lengthAdjust="spacingAndGlyphs">DMI</text><path d="M1060.4,972.7H1091.9" stroke="#b248c2" stroke-width="1.7"/><text x="1095.9" y="976.8" font-size="11.5" fill="#000" textLength="84.3" lengthAdjust="spacingAndGlyphs">SST Anomaly</text><path d="M1060.4,989.6H1091.9" stroke="#1d1d5a" stroke-width="1.7"/><text x="1095.9" y="993.7" font-size="11.5" fill="#000" textLength="85.9" lengthAdjust="spacingAndGlyphs">EMT anomaly</text><path d="M1060.4,1006.5H1091.9" stroke="#5ccfd8" stroke-width="1.9"/><text x="1095.9" y="1010.6" font-size="11.5" fill="#000" textLength="83.6" lengthAdjust="spacingAndGlyphs">EPV anomaly</text></g>
<g><path d="M182,1742.6V2415.3M232.9,1742.6V2415.3M289.3,1742.6V2415.3M343.8,1742.6V2415.3M400.2,1742.6V2415.3M454.7,1742.6V2415.3M511.1,1742.6V2415.3M567.5,1742.6V2415.3M622,1742.6V2415.3M678.4,1742.6V2415.3M733,1742.6V2415.3M789.3,1742.6V2415.3M845.7,1742.6V2415.3M898.5,1742.6V2415.3M954.8,1742.6V2415.3M1009.4,1742.6V2415.3M1065.8,1742.6V2415.3M1120.3,1742.6V2415.3M1176.7,1742.6V2415.3M1233.1,1742.6V2415.3M1287.6,1742.6V2415.3M1344,1742.6V2415.3M1398.5,1742.6V2415.3M125.6,1798.7H1454M125.6,1854.7H1454M125.6,1910.8H1454M125.6,1966.8H1454M125.6,2022.9H1454M125.6,2078.9H1454M125.6,2135H1454M125.6,2191.1H1454M125.6,2247.1H1454M125.6,2303.2H1454M125.6,2359.2H1454" stroke="#e4e4e4" stroke-width="1" fill="none"/>
<path d="M125.6,2078.9H1454" stroke="#b4b4b4" stroke-width="1.3" stroke-dasharray="1.3 1.0" fill="none"/>
<path d="M125.6,2415.3V2408.7h1.8V2415.3M127.4,2415.3V2406.3h1.8V2415.3M129.2,2415.3V2402.4h1.8V2415.3M131.1,2415.3V2407.1h1.8V2415.3M132.9,2415.3V2349.7h1.8V2415.3M134.7,2415.3V2405.6h1.8V2415.3M136.5,2415.3V2355.1h1.8V2415.3M138.3,2415.3V2390.5h1.8V2415.3M140.1,2415.3V2413.7h1.8V2415.3M142,2415.3V2393.7h1.8V2415.3M143.8,2415.3V2389.7h1.8V2415.3M147.4,2415.3V2412.7h1.8V2415.3M149.2,2415.3V2374.6h1.8V2415.3M151.1,2415.3V2389.7h1.8V2415.3M152.9,2415.3V2410h1.8V2415.3M154.7,2415.3V2403.2h1.8V2415.3M156.5,2415.3V2376.2h1.8V2415.3M158.3,2415.3V2398.4h1.8V2415.3M160.2,2415.3V2400h1.8V2415.3M162,2415.3V2413.8h1.8V2415.3M165.6,2415.3V2414.5h1.8V2415.3M167.4,2415.3V2386.5h1.8V2415.3M169.2,2415.3V2412.4h1.8V2415.3M171.1,2415.3V2414h1.8V2415.3M174.7,2415.3V2407.9h1.8V2415.3M178.3,2415.3V2396h1.8V2415.3M180.2,2415.3V2366.7h1.8V2415.3M182,2415.3V2345.2h1.8V2415.3M183.8,2415.3V2395.2h1.8V2415.3M185.6,2415.3V2332.5h1.8V2415.3M187.4,2415.3V2388.9h1.8V2415.3M189.2,2415.3V2402.4h1.8V2415.3M194.7,2415.3V2396.8h1.8V2415.3M196.5,2415.3V2407.1h1.8V2415.3M198.3,2415.3V2330.6h1.8V2415.3M200.2,2415.3V2334.1h1.8V2415.3M203.8,2415.3V2338.1h1.8V2415.3M205.6,2415.3V2312.7h1.8V2415.3M207.4,2415.3V2412.5h1.8V2415.3M209.3,2415.3V2375.4h1.8V2415.3M211.1,2415.3V2412.7h1.8V2415.3M212.9,2415.3V2385.7h1.8V2415.3M214.7,2415.3V2208.4h1.8V2415.3M218.3,2415.3V2411.3h1.8V2415.3M220.2,2415.3V2413.3h1.8V2415.3M222,2415.3V2344h1.8V2415.3M223.8,2415.3V2366.7h1.8V2415.3M225.6,2415.3V2412.6h1.8V2415.3M227.4,2415.3V2410.3h1.8V2415.3M229.3,2415.3V2412.8h1.8V2415.3M231.1,2415.3V2296h1.8V2415.3M232.9,2415.3V2399.2h1.8V2415.3M234.7,2415.3V2388.9h1.8V2415.3M236.5,2415.3V2407.9h1.8V2415.3M242,2415.3V2410.3h1.8V2415.3M243.8,2415.3V2394.4h1.8V2415.3M245.6,2415.3V2393.7h1.8V2415.3M249.3,2415.3V2411.6h1.8V2415.3M254.7,2415.3V2396h1.8V2415.3M256.5,2415.3V2414h1.8V2415.3M258.3,2415.3V2365.6h1.8V2415.3M260.2,2415.3V2284.6h1.8V2415.3M262,2415.3V2413.7h1.8V2415.3M267.4,2415.3V2339.7h1.8V2415.3M269.3,2415.3V2408.7h1.8V2415.3M271.1,2415.3V2386.5h1.8V2415.3M274.7,2415.3V2411.3h1.8V2415.3M276.5,2415.3V2410.5h1.8V2415.3M278.4,2415.3V2381h1.8V2415.3M282,2415.3V2412.3h1.8V2415.3M283.8,2415.3V2411.1h1.8V2415.3M287.4,2415.3V2413.8h1.8V2415.3M289.3,2415.3V2396.8h1.8V2415.3M291.1,2415.3V2402.4h1.8V2415.3M292.9,2415.3V2402.4h1.8V2415.3M294.7,2415.3V2412.1h1.8V2415.3M296.5,2415.3V2403.2h1.8V2415.3M298.4,2415.3V2411.1h1.8V2415.3M300.2,2415.3V2368.7h1.8V2415.3M302,2415.3V2413h1.8V2415.3M305.6,2415.3V2412.7h1.8V2415.3M307.4,2415.3V2391.3h1.8V2415.3M309.3,2415.3V2374.3h1.8V2415.3M312.9,2415.3V2414.1h1.8V2415.3M314.7,2415.3V2404.8h1.8V2415.3M316.5,2415.3V2386.5h1.8V2415.3M320.2,2415.3V2412.7h1.8V2415.3M325.6,2415.3V2411.6h1.8V2415.3M327.5,2415.3V2400.8h1.8V2415.3M329.3,2415.3V2413.9h1.8V2415.3M331.1,2415.3V2389.7h1.8V2415.3M332.9,2415.3V2386.5h1.8V2415.3M338.4,2415.3V2394.4h1.8V2415.3M343.8,2415.3V2375.4h1.8V2415.3M345.6,2415.3V2343.3h1.8V2415.3M349.3,2415.3V2410.6h1.8V2415.3M351.1,2415.3V2410.7h1.8V2415.3M352.9,2415.3V2411h1.8V2415.3M354.7,2415.3V2393.7h1.8V2415.3M356.5,2415.3V2412.3h1.8V2415.3M358.4,2415.3V2404h1.8V2415.3M360.2,2415.3V2412.9h1.8V2415.3M362,2415.3V2413.7h1.8V2415.3M414.7,2415.3V2410.3h1.8V2415.3M418.4,2415.3V2413.5h1.8V2415.3M420.2,2415.3V2413.6h1.8V2415.3M422,2415.3V2412.2h1.8V2415.3M423.8,2415.3V2411.2h1.8V2415.3M482,2415.3V2412.3h1.8V2415.3M483.8,2415.3V2404.3h1.8V2415.3M487.5,2415.3V2410.4h1.8V2415.3M489.3,2415.3V2395.2h1.8V2415.3M491.1,2415.3V2412.9h1.8V2415.3M494.8,2415.3V2407.9h1.8V2415.3M498.4,2415.3V2357.6h1.8V2415.3M500.2,2415.3V2412h1.8V2415.3M503.8,2415.3V2414.8h1.8V2415.3M667.5,2415.3V2412.6h1.8V2415.3M669.3,2415.3V2375.4h1.8V2415.3M671.1,2415.3V2412.8h1.8V2415.3M673,2415.3V2407.1h1.8V2415.3M674.8,2415.3V2411.9h1.8V2415.3M676.6,2415.3V2412.9h1.8V2415.3M678.4,2415.3V2395.2h1.8V2415.3M682.1,2415.3V2409.9h1.8V2415.3M683.9,2415.3V2411.2h1.8V2415.3M687.5,2415.3V2331h1.8V2415.3M689.3,2415.3V2347.6h1.8V2415.3M691.1,2415.3V2410.4h1.8V2415.3M694.8,2415.3V2413.7h1.8V2415.3M696.6,2415.3V2300.8h1.8V2415.3M700.2,2415.3V2410.3h1.8V2415.3M703.9,2415.3V2413.2h1.8V2415.3M705.7,2415.3V2358.7h1.8V2415.3M707.5,2415.3V2412.9h1.8V2415.3M709.3,2415.3V2344h1.8V2415.3M711.2,2415.3V2405.6h1.8V2415.3M713,2415.3V2379.8h1.8V2415.3M714.8,2415.3V2411.3h1.8V2415.3M716.6,2415.3V2390.5h1.8V2415.3M718.4,2415.3V2029.9h1.8V2415.3M720.2,2415.3V2406.3h1.8V2415.3M723.9,2415.3V2410.3h1.8V2415.3M727.5,2415.3V2410.4h1.8V2415.3M729.3,2415.3V2360.8h1.8V2415.3M731.2,2415.3V2411.6h1.8V2415.3M733,2415.3V2410.3h1.8V2415.3M734.8,2415.3V2394.4h1.8V2415.3M736.6,2415.3V2281.1h1.8V2415.3M738.4,2415.3V2316.7h1.8V2415.3M740.2,2415.3V2412.7h1.8V2415.3M743.9,2415.3V2412.7h1.8V2415.3M745.7,2415.3V2365.6h1.8V2415.3M747.5,2415.3V2410.3h1.8V2415.3M749.3,2415.3V2348.4h1.8V2415.3M751.2,2415.3V2411.9h1.8V2415.3M753,2415.3V2414h1.8V2415.3M754.8,2415.3V2413.6h1.8V2415.3M756.6,2415.3V2363h1.8V2415.3M758.4,2415.3V2412.7h1.8V2415.3M763.9,2415.3V2412.6h1.8V2415.3M767.5,2415.3V2414.3h1.8V2415.3M771.2,2415.3V2403.2h1.8V2415.3M773,2415.3V2413.9h1.8V2415.3M774.8,2415.3V2374.3h1.8V2415.3M778.4,2415.3V2413.4h1.8V2415.3M780.3,2415.3V2407.1h1.8V2415.3M782.1,2415.3V2338.4h1.8V2415.3M783.9,2415.3V2399.2h1.8V2415.3M785.7,2415.3V2402.4h1.8V2415.3M787.5,2415.3V2411.4h1.8V2415.3M789.3,2415.3V2397.6h1.8V2415.3M791.2,2415.3V2363h1.8V2415.3M793,2415.3V2341.7h1.8V2415.3M794.8,2415.3V2414.5h1.8V2415.3M798.4,2415.3V2268.4h1.8V2415.3M803.9,2415.3V2414h1.8V2415.3M805.7,2415.3V2412.7h1.8V2415.3M807.5,2415.3V2411.5h1.8V2415.3M809.3,2415.3V2264.3h1.8V2415.3M813,2415.3V2377.8h1.8V2415.3M816.6,2415.3V2356h1.8V2415.3M818.4,2415.3V2409.5h1.8V2415.3M820.3,2415.3V2410h1.8V2415.3M822.1,2415.3V2388.1h1.8V2415.3M823.9,2415.3V2390.5h1.8V2415.3M825.7,2415.3V2340.5h1.8V2415.3M827.5,2415.3V2412h1.8V2415.3M831.2,2415.3V2278.6h1.8V2415.3M833,2415.3V2258.7h1.8V2415.3M834.8,2415.3V2397.6h1.8V2415.3M836.6,2415.3V2413.9h1.8V2415.3M840.3,2415.3V2410.3h1.8V2415.3M842.1,2415.3V2411.3h1.8V2415.3M843.9,2415.3V2410.8h1.8V2415.3M845.7,2415.3V2350.5h1.8V2415.3M849.4,2415.3V2393.7h1.8V2415.3M851.2,2415.3V2411.7h1.8V2415.3M853,2415.3V2411h1.8V2415.3M854.8,2415.3V2369.8h1.8V2415.3M858.4,2415.3V2408.7h1.8V2415.3M860.3,2415.3V2410h1.8V2415.3M862.1,2415.3V2410.6h1.8V2415.3M863.9,2415.3V2358.7h1.8V2415.3M865.7,2415.3V2413.7h1.8V2415.3M867.5,2415.3V2413.3h1.8V2415.3M871.2,2415.3V2275.7h1.8V2415.3M873,2415.3V2412.7h1.8V2415.3M874.8,2415.3V2412.5h1.8V2415.3M876.6,2415.3V2406.3h1.8V2415.3M878.5,2415.3V2408.7h1.8V2415.3M880.3,2415.3V2414.1h1.8V2415.3M882.1,2415.3V2329.4h1.8V2415.3M883.9,2415.3V2388.1h1.8V2415.3M887.5,2415.3V2184.7h1.8V2415.3M889.4,2415.3V2384.1h1.8V2415.3M891.2,2415.3V2413.5h1.8V2415.3M893,2415.3V2332.5h1.8V2415.3M896.6,2415.3V2374.6h1.8V2415.3M898.5,2415.3V2403.2h1.8V2415.3M900.3,2415.3V2392.5h1.8V2415.3M905.7,2415.3V2408.4h1.8V2415.3M909.4,2415.3V2390h1.8V2415.3M911.2,2415.3V2412.4h1.8V2415.3M913,2415.3V2411.8h1.8V2415.3M914.8,2415.3V2411.5h1.8V2415.3M916.6,2415.3V2330.6h1.8V2415.3M920.3,2415.3V2405.9h1.8V2415.3M922.1,2415.3V2411.4h1.8V2415.3M923.9,2415.3V2394.8h1.8V2415.3M925.7,2415.3V2410.4h1.8V2415.3M927.5,2415.3V2410.1h1.8V2415.3M933,2415.3V2413.7h1.8V2415.3M934.8,2415.3V2368.7h1.8V2415.3M936.6,2415.3V2339.7h1.8V2415.3M938.5,2415.3V2287h1.8V2415.3M940.3,2415.3V2412.2h1.8V2415.3M942.1,2415.3V2411.1h1.8V2415.3M943.9,2415.3V2382.1h1.8V2415.3M945.7,2415.3V2412.2h1.8V2415.3M947.6,2415.3V2413.2h1.8V2415.3M949.4,2415.3V2370.3h1.8V2415.3M951.2,2415.3V2394.4h1.8V2415.3M953,2415.3V2414.4h1.8V2415.3M958.5,2415.3V2406.8h1.8V2415.3M960.3,2415.3V2411.1h1.8V2415.3M963.9,2415.3V2375.4h1.8V2415.3M965.7,2415.3V2410h1.8V2415.3M967.6,2415.3V2411.2h1.8V2415.3M969.4,2415.3V2361.9h1.8V2415.3M971.2,2415.3V2413.5h1.8V2415.3M974.8,2415.3V2371.4h1.8V2415.3M976.6,2415.3V2359.8h1.8V2415.3M978.5,2415.3V2381h1.8V2415.3M980.3,2415.3V2411.2h1.8V2415.3M982.1,2415.3V2412.5h1.8V2415.3M983.9,2415.3V2342.9h1.8V2415.3M985.7,2415.3V2368.7h1.8V2415.3M987.6,2415.3V2387.8h1.8V2415.3M989.4,2415.3V2414.2h1.8V2415.3M991.2,2415.3V2208.5h1.8V2415.3M993,2415.3V2398.4h1.8V2415.3M994.8,2415.3V2378.6h1.8V2415.3M996.7,2415.3V2410.2h1.8V2415.3M998.5,2415.3V2206.5h1.8V2415.3M1000.3,2415.3V2349.7h1.8V2415.3M1003.9,2415.3V2410.1h1.8V2415.3M1005.7,2415.3V2413.1h1.8V2415.3M1007.6,2415.3V2371.9h1.8V2415.3M1009.4,2415.3V2410.6h1.8V2415.3M1011.2,2415.3V2387.8h1.8V2415.3M1013,2415.3V2388.9h1.8V2415.3M1018.5,2415.3V2400.8h1.8V2415.3M1020.3,2415.3V2414.3h1.8V2415.3M1022.1,2415.3V2315.9h1.8V2415.3M1023.9,2415.3V2369.8h1.8V2415.3M1025.7,2415.3V2413.6h1.8V2415.3M1027.6,2415.3V2400h1.8V2415.3M1029.4,2415.3V2368.7h1.8V2415.3M1031.2,2415.3V2412.4h1.8V2415.3M1033,2415.3V2412.5h1.8V2415.3M1034.8,2415.3V2255.2h1.8V2415.3M1036.7,2415.3V2412.1h1.8V2415.3M1038.5,2415.3V2390.2h1.8V2415.3M1040.3,2415.3V2410.9h1.8V2415.3M1042.1,2415.3V2413.3h1.8V2415.3M1043.9,2415.3V2412.4h1.8V2415.3M1045.8,2415.3V2412.2h1.8V2415.3M1049.4,2415.3V2411.1h1.8V2415.3M1054.8,2415.3V2414h1.8V2415.3M1058.5,2415.3V2414.1h1.8V2415.3M1060.3,2415.3V2259.8h1.8V2415.3M1062.1,2415.3V2410.9h1.8V2415.3M1063.9,2415.3V2388.9h1.8V2415.3M1065.8,2415.3V2410.6h1.8V2415.3M1067.6,2415.3V2412.4h1.8V2415.3M1069.4,2415.3V2384.1h1.8V2415.3M1071.2,2415.3V2214h1.8V2415.3M1073,2415.3V2413.2h1.8V2415.3M1080.3,2415.3V2413.9h1.8V2415.3M1082.1,2415.3V2403.2h1.8V2415.3M1083.9,2415.3V2392.5h1.8V2415.3M1085.8,2415.3V2409.5h1.8V2415.3M1087.6,2415.3V2409.5h1.8V2415.3M1089.4,2415.3V2369.8h1.8V2415.3M1093,2415.3V2383.3h1.8V2415.3M1094.9,2415.3V2400h1.8V2415.3M1096.7,2415.3V2316.3h1.8V2415.3M1098.5,2415.3V2410.3h1.8V2415.3M1102.1,2415.3V2409.8h1.8V2415.3M1103.9,2415.3V2412.2h1.8V2415.3M1107.6,2415.3V2413.5h1.8V2415.3M1109.4,2415.3V2329.4h1.8V2415.3M1113,2415.3V2412.5h1.8V2415.3M1114.9,2415.3V2384.6h1.8V2415.3M1127.6,2415.3V2414.4h1.8V2415.3M1133,2415.3V2395.7h1.8V2415.3M1134.9,2415.3V2395.2h1.8V2415.3M1138.5,2415.3V2410.7h1.8V2415.3M1140.3,2415.3V2410.2h1.8V2415.3M1142.1,2415.3V2409h1.8V2415.3M1145.8,2415.3V2412.8h1.8V2415.3M1149.4,2415.3V2411.9h1.8V2415.3M1151.2,2415.3V2376.2h1.8V2415.3M1153,2415.3V2393.7h1.8V2415.3M1154.9,2415.3V2355.1h1.8V2415.3M1156.7,2415.3V2410.2h1.8V2415.3M1160.3,2415.3V2410.3h1.8V2415.3M1162.1,2415.3V2413.7h1.8V2415.3M1164,2415.3V2382.1h1.8V2415.3M1171.2,2415.3V2413.8h1.8V2415.3M1173,2415.3V2411.9h1.8V2415.3M1174.9,2415.3V2411.1h1.8V2415.3M1176.7,2415.3V2412.7h1.8V2415.3M1178.5,2415.3V2411h1.8V2415.3M1182.1,2415.3V2351.6h1.8V2415.3M1193,2415.3V2412.3h1.8V2415.3M1196.7,2415.3V2410.6h1.8V2415.3M1198.5,2415.3V2407.1h1.8V2415.3M1200.3,2415.3V2409.5h1.8V2415.3M1202.1,2415.3V2411.1h1.8V2415.3M1204,2415.3V2411.8h1.8V2415.3M1205.8,2415.3V2413h1.8V2415.3M1218.5,2415.3V2410h1.8V2415.3M1220.3,2415.3V2414.5h1.8V2415.3M1222.1,2415.3V2411.9h1.8V2415.3M1225.8,2415.3V2399.7h1.8V2415.3M1229.4,2415.3V2412.5h1.8V2415.3M1231.2,2415.3V2405.9h1.8V2415.3M1233.1,2415.3V2411.4h1.8V2415.3M1234.9,2415.3V2288.1h1.8V2415.3M1236.7,2415.3V2413.8h1.8V2415.3M1251.2,2415.3V2413.6h1.8V2415.3M1253.1,2415.3V2411h1.8V2415.3M1254.9,2415.3V2399.5h1.8V2415.3M1258.5,2415.3V2365.4h1.8V2415.3M1260.3,2415.3V2410.4h1.8V2415.3M1262.2,2415.3V2374.1h1.8V2415.3M1264,2415.3V2391.3h1.8V2415.3M1265.8,2415.3V2385.4h1.8V2415.3M1267.6,2415.3V2398.4h1.8V2415.3M1269.4,2415.3V2256.3h1.8V2415.3M1271.2,2415.3V2410.7h1.8V2415.3M1273.1,2415.3V2411.9h1.8V2415.3M1274.9,2415.3V2406h1.8V2415.3M1278.5,2415.3V2408.7h1.8V2415.3M1280.3,2415.3V2394.8h1.8V2415.3M1282.2,2415.3V2409.5h1.8V2415.3M1284,2415.3V2412.8h1.8V2415.3M1287.6,2415.3V2413.9h1.8V2415.3M1289.4,2415.3V2410.4h1.8V2415.3M1291.2,2415.3V2383.3h1.8V2415.3M1293.1,2415.3V2391.3h1.8V2415.3M1294.9,2415.3V2366.7h1.8V2415.3M1296.7,2415.3V2359.5h1.8V2415.3M1298.5,2415.3V2413.5h1.8V2415.3M1300.3,2415.3V2408.4h1.8V2415.3M1302.2,2415.3V2411.9h1.8V2415.3M1305.8,2415.3V2359.5h1.8V2415.3M1307.6,2415.3V2313.5h1.8V2415.3M1309.4,2415.3V2411.9h1.8V2415.3M1313.1,2415.3V2401.1h1.8V2415.3M1322.2,2415.3V2414.3h1.8V2415.3M1324,2415.3V2411.1h1.8V2415.3M1325.8,2415.3V2410h1.8V2415.3M1327.6,2415.3V2403.2h1.8V2415.3M1329.4,2415.3V2403.7h1.8V2415.3M1333.1,2415.3V2406.3h1.8V2415.3M1336.7,2415.3V2401.1h1.8V2415.3M1342.2,2415.3V2414h1.8V2415.3M1344,2415.3V2321.4h1.8V2415.3M1345.8,2415.3V2376.7h1.8V2415.3M1347.6,2415.3V2381h1.8V2415.3M1349.4,2415.3V2388.1h1.8V2415.3M1354.9,2415.3V2377.8h1.8V2415.3M1356.7,2415.3V2377.8h1.8V2415.3M1358.5,2415.3V2404.8h1.8V2415.3M1360.3,2415.3V2412.8h1.8V2415.3M1367.6,2415.3V2408.7h1.8V2415.3M1374.9,2415.3V2412.7h1.8V2415.3M1376.7,2415.3V2399.2h1.8V2415.3M1380.4,2415.3V2413.7h1.8V2415.3M1384,2415.3V2411.4h1.8V2415.3M1385.8,2415.3V2400.2h1.8V2415.3M1387.6,2415.3V2413.2h1.8V2415.3M1389.4,2415.3V2377.7h1.8V2415.3M1393.1,2415.3V2410.8h1.8V2415.3M1394.9,2415.3V2411.3h1.8V2415.3M1396.7,2415.3V2353.2h1.8V2415.3M1398.5,2415.3V2413.7h1.8V2415.3M1400.4,2415.3V2410h1.8V2415.3M1402.2,2415.3V2303.6h1.8V2415.3M1404,2415.3V2412.3h1.8V2415.3M1407.6,2415.3V2368.8h1.8V2415.3M1409.4,2415.3V2410.6h1.8V2415.3M1411.3,2415.3V2344.2h1.8V2415.3M1413.1,2415.3V2377.7h1.8V2415.3M1414.9,2415.3V2393.5h1.8V2415.3M1416.7,2415.3V2413.4h1.8V2415.3M1418.5,2415.3V2401.5h1.8V2415.3M1420.4,2415.3V2409.8h1.8V2415.3M1424,2415.3V2388.9h1.8V2415.3M1431.3,2415.3V2400.2h1.8V2415.3M1433.1,2415.3V2411.9h1.8V2415.3M1434.9,2415.3V2403.5h1.8V2415.3M1436.7,2415.3V2380.3h1.8V2415.3M1440.4,2415.3V2412.6h1.8V2415.3M1445.8,2415.3V2388.9h1.8V2415.3M1447.6,2415.3V2406.1h1.8V2415.3" fill="#4ae84a" stroke="#78a878" stroke-width="0.5"/>
<path d="M126,2078C127.6,2077.4 131.9,2075.2 135.9,2074C139.8,2072.9 145.1,2071.1 149.8,2071.1C154.4,2071.1 159.4,2071.9 163.7,2074C167.9,2076.2 171.3,2081 175.6,2084C179.9,2086.9 184.8,2089.6 189.4,2091.9C194.1,2094.2 199.4,2096.4 203.3,2097.9C207.3,2099.3 209.3,2101.2 213.3,2100.8C217.2,2100.5 222.2,2098.4 227.1,2095.9C232.1,2093.4 237.7,2089.3 243,2086C248.3,2082.6 253.6,2078.7 258.9,2076C264.2,2073.4 269.8,2071.2 274.8,2070.1C279.7,2068.9 284,2069.1 288.7,2069.1C293.3,2069.1 297.6,2069.4 302.5,2070.1C307.5,2070.7 313.1,2072.4 318.4,2073.1C323.7,2073.7 329.7,2074.5 334.3,2074C338.9,2073.6 342.2,2072.1 346.2,2070.1C350.2,2068.1 354.1,2064.8 358.1,2062.1C362.1,2059.5 366,2057.2 370,2054.2C374,2051.2 375.2,2047.9 381.9,2044.3C388.6,2040.6 402.7,2035.5 410,2032.4C417.3,2029.2 420.9,2027.3 425.9,2025.4C430.8,2023.6 435.1,2022 439.8,2021.5C444.4,2021 448.7,2020.6 453.7,2022.5C458.6,2024.3 464.2,2028.7 469.5,2032.4C474.8,2036 480.8,2040.6 485.4,2044.3C490,2047.9 493.7,2051.7 497.3,2054.2C500.9,2056.7 503.9,2058.5 507.2,2059.2C510.5,2059.8 513.5,2059.7 517.1,2058.2C520.8,2056.7 524.4,2054.2 529,2050.2C533.7,2046.3 540,2039.3 544.9,2034.4C549.9,2029.4 554.5,2024.1 558.8,2020.5C563.1,2016.8 566.7,2014.1 570.7,2012.5C574.7,2011 578.3,2010.6 582.6,2011C586.9,2011.3 591.9,2013.6 596.5,2014.5C601.1,2015.4 606.4,2016.2 610.4,2016.5C614.4,2016.8 616.7,2017.2 620.3,2016.5C624,2015.8 628.3,2014 632.2,2012.5C636.2,2011.1 639.8,2009.1 644.1,2007.6C648.4,2006.1 653.7,2004.1 658,2003.6C662.3,2003.1 665.6,2003.1 669.9,2004.6C674.2,2006.1 679.5,2008.9 683.8,2012.5C688.1,2016.2 693,2023.5 695.7,2026.4C698.4,2029.3 697.3,2027.1 700,2030C702.7,2032.9 707.9,2039.4 711.9,2043.8C715.9,2048.3 719.8,2052.9 723.8,2056.7C727.8,2060.5 731.4,2064 735.7,2066.7C740,2069.3 744.8,2071 749.6,2072.6C754.4,2074.3 760.2,2075.6 764.5,2076.6C768.8,2077.6 772.9,2077.5 775.4,2078.6C777.9,2079.8 776.4,2080.7 779.4,2083.5C782.3,2086.3 788.6,2091.8 793.3,2095.4C797.9,2099 802.2,2102.3 807.1,2105.3C812.1,2108.3 818.1,2111.8 823,2113.3C828,2114.7 832.3,2114.4 836.9,2114.2C841.5,2114.1 845.5,2113.4 850.8,2112.3C856.1,2111.1 862.4,2109.5 868.7,2107.3C874.9,2105.2 881.9,2102 888.5,2099.4C895.1,2096.7 901.7,2094.1 908.3,2091.4C914.9,2088.8 921.6,2085.5 928.2,2083.5C934.8,2081.5 941.4,2080.4 948,2079.5C954.6,2078.7 961.2,2078.7 967.9,2078.5C974.5,2078.4 984,2078.4 987.7,2078.5C991.4,2078.7 986.3,2079.7 990,2079.5C993.7,2079.4 1003.2,2078.4 1009.8,2077.5C1016.5,2076.7 1023.1,2075.2 1029.7,2074.6C1036.3,2073.9 1042.9,2073.2 1049.5,2073.6C1056.1,2073.9 1062.8,2074.9 1069.4,2076.5C1076,2078.2 1082.6,2080.7 1089.2,2083.5C1095.8,2086.3 1102.4,2090.1 1109,2093.4C1115.7,2096.7 1122.3,2100.4 1128.9,2103.3C1135.5,2106.3 1142.1,2109.3 1148.7,2111.3C1155.3,2113.3 1162,2114.4 1168.6,2115.2C1175.2,2116.1 1181.8,2115.2 1188.4,2116.2C1195,2117.2 1203.5,2119.1 1208.3,2121.2C1213.1,2123.3 1214.6,2127.3 1217.2,2129C1219.8,2130.6 1221.3,2128.8 1224.1,2131.1C1227,2133.4 1232.1,2140.7 1234.4,2142.7C1236.7,2144.7 1235.8,2141.6 1238,2143C1240.3,2144.4 1245.7,2149.3 1247.9,2151C1250.2,2152.6 1249.9,2152.2 1251.6,2153C1253.2,2153.9 1254.9,2155.3 1257.9,2155.9C1260.8,2156.5 1265.6,2157.2 1269.3,2156.7C1272.9,2156.2 1276.9,2153.8 1279.7,2152.9C1282.5,2152 1284.3,2152.3 1286,2151.3C1287.7,2150.3 1287.1,2149.3 1290,2147C1292.9,2144.7 1298.1,2141.4 1303.2,2137.6C1308.2,2133.7 1314.6,2127.8 1320.4,2123.8C1326.1,2119.8 1331.8,2116.6 1337.6,2113.5C1343.3,2110.3 1349,2106.5 1354.8,2104.9C1360.5,2103.3 1366.2,2103.2 1372,2104C1377.7,2104.9 1383.4,2108.2 1389.2,2110.1C1394.9,2111.9 1400.6,2114.5 1406.3,2115.2C1412.1,2115.9 1416.7,2115.6 1423.5,2114.4C1430.4,2113.1 1443.6,2108.6 1447.6,2107.5" stroke="#8e7482" stroke-width="2.4" fill="none" stroke-linejoin="round"/>
<path d="M126,2016.5C126.9,2018.8 129.8,2027.1 131.9,2030.4C134.1,2033.7 136.2,2037 138.8,2036.3C141.5,2035.7 145.1,2028.9 147.8,2026.4C150.4,2023.9 152.2,2019.5 154.7,2021.5C157.2,2023.5 160.2,2030.6 162.7,2038.3C165.1,2046.1 167.1,2058.2 169.6,2068.1C172.1,2078 175.6,2090.9 177.5,2097.9C179.5,2104.8 180.2,2105.3 181.5,2109.6C182.8,2113.9 184.2,2119.8 185.5,2123.7C186.8,2127.5 187.1,2132.1 189.4,2132.4C191.8,2132.7 196.4,2127.8 199.4,2125.5C202.3,2123.2 204.7,2120.7 207.3,2118.5C209.9,2116.4 212.8,2116.4 215.2,2112.7C217.7,2108.9 220,2103.9 222.2,2095.8C224.3,2087.7 226,2080.2 228.1,2064C230.3,2047.9 232.9,2016.2 235.1,1998.7C237.2,1981.1 238.8,1968.1 241,1959C243.3,1949.9 245.9,1943.1 248.6,1944.1C251.2,1945.1 254.2,1954.2 256.9,1964.9C259.6,1975.7 262.5,1994.7 264.8,2008.6C267.2,2022.5 268.8,2035 270.8,2048.3C272.8,2061.5 275.1,2079.5 276.7,2087.9C278.4,2096.4 278.7,2099.5 280.7,2098.8C282.7,2098.2 286,2090.7 288.7,2084C291.3,2077.2 293.9,2067.4 296.6,2058.2C299.2,2048.9 301.9,2037.7 304.5,2028.4C307.2,2019.2 309.8,2010.2 312.5,2002.6C315.1,1995 317.8,1987.2 320.4,1982.8C323,1978.3 325.3,1974.2 327.9,1975.8C330.6,1977.5 333.9,1983.9 336.3,1992.7C338.7,2001.5 340.6,2015.8 342.2,2028.4C343.9,2041 344.9,2054.9 346.2,2068.1C347.5,2081.3 348.8,2099.2 350.2,2107.8C351.5,2116.3 352.8,2111 354.1,2119.5C355.4,2128.1 356.8,2148.3 358.1,2159.2C359.4,2170.1 360.6,2178.9 362.1,2185C363.6,2191.1 365,2196.2 367,2195.9C369,2195.6 371.5,2188.1 374,2183C376.4,2177.9 379.6,2168.8 381.9,2165.2C384.2,2161.5 385.5,2160.2 387.9,2161.2C390.2,2162.2 393.1,2167.1 395.8,2171.1C398.4,2175.1 401.2,2181.5 403.7,2185C406.2,2188.5 408.1,2190 410.8,2191.9C413.5,2193.9 416.8,2194.8 420,2196.9C423.1,2199.1 426.9,2202.5 429.8,2204.8C432.8,2207.2 435.3,2209.3 437.8,2210.8C440.3,2212.3 442.4,2214.8 444.7,2213.8C447,2212.8 449.2,2210.6 451.7,2204.8C454.1,2199.1 457,2187.3 459.6,2179C462.2,2170.8 465.2,2161.9 467.5,2155.2C469.9,2148.6 470.8,2143.8 473.5,2139.4C476.1,2134.9 480.4,2128.5 483.4,2128.5C486.4,2128.5 489,2134.9 491.3,2139.4C493.7,2143.8 495,2149.9 497.3,2155.2C499.6,2160.5 502.8,2167.1 505.2,2171.1C507.7,2175.1 509.5,2179 512.2,2179C514.8,2179 518.1,2173.9 521.1,2171.1C524.1,2168.3 527.1,2161.5 530,2162.2C533,2162.8 535.8,2168.3 539,2175.1C542.1,2181.9 545.9,2193.9 548.9,2202.9C551.9,2211.8 554.8,2223.4 556.8,2228.7C558.8,2233.9 558.8,2235.9 560.8,2234.6C562.8,2233.3 566.4,2228.3 568.7,2220.7C571,2213.1 572.7,2200.2 574.7,2189C576.7,2177.7 578.3,2163.8 580.6,2153.3C582.9,2142.7 585.9,2132.9 588.6,2125.5C591.2,2118 593.5,2113.6 596.5,2108.7C599.5,2103.7 603,2095.8 606.4,2095.8C609.9,2095.8 614,2103.4 617.3,2108.7C620.6,2114 623.1,2121 626.3,2127.5C629.4,2133.9 632.6,2141.7 636.2,2147.3C639.8,2152.9 644.5,2159.5 648.1,2161.2C651.7,2162.8 654.7,2159.2 658,2157.2C661.3,2155.2 664.6,2151.3 667.9,2149.3C671.2,2147.3 674.6,2145.5 677.9,2145.3C681.2,2145.2 684.8,2147.6 687.8,2148.3C690.8,2149 693.1,2150.4 695.7,2149.3C698.4,2148.1 701.9,2143.4 703.7,2141.3C705.4,2139.3 704.2,2138.8 706,2137.1C707.7,2135.4 711.2,2130.1 713.9,2131.1C716.5,2132.1 719,2137.6 721.8,2143C724.6,2148.4 727.6,2156.4 730.6,2163.7C733.5,2170.9 736.7,2186.8 739.5,2186.7C742.4,2186.5 744.9,2174.1 747.6,2162.9C750.3,2151.6 753.2,2133.1 755.6,2119.2C757.9,2105.3 759.7,2092.9 761.5,2079.5C763.3,2066.1 764.7,2047.6 766.5,2038.9C768.2,2030.2 769.8,2027.5 771.9,2027.5C774.1,2027.5 777,2030.4 779.4,2038.9C781.8,2047.4 783.7,2065.8 786.3,2078.6C789,2091.3 792.4,2104.5 795.2,2115.2C798,2126 801.2,2137.4 803.2,2143C805.2,2148.6 805.2,2151 807.1,2149C809.1,2147 812.4,2138.7 815.1,2131.1C817.7,2123.5 820.4,2112.3 823,2103.3C825.7,2094.4 828.3,2084.8 831,2077.5C833.6,2070.3 836.9,2063.2 838.9,2059.7C840.9,2056.2 840.9,2054.7 842.9,2056.7C844.8,2058.7 848.1,2063.8 850.8,2071.6C853.4,2079.4 856.1,2092.1 858.7,2103.3C861.4,2114.6 864.4,2129.1 866.7,2139C869,2149 870.8,2157.1 872.6,2162.9C874.4,2168.6 875.6,2173.8 877.6,2173.8C879.6,2173.8 881.7,2170 884.5,2162.9C887.3,2155.7 891.1,2141 894.4,2131.1C897.8,2121.2 901.1,2111.3 904.4,2103.3C907.7,2095.4 911,2088.4 914.3,2083.5C917.6,2078.5 921.9,2076 924.2,2073.7C926.5,2071.3 925.9,2070.9 928.2,2069.6C930.5,2068.3 935.8,2066.7 938.1,2065.7C940.4,2064.7 939.4,2065 942.1,2063.7C944.7,2062.3 951.3,2059.1 954,2057.8C956.6,2056.5 956.3,2057 957.9,2055.7C959.6,2054.4 961.5,2051.6 963.9,2049.8C966.3,2048.1 969.3,2044.5 972.3,2045.3C975.3,2046.2 978.6,2051.4 981.7,2054.8C984.9,2058.2 988.9,2063.2 991.2,2065.7C993.6,2068.2 994.2,2068.7 996,2069.7C997.7,2070.7 999.6,2073 1001.9,2071.7C1004.2,2070.3 1006.9,2065.7 1009.8,2061.7C1012.8,2057.8 1016.5,2048.8 1019.8,2047.9C1023.1,2046.9 1026.4,2052.5 1029.7,2055.8C1033,2059.1 1036.6,2066.7 1039.6,2067.7C1042.6,2068.7 1044.9,2066.7 1047.5,2061.7C1050.2,2056.8 1052.5,2046.9 1055.5,2037.9C1058.5,2029 1062.1,2016.8 1065.4,2008.2C1068.7,1999.6 1071.2,1991.6 1075.3,1986.3C1079.5,1981.1 1085.9,1976.8 1090.2,1976.4C1094.5,1976.1 1098,1980.1 1101.1,1984.4C1104.3,1988.7 1106.1,1994.9 1109,2002.2C1112,2009.5 1116,2021.7 1119,2028C1121.9,2034.3 1123.9,2042.2 1126.9,2039.9C1129.9,2037.6 1133.8,2022.4 1136.8,2014.1C1139.8,2005.9 1142.6,1994.9 1144.8,1990.3C1146.9,1985.7 1147.4,1983.4 1149.7,1986.3C1152,1989.3 1155.8,1999.6 1158.7,2008.2C1161.5,2016.8 1164.3,2027.7 1166.6,2037.9C1168.9,2048.2 1170.2,2060 1172.5,2069.6C1174.9,2079.2 1177.5,2089.4 1180.5,2095.4C1183.5,2101.3 1187.1,2103.2 1190.4,2105.3C1193.7,2107.5 1198,2107.5 1200,2108.3C1202,2109.2 1200.6,2112.3 1202.3,2110.3C1204,2108.3 1208,2104.9 1210.3,2096.4C1212.5,2087.9 1214.1,2070 1215.8,2059.3C1217.5,2048.5 1218.4,2043.7 1220.4,2031.9C1222.4,2020 1225.2,2001.9 1228.1,1988.3C1231,1974.8 1235.2,1955.4 1237.9,1950.4C1240.6,1945.5 1242.3,1956.2 1244.3,1958.7C1246.4,1961.2 1248.2,1967.7 1250.3,1965.2C1252.5,1962.7 1255.4,1951.6 1257.3,1943.6C1259.2,1935.7 1260.5,1926.6 1261.9,1917.6C1263.3,1908.5 1264.6,1896.3 1265.8,1889.1C1266.9,1882 1267.3,1882.6 1268.8,1874.6C1270.3,1866.6 1272.9,1849.1 1274.7,1841.1C1276.5,1833.1 1278,1827.2 1279.8,1826.5C1281.7,1825.9 1283.9,1830.7 1285.8,1837.3C1287.7,1843.9 1289.4,1852.6 1291.1,1866C1292.9,1879.4 1294.3,1901.8 1296.3,1917.6C1298.3,1933.3 1300.9,1950.2 1303.2,1960.6C1305.5,1970.9 1307.8,1978 1310.1,1979.5C1312.3,1980.9 1314.6,1974.6 1316.9,1969.2C1319.2,1963.7 1321.4,1953 1323.8,1946.8C1326.2,1940.6 1329.3,1933.3 1331.5,1932.2C1333.8,1931 1335.4,1933.8 1337.6,1939.9C1339.7,1946.1 1342.2,1957.1 1344.4,1969.2C1346.7,1981.2 1349.6,2002.7 1351.3,2012.1C1353,2021.6 1353,2018.4 1354.8,2025.8C1356.5,2033.2 1359.6,2049 1361.6,2056.7C1363.6,2064.5 1364.8,2071.9 1366.8,2072.2C1368.8,2072.5 1371.4,2064.8 1373.7,2058.5C1376,2052.2 1378.5,2042.1 1380.6,2034.4C1382.6,2026.7 1384.3,2016.2 1385.7,2012.1C1387.1,2008.1 1388,2012 1389.2,2010.3C1390.3,2008.6 1391.2,2004 1392.6,2001.8C1394,1999.7 1395.7,1998.7 1397.8,1997.5C1399.8,1996.4 1402.3,1997.4 1404.6,1994.9C1406.9,1992.5 1409.2,1989.2 1411.5,1982.9C1413.8,1976.6 1416.4,1963.4 1418.4,1957.1C1420.4,1950.8 1421.8,1948.1 1423.5,1945.1C1425.3,1942.1 1426.7,1938.2 1428.7,1939.1C1430.7,1939.9 1433.6,1943.8 1435.6,1950.2C1437.6,1956.7 1439.3,1967.4 1440.7,1977.8C1442.2,1988.1 1443,2001.5 1444.2,2012.1C1445.3,2022.8 1446.2,2024 1447.6,2041.5C1449.1,2059 1451.9,2104.4 1452.8,2116.9" stroke="#b8f4f8" stroke-opacity="0.7" stroke-width="4.5" fill="none" filter="url(#glow)"/>
<path d="M126,2016.5C126.9,2018.8 129.8,2027.1 131.9,2030.4C134.1,2033.7 136.2,2037 138.8,2036.3C141.5,2035.7 145.1,2028.9 147.8,2026.4C150.4,2023.9 152.2,2019.5 154.7,2021.5C157.2,2023.5 160.2,2030.6 162.7,2038.3C165.1,2046.1 167.1,2058.2 169.6,2068.1C172.1,2078 175.6,2090.9 177.5,2097.9C179.5,2104.8 180.2,2105.3 181.5,2109.6C182.8,2113.9 184.2,2119.8 185.5,2123.7C186.8,2127.5 187.1,2132.1 189.4,2132.4C191.8,2132.7 196.4,2127.8 199.4,2125.5C202.3,2123.2 204.7,2120.7 207.3,2118.5C209.9,2116.4 212.8,2116.4 215.2,2112.7C217.7,2108.9 220,2103.9 222.2,2095.8C224.3,2087.7 226,2080.2 228.1,2064C230.3,2047.9 232.9,2016.2 235.1,1998.7C237.2,1981.1 238.8,1968.1 241,1959C243.3,1949.9 245.9,1943.1 248.6,1944.1C251.2,1945.1 254.2,1954.2 256.9,1964.9C259.6,1975.7 262.5,1994.7 264.8,2008.6C267.2,2022.5 268.8,2035 270.8,2048.3C272.8,2061.5 275.1,2079.5 276.7,2087.9C278.4,2096.4 278.7,2099.5 280.7,2098.8C282.7,2098.2 286,2090.7 288.7,2084C291.3,2077.2 293.9,2067.4 296.6,2058.2C299.2,2048.9 301.9,2037.7 304.5,2028.4C307.2,2019.2 309.8,2010.2 312.5,2002.6C315.1,1995 317.8,1987.2 320.4,1982.8C323,1978.3 325.3,1974.2 327.9,1975.8C330.6,1977.5 333.9,1983.9 336.3,1992.7C338.7,2001.5 340.6,2015.8 342.2,2028.4C343.9,2041 344.9,2054.9 346.2,2068.1C347.5,2081.3 348.8,2099.2 350.2,2107.8C351.5,2116.3 352.8,2111 354.1,2119.5C355.4,2128.1 356.8,2148.3 358.1,2159.2C359.4,2170.1 360.6,2178.9 362.1,2185C363.6,2191.1 365,2196.2 367,2195.9C369,2195.6 371.5,2188.1 374,2183C376.4,2177.9 379.6,2168.8 381.9,2165.2C384.2,2161.5 385.5,2160.2 387.9,2161.2C390.2,2162.2 393.1,2167.1 395.8,2171.1C398.4,2175.1 401.2,2181.5 403.7,2185C406.2,2188.5 408.1,2190 410.8,2191.9C413.5,2193.9 416.8,2194.8 420,2196.9C423.1,2199.1 426.9,2202.5 429.8,2204.8C432.8,2207.2 435.3,2209.3 437.8,2210.8C440.3,2212.3 442.4,2214.8 444.7,2213.8C447,2212.8 449.2,2210.6 451.7,2204.8C454.1,2199.1 457,2187.3 459.6,2179C462.2,2170.8 465.2,2161.9 467.5,2155.2C469.9,2148.6 470.8,2143.8 473.5,2139.4C476.1,2134.9 480.4,2128.5 483.4,2128.5C486.4,2128.5 489,2134.9 491.3,2139.4C493.7,2143.8 495,2149.9 497.3,2155.2C499.6,2160.5 502.8,2167.1 505.2,2171.1C507.7,2175.1 509.5,2179 512.2,2179C514.8,2179 518.1,2173.9 521.1,2171.1C524.1,2168.3 527.1,2161.5 530,2162.2C533,2162.8 535.8,2168.3 539,2175.1C542.1,2181.9 545.9,2193.9 548.9,2202.9C551.9,2211.8 554.8,2223.4 556.8,2228.7C558.8,2233.9 558.8,2235.9 560.8,2234.6C562.8,2233.3 566.4,2228.3 568.7,2220.7C571,2213.1 572.7,2200.2 574.7,2189C576.7,2177.7 578.3,2163.8 580.6,2153.3C582.9,2142.7 585.9,2132.9 588.6,2125.5C591.2,2118 593.5,2113.6 596.5,2108.7C599.5,2103.7 603,2095.8 606.4,2095.8C609.9,2095.8 614,2103.4 617.3,2108.7C620.6,2114 623.1,2121 626.3,2127.5C629.4,2133.9 632.6,2141.7 636.2,2147.3C639.8,2152.9 644.5,2159.5 648.1,2161.2C651.7,2162.8 654.7,2159.2 658,2157.2C661.3,2155.2 664.6,2151.3 667.9,2149.3C671.2,2147.3 674.6,2145.5 677.9,2145.3C681.2,2145.2 684.8,2147.6 687.8,2148.3C690.8,2149 693.1,2150.4 695.7,2149.3C698.4,2148.1 701.9,2143.4 703.7,2141.3C705.4,2139.3 704.2,2138.8 706,2137.1C707.7,2135.4 711.2,2130.1 713.9,2131.1C716.5,2132.1 719,2137.6 721.8,2143C724.6,2148.4 727.6,2156.4 730.6,2163.7C733.5,2170.9 736.7,2186.8 739.5,2186.7C742.4,2186.5 744.9,2174.1 747.6,2162.9C750.3,2151.6 753.2,2133.1 755.6,2119.2C757.9,2105.3 759.7,2092.9 761.5,2079.5C763.3,2066.1 764.7,2047.6 766.5,2038.9C768.2,2030.2 769.8,2027.5 771.9,2027.5C774.1,2027.5 777,2030.4 779.4,2038.9C781.8,2047.4 783.7,2065.8 786.3,2078.6C789,2091.3 792.4,2104.5 795.2,2115.2C798,2126 801.2,2137.4 803.2,2143C805.2,2148.6 805.2,2151 807.1,2149C809.1,2147 812.4,2138.7 815.1,2131.1C817.7,2123.5 820.4,2112.3 823,2103.3C825.7,2094.4 828.3,2084.8 831,2077.5C833.6,2070.3 836.9,2063.2 838.9,2059.7C840.9,2056.2 840.9,2054.7 842.9,2056.7C844.8,2058.7 848.1,2063.8 850.8,2071.6C853.4,2079.4 856.1,2092.1 858.7,2103.3C861.4,2114.6 864.4,2129.1 866.7,2139C869,2149 870.8,2157.1 872.6,2162.9C874.4,2168.6 875.6,2173.8 877.6,2173.8C879.6,2173.8 881.7,2170 884.5,2162.9C887.3,2155.7 891.1,2141 894.4,2131.1C897.8,2121.2 901.1,2111.3 904.4,2103.3C907.7,2095.4 911,2088.4 914.3,2083.5C917.6,2078.5 921.9,2076 924.2,2073.7C926.5,2071.3 925.9,2070.9 928.2,2069.6C930.5,2068.3 935.8,2066.7 938.1,2065.7C940.4,2064.7 939.4,2065 942.1,2063.7C944.7,2062.3 951.3,2059.1 954,2057.8C956.6,2056.5 956.3,2057 957.9,2055.7C959.6,2054.4 961.5,2051.6 963.9,2049.8C966.3,2048.1 969.3,2044.5 972.3,2045.3C975.3,2046.2 978.6,2051.4 981.7,2054.8C984.9,2058.2 988.9,2063.2 991.2,2065.7C993.6,2068.2 994.2,2068.7 996,2069.7C997.7,2070.7 999.6,2073 1001.9,2071.7C1004.2,2070.3 1006.9,2065.7 1009.8,2061.7C1012.8,2057.8 1016.5,2048.8 1019.8,2047.9C1023.1,2046.9 1026.4,2052.5 1029.7,2055.8C1033,2059.1 1036.6,2066.7 1039.6,2067.7C1042.6,2068.7 1044.9,2066.7 1047.5,2061.7C1050.2,2056.8 1052.5,2046.9 1055.5,2037.9C1058.5,2029 1062.1,2016.8 1065.4,2008.2C1068.7,1999.6 1071.2,1991.6 1075.3,1986.3C1079.5,1981.1 1085.9,1976.8 1090.2,1976.4C1094.5,1976.1 1098,1980.1 1101.1,1984.4C1104.3,1988.7 1106.1,1994.9 1109,2002.2C1112,2009.5 1116,2021.7 1119,2028C1121.9,2034.3 1123.9,2042.2 1126.9,2039.9C1129.9,2037.6 1133.8,2022.4 1136.8,2014.1C1139.8,2005.9 1142.6,1994.9 1144.8,1990.3C1146.9,1985.7 1147.4,1983.4 1149.7,1986.3C1152,1989.3 1155.8,1999.6 1158.7,2008.2C1161.5,2016.8 1164.3,2027.7 1166.6,2037.9C1168.9,2048.2 1170.2,2060 1172.5,2069.6C1174.9,2079.2 1177.5,2089.4 1180.5,2095.4C1183.5,2101.3 1187.1,2103.2 1190.4,2105.3C1193.7,2107.5 1198,2107.5 1200,2108.3C1202,2109.2 1200.6,2112.3 1202.3,2110.3C1204,2108.3 1208,2104.9 1210.3,2096.4C1212.5,2087.9 1214.1,2070 1215.8,2059.3C1217.5,2048.5 1218.4,2043.7 1220.4,2031.9C1222.4,2020 1225.2,2001.9 1228.1,1988.3C1231,1974.8 1235.2,1955.4 1237.9,1950.4C1240.6,1945.5 1242.3,1956.2 1244.3,1958.7C1246.4,1961.2 1248.2,1967.7 1250.3,1965.2C1252.5,1962.7 1255.4,1951.6 1257.3,1943.6C1259.2,1935.7 1260.5,1926.6 1261.9,1917.6C1263.3,1908.5 1264.6,1896.3 1265.8,1889.1C1266.9,1882 1267.3,1882.6 1268.8,1874.6C1270.3,1866.6 1272.9,1849.1 1274.7,1841.1C1276.5,1833.1 1278,1827.2 1279.8,1826.5C1281.7,1825.9 1283.9,1830.7 1285.8,1837.3C1287.7,1843.9 1289.4,1852.6 1291.1,1866C1292.9,1879.4 1294.3,1901.8 1296.3,1917.6C1298.3,1933.3 1300.9,1950.2 1303.2,1960.6C1305.5,1970.9 1307.8,1978 1310.1,1979.5C1312.3,1980.9 1314.6,1974.6 1316.9,1969.2C1319.2,1963.7 1321.4,1953 1323.8,1946.8C1326.2,1940.6 1329.3,1933.3 1331.5,1932.2C1333.8,1931 1335.4,1933.8 1337.6,1939.9C1339.7,1946.1 1342.2,1957.1 1344.4,1969.2C1346.7,1981.2 1349.6,2002.7 1351.3,2012.1C1353,2021.6 1353,2018.4 1354.8,2025.8C1356.5,2033.2 1359.6,2049 1361.6,2056.7C1363.6,2064.5 1364.8,2071.9 1366.8,2072.2C1368.8,2072.5 1371.4,2064.8 1373.7,2058.5C1376,2052.2 1378.5,2042.1 1380.6,2034.4C1382.6,2026.7 1384.3,2016.2 1385.7,2012.1C1387.1,2008.1 1388,2012 1389.2,2010.3C1390.3,2008.6 1391.2,2004 1392.6,2001.8C1394,1999.7 1395.7,1998.7 1397.8,1997.5C1399.8,1996.4 1402.3,1997.4 1404.6,1994.9C1406.9,1992.5 1409.2,1989.2 1411.5,1982.9C1413.8,1976.6 1416.4,1963.4 1418.4,1957.1C1420.4,1950.8 1421.8,1948.1 1423.5,1945.1C1425.3,1942.1 1426.7,1938.2 1428.7,1939.1C1430.7,1939.9 1433.6,1943.8 1435.6,1950.2C1437.6,1956.7 1439.3,1967.4 1440.7,1977.8C1442.2,1988.1 1443,2001.5 1444.2,2012.1C1445.3,2022.8 1446.2,2024 1447.6,2041.5C1449.1,2059 1451.9,2104.4 1452.8,2116.9" stroke="#5ccfd8" stroke-width="1.9" fill="none" stroke-linejoin="round"/>
<path d="M126,2060.2C127.6,2062.1 132.6,2068.4 135.9,2072.1C139.2,2075.7 142.5,2079.7 145.8,2082C149.1,2084.3 152.4,2086.3 155.7,2086C159,2085.6 162.3,2083.6 165.6,2080C168.9,2076.4 172.6,2068.8 175.6,2064.1C178.5,2059.5 180.5,2056.2 183.5,2052.2C186.5,2048.3 190.1,2043.3 193.4,2040.3C196.7,2037.3 200,2035.6 203.3,2034.4C206.6,2033.1 209.9,2032.4 213.3,2032.8C216.6,2033.1 220.2,2034.1 223.2,2036.3C226.2,2038.6 228.5,2041 231.1,2046.3C233.8,2051.6 236.4,2062.8 239,2068.1C241.7,2073.4 244.3,2075.7 247,2078C249.6,2080.3 252.3,2083.6 254.9,2082C257.6,2080.3 260.2,2073.7 262.9,2068.1C265.5,2062.5 268.1,2053.9 270.8,2048.3C273.4,2042.6 276.1,2037.5 278.7,2034.4C281.4,2031.2 284,2029.4 286.7,2029.4C289.3,2029.4 292,2033.2 294.6,2034.4C297.2,2035.5 299.9,2036.3 302.5,2036.3C305.2,2036.3 307.8,2035.4 310.5,2034.4C313.1,2033.4 315.4,2030.4 318.4,2030.4C321.4,2030.4 325,2031.4 328.3,2034.4C331.6,2037.3 334.9,2043.3 338.3,2048.3C341.6,2053.2 344.9,2059.8 348.2,2064.1C351.5,2068.4 354.8,2071.7 358.1,2074C361.4,2076.4 364.7,2078.3 368,2078C371.3,2077.7 374.3,2075.7 377.9,2072.1C381.6,2068.4 385.9,2061 389.8,2056.2C393.8,2051.4 398.4,2045.8 401.7,2043.3C405.1,2040.8 406.8,2039.8 409.8,2041.3C412.9,2042.8 416.6,2047.8 419.9,2052.2C423.3,2056.7 426.5,2063 429.8,2068.1C433.1,2073.2 436.5,2077.6 439.8,2082.9C443.1,2088.2 446.4,2094.3 449.7,2099.8C453,2105.2 456.6,2111.2 459.6,2115.6C462.6,2120.1 464.9,2127 467.5,2126.5C470.2,2126.1 472.8,2118.4 475.5,2112.7C478.1,2106.9 480.4,2099.3 483.4,2091.8C486.4,2084.4 489.7,2074.5 493.3,2068C497,2061.6 501.6,2053.9 505.2,2053.2C508.9,2052.6 512.5,2060.4 515.2,2064.1C517.8,2067.9 519.5,2073.2 521.1,2075.9C522.8,2078.5 523.8,2078.3 525.1,2080C526.4,2081.7 526.9,2084.2 529,2085.8C531.2,2087.4 535,2087.3 538,2089.8C541,2092.3 544.3,2096 546.9,2100.8C549.6,2105.5 551.9,2112.8 553.8,2118.6C555.8,2124.4 557,2128.6 558.8,2135.4C560.6,2142.2 562.8,2150.3 564.8,2159.2C566.7,2168.1 568.7,2179.7 570.7,2189C572.7,2198.2 574.7,2206.5 576.7,2214.8C578.7,2223 580.3,2232 582.6,2238.6C584.9,2245.2 587.6,2253.1 590.6,2254.4C593.5,2255.8 597.2,2250.1 600.5,2246.5C603.8,2242.9 607.1,2237.2 610.4,2232.6C613.7,2228 617.3,2223 620.3,2218.7C623.3,2214.4 625.9,2210.8 628.3,2206.8C630.6,2202.9 631.9,2199.6 634.2,2194.9C636.5,2190.3 639.5,2185 642.1,2179C644.8,2173.1 647.4,2165.2 650.1,2159.2C652.7,2153.3 655.4,2147.5 658,2143.3C660.7,2139.2 663,2135.4 666,2134.4C668.9,2133.4 672.2,2135.6 675.9,2137.4C679.5,2139.2 684.1,2145.6 687.8,2145.3C691.4,2145 695.1,2139 697.7,2135.4C700.3,2131.8 701.6,2127.8 703.7,2123.5C705.7,2119.2 708,2116.9 710,2109.6C712,2102.3 713.2,2088.2 715.9,2079.5C718.5,2070.9 722.8,2063.7 725.8,2057.8C728.8,2051.8 730.9,2047 733.7,2043.9C736.5,2040.7 739.7,2039.3 742.7,2038.9C745.6,2038.6 748.1,2040.4 751.6,2041.9C755.1,2043.4 760.2,2047.5 763.5,2047.9C766.8,2048.2 768.8,2046.5 771.4,2043.9C774.1,2041.2 776.7,2038.6 779.4,2032C782,2025.4 784.7,2012.5 787.3,2004.2C789.9,1995.9 792.3,1988.3 795.2,1982.4C798.2,1976.4 801.9,1972.1 805.2,1968.5C808.5,1964.9 811.1,1962.6 815.1,1960.6C819,1958.5 825,1955.9 829,1956.2C832.9,1956.5 835.6,1959.2 838.9,1962.5C842.2,1965.9 845.5,1972.1 848.8,1976.4C852.1,1980.7 855.8,1985.6 858.7,1988.3C861.7,1991 864,1992.7 866.7,1992.7C869.3,1992.7 871.6,1991.4 874.6,1988.3C877.6,1985.3 881.2,1978.2 884.5,1974.4C887.8,1970.6 891.8,1967.5 894.4,1965.5C897.1,1963.5 897.8,1962.7 900.4,1962.5C903,1962.4 906.7,1963.5 910.3,1964.5C914,1965.5 918.3,1967.2 922.2,1968.5C926.2,1969.8 929.8,1971.1 934.1,1972.5C938.4,1973.8 944,1975.8 948,1976.4C952,1977.1 954.6,1976.1 957.9,1976.4C961.2,1976.8 963.9,1977.1 967.9,1978.4C971.8,1979.7 978.1,1982.9 981.7,1984.4C985.4,1985.9 988,1986.3 990,1987.3C992,1988.3 992,1989.5 993.7,1990.3C995.3,1991.1 997.2,1991.7 999.9,1992.3C1002.6,1992.9 1006.5,1993.8 1009.8,1993.9C1013.1,1994 1016.5,1993 1019.8,1992.7C1023.1,1992.4 1025.7,1991.9 1029.7,1991.9C1033.7,1991.9 1040.3,1993 1043.6,1992.7C1046.9,1992.4 1046.9,1992.4 1049.5,1990.3C1052.2,1988.3 1056.1,1984 1059.4,1980.4C1062.8,1976.8 1066.1,1971.6 1069.4,1968.5C1072.7,1965.4 1076,1962.4 1079.3,1961.5C1082.6,1960.7 1085.9,1963 1089.2,1963.5C1092.5,1964 1095.8,1966 1099.1,1964.5C1102.4,1963 1105.7,1958.2 1109,1954.6C1112.4,1951 1115.3,1946 1119,1942.7C1122.6,1939.4 1126.9,1935.4 1130.9,1934.8C1134.8,1934.1 1138.8,1937.2 1142.8,1938.7C1146.7,1940.2 1151,1943.7 1154.7,1943.7C1158.3,1943.7 1161.6,1941.2 1164.6,1938.7C1167.6,1936.2 1169.6,1932.4 1172.5,1928.8C1175.5,1925.2 1179.2,1919.9 1182.5,1916.9C1185.8,1913.9 1189.5,1911.3 1192.4,1910.6C1195.3,1909.8 1198.3,1911.8 1200,1912.4C1201.7,1913 1201.2,1913.4 1202.3,1913.9C1203.4,1914.5 1205.2,1915.3 1206.9,1915.8C1208.6,1916.4 1210,1918.1 1212.6,1917.2C1215.1,1916.4 1218.9,1913.5 1222.2,1910.8C1225.6,1908.1 1229.1,1903.8 1232.4,1901.2C1235.7,1898.6 1238.8,1895.4 1242.1,1895.1C1245.3,1894.9 1248.4,1897.3 1251.7,1899.7C1255,1902.2 1258.5,1906 1261.9,1909.8C1265.2,1913.7 1268.6,1917.7 1272,1922.8C1275.4,1927.9 1278.6,1933.5 1282.1,1940.3C1285.6,1947.2 1289.3,1956.6 1292.9,1964C1296.4,1971.4 1299.7,1979.8 1303.2,1984.6C1306.6,1989.5 1310.1,1992.7 1313.5,1993.2C1316.9,1993.8 1320.4,1989.8 1323.8,1988.1C1327.2,1986.3 1331.3,1983.9 1334.1,1982.9C1337,1981.9 1338.1,1981.6 1341,1982.1C1343.9,1982.5 1347.6,1983.6 1351.3,1985.5C1355,1987.4 1359.3,1990.2 1363.4,1993.2C1367.4,1996.2 1371.7,1999.5 1375.4,2003.5C1379.1,2007.6 1382.1,2011.6 1385.7,2017.3C1389.3,2023 1392.9,2031.3 1396.9,2037.9C1400.9,2044.5 1405.9,2052.2 1409.8,2056.7C1413.7,2061.3 1417,2063.3 1420.1,2065.3C1423.3,2067.4 1425.3,2068.9 1428.7,2068.8C1432.1,2068.6 1436.7,2066.1 1440.7,2064.5C1444.8,2062.9 1450.8,2060.2 1452.8,2059.3" stroke="#b248c2" stroke-width="1.7" fill="none" stroke-linejoin="round"/>
<path d="M126,2034.4C126.9,2033.5 129.8,2030.6 131.9,2029.4C134.1,2028.2 136.2,2026.9 138.8,2027.4C141.5,2027.9 145,2028.2 147.8,2032.4C150.6,2036.5 153.1,2042.8 155.7,2052.2C158.4,2061.6 161.3,2077.3 163.7,2088.8C166,2100.4 167.6,2111.5 169.6,2121.6C171.6,2131.7 173.6,2141.4 175.6,2149.3C177.5,2157.2 179.5,2164.7 181.5,2169.1C183.5,2173.6 185.1,2175.9 187.5,2176.1C189.8,2176.2 192.8,2172.3 195.4,2170.1C198,2168 200.7,2164.8 203.3,2163.2C206,2161.5 209,2161.9 211.3,2160.2C213.6,2158.5 215.6,2156.7 217.2,2153.3C218.9,2149.8 219.9,2145 221.2,2139.4C222.5,2133.7 223.7,2127.9 225.2,2119.5C226.6,2111.1 227.8,2105.7 230.1,2088.8C232.4,2072 236,2035.5 239,2018.5C242.1,2001.5 245.6,1988.4 248.6,1986.7C251.5,1985.1 254,1994 256.9,2008.6C259.8,2023.1 263.2,2057.3 265.8,2074C268.5,2090.7 270.6,2099.4 272.8,2108.7C274.9,2117.9 276.4,2125 278.7,2129.4C281,2133.9 284,2133.7 286.7,2135.4C289.3,2137.1 292,2139 294.6,2139.4C297.2,2139.7 299.9,2140 302.5,2137.4C305.2,2134.7 307.8,2129.1 310.5,2123.5C313.1,2117.9 315.6,2111.5 318.4,2103.7C321.2,2096 324,2085.2 327.3,2076.9C330.6,2068.7 335.4,2059 338.3,2054.2C341.1,2049.4 341.6,2049.1 344.2,2048.3C346.9,2047.4 350.5,2047.9 354.1,2049.2C357.8,2050.6 362.4,2053.7 366,2056.2C369.7,2058.7 373,2062.3 376,2064.1C378.9,2065.9 380.9,2067.8 383.9,2067.1C386.9,2066.4 390.2,2063.3 393.8,2060.2C397.4,2057 403,2051.2 405.7,2048.3C408.4,2045.3 407.5,2044.8 410,2042.3C412.5,2039.8 417.3,2036.5 421,2033.4C424.6,2030.2 428.4,2025.9 431.8,2023.5C435.3,2021 438.4,2017.7 441.7,2018.5C445.1,2019.3 448.7,2021.8 451.7,2028.4C454.6,2035 457.1,2048.1 459.6,2058.2C462.1,2068.2 464.2,2079.3 466.5,2088.8C468.9,2098.4 471.3,2107.9 473.5,2115.6C475.6,2123.4 477.5,2130.9 479.4,2135.4C481.4,2139.8 483.4,2142.3 485.4,2142.3C487.4,2142.3 489.4,2139.2 491.3,2135.4C493.3,2131.6 495.2,2125.1 497.3,2119.5C499.5,2113.9 501.4,2106 504.2,2101.7C507.1,2097.5 511.2,2094.4 514.2,2093.8C517.1,2093.2 519.5,2096.5 522.1,2098.3C524.7,2100 527.4,2105.5 530,2104.2C532.7,2103 535.5,2095.6 538,2090.8C540.5,2086.1 543.1,2081.3 544.9,2075.9C546.7,2070.4 546.1,2064.8 548.9,2058.2C551.7,2051.6 558.1,2038 561.8,2036.3C565.4,2034.7 567.9,2041.3 570.7,2048.3C573.5,2055.2 576.3,2069 578.7,2077.9C581,2086.9 582.6,2093.8 584.6,2101.7C586.6,2109.7 588.2,2118.2 590.6,2125.5C592.9,2132.7 595.8,2140 598.5,2145.3C601.1,2150.6 603.8,2157.2 606.4,2157.2C609.1,2157.2 611.4,2150.6 614.4,2145.3C617.3,2140 621.1,2131.6 624.3,2125.5C627.4,2119.4 630.1,2112.9 633.2,2108.7C636.4,2104.5 639.7,2100.8 643.1,2100.3C646.6,2099.8 650.6,2103.8 654,2105.7C657.5,2107.6 660.7,2112.5 664,2111.7C667.3,2110.8 670.6,2105.7 673.9,2100.8C677.2,2095.8 679.8,2088.6 683.8,2081.9C687.8,2075.2 695,2064.1 697.7,2060.6C700.4,2057 698.3,2059.4 700,2060.7C701.7,2061.9 706,2065.9 707.6,2068.1C709.3,2070.3 707.9,2070.5 710,2073.7C712,2077 717.2,2084.3 719.8,2087.5C722.5,2090.6 723.5,2093.7 725.8,2092.4C728.1,2091.1 730.6,2086.8 733.7,2079.5C736.9,2072.3 741.7,2057.1 744.6,2048.8C747.6,2040.5 749.1,2034.6 751.6,2029.9C754.1,2025.3 756.7,2019.9 759.5,2021C762.3,2022.2 766,2029.8 768.5,2036.9C770.9,2044 772.3,2051.6 774.4,2063.7C776.6,2075.8 778.9,2096.1 781.3,2109.3C783.8,2122.5 786.3,2132.8 789.3,2143C792.3,2153.3 795.9,2168.1 799.2,2170.8C802.5,2173.4 805.8,2164.2 809.1,2158.9C812.4,2153.6 815.7,2145.7 819,2139C822.4,2132.4 825.7,2124.2 829,2119.2C832.3,2114.2 835.9,2109.3 838.9,2109.3C841.9,2109.3 844.2,2114.2 846.8,2119.2C849.5,2124.2 852.1,2130.8 854.8,2139C857.4,2147.3 860.1,2158.9 862.7,2168.8C865.3,2178.7 868.2,2191 870.6,2198.6C873.1,2206.2 875.3,2213.8 877.6,2214.4C879.9,2215.1 882,2208.5 884.5,2202.5C887,2196.6 889.8,2187.3 892.5,2178.7C895.1,2170.1 897.8,2158.9 900.4,2151C903,2143 905.4,2137.4 908.3,2131.1C911.3,2124.8 914.9,2117.6 918.3,2113.3C921.6,2109 925.4,2107 928.2,2105.3C931,2103.7 932.5,2102.7 935.1,2103.3C937.8,2104 940.9,2106 944,2109.3C947.2,2112.6 951,2119.4 954,2123.2C956.9,2127 959.6,2130.1 961.9,2132.1C964.2,2134.1 965.2,2135.9 967.9,2135.1C970.5,2134.3 974.8,2129.8 977.8,2127.1C980.8,2124.5 983.7,2120.9 985.7,2119.2C987.8,2117.6 988.8,2117.6 990,2117.2C991.2,2116.8 991,2116.5 992.7,2116.8C994.3,2117.2 997.1,2117.2 999.9,2119.2C1002.8,2121.3 1005.7,2124.8 1009.8,2129.1C1014,2133.4 1020.4,2143.3 1024.7,2145C1029,2146.7 1032.5,2140.5 1035.6,2139C1038.8,2137.6 1040.6,2135.4 1043.6,2136.1C1046.5,2136.7 1050.2,2139.2 1053.5,2143C1056.8,2146.8 1060.1,2153.6 1063.4,2158.9C1066.7,2164.2 1069.7,2170.5 1073.3,2174.8C1077,2179.1 1081.3,2182.7 1085.2,2184.7C1089.2,2186.7 1093.2,2186.7 1097.1,2186.7C1101.1,2186.7 1105.4,2184.4 1109,2184.7C1112.7,2185 1115.7,2185.7 1119,2188.7C1122.3,2191.6 1125.9,2198.2 1128.9,2202.5C1131.9,2206.8 1134.2,2211.1 1136.8,2214.4C1139.5,2217.8 1142.1,2222.4 1144.8,2222.4C1147.4,2222.4 1150.1,2219.7 1152.7,2214.4C1155.3,2209.2 1158,2199.9 1160.6,2190.6C1163.3,2181.4 1165.9,2166.3 1168.6,2158.9C1171.2,2151.4 1173.9,2147.3 1176.5,2146C1179.2,2144.7 1181.8,2149.3 1184.4,2151C1187.1,2152.6 1189.7,2155.7 1192.4,2155.9C1195,2156.1 1198,2152.8 1200.3,2151.9C1202.6,2151.1 1204.9,2150.8 1206.3,2151C1207.6,2151.1 1207.6,2151.7 1208.6,2153C1209.6,2154.4 1210.8,2155.7 1212.2,2158.9C1213.7,2162 1215.9,2167.7 1217.2,2172C1218.5,2176.3 1218.7,2179 1220.2,2184.7C1221.6,2190.4 1224.5,2200.7 1225.8,2206.3C1227.1,2212 1226.7,2212.1 1228.1,2218.4C1229.5,2224.8 1232.1,2237.5 1234.2,2244.5C1236.3,2251.4 1238.3,2258.7 1240.6,2259.9C1242.9,2261.2 1246.1,2254.8 1247.9,2252.1C1249.8,2249.5 1250.3,2246.5 1251.6,2244.2C1252.9,2241.9 1254,2240 1255.9,2238.3C1257.8,2236.5 1260.3,2234.6 1262.9,2233.6C1265.4,2232.6 1268.4,2234.3 1271.1,2232.2C1273.9,2230.2 1276.9,2226.6 1279.4,2221.2C1281.8,2215.9 1284,2206.6 1285.8,2200.1C1287.6,2193.7 1288.8,2187.4 1290,2182.7C1291.2,2178 1291.2,2178 1292.9,2172C1294.5,2165.9 1297.2,2153 1299.7,2146.2C1302.3,2139.3 1305.5,2130.7 1308.3,2130.7C1311.2,2130.7 1314.1,2139.3 1316.9,2146.2C1319.8,2153 1322.4,2163.9 1325.5,2172C1328.7,2180 1332.7,2192.9 1335.8,2194.3C1339,2195.7 1341.9,2185.7 1344.4,2180.6C1347,2175.4 1348.7,2169.7 1351.3,2163.4C1353.9,2157.1 1356.8,2148.5 1359.9,2142.7C1363.1,2137 1366.5,2131.5 1370.2,2129C1374,2126.4 1378.5,2129.3 1382.3,2127.2C1386,2125.2 1389.7,2122.4 1392.6,2116.9C1395.5,2111.5 1397.2,2104 1399.5,2094.6C1401.8,2085.1 1403.9,2074.2 1406.3,2060.2C1408.8,2046.2 1411.5,2025 1414.1,2010.4C1416.7,1995.8 1419.4,1980.5 1421.8,1972.6C1424.3,1964.7 1426.4,1962.3 1428.7,1963.1C1431,1964 1433.3,1971 1435.6,1977.8C1437.9,1984.5 1440.5,1996.7 1442.5,2003.5C1444.5,2010.4 1446,2015.3 1447.6,2019C1449.2,2022.7 1451.2,2024.8 1451.9,2025.9" stroke="#1d1d5a" stroke-width="1.7" fill="none" stroke-linejoin="round"/>
<path d="M126,2037.3C128.3,2037.8 134.2,2039.6 139.8,2040.3C145.5,2041.1 153.1,2041.7 159.7,2041.9C166.3,2042.1 172.9,2041.6 179.5,2041.3C186.1,2041 192.8,2040.5 199.4,2040.3C206,2040.1 212.6,2040.2 219.2,2039.9C225.8,2039.7 232.4,2039.3 239,2038.7C245.7,2038.1 252.3,2037.7 258.9,2036.3C265.5,2035 272.8,2032.4 278.7,2030.4C284.7,2028.4 289.3,2026.8 294.6,2024.4C299.9,2022.1 304.9,2019.2 310.5,2016.5C316.1,2013.9 322.1,2010.9 328.3,2008.6C334.6,2006.3 341.6,2004.6 348.2,2002.6C354.8,2000.6 361.4,1999 368,1996.7C374.6,1994.4 380.9,1990.9 387.9,1988.7C394.9,1986.6 403,1985.8 410,1983.8C417,1981.8 423.2,1979 429.8,1976.8C436.5,1974.7 443.1,1973 449.7,1970.9C456.3,1968.7 462.9,1966.6 469.5,1963.9C476.1,1961.3 482.8,1958.3 489.4,1955C496,1951.7 502.6,1948.1 509.2,1944.1C515.8,1940.1 522.4,1935 529,1931.2C535.7,1927.4 542.3,1924.1 548.9,1921.3C555.5,1918.5 562.1,1916.3 568.7,1914.3C575.3,1912.3 582,1910.9 588.6,1909.4C595.2,1907.9 601.8,1906.9 608.4,1905.4C615,1903.9 622,1902.3 628.3,1900.4C634.5,1898.6 640.8,1897 646.1,1894.5C651.4,1892 655.7,1888.5 660,1885.6C664.3,1882.6 667.9,1879.6 671.9,1876.6C675.9,1873.7 677.5,1871.2 683.8,1867.7C690.1,1864.2 703.6,1857.5 709.9,1855.4C716.3,1853.3 717.9,1854.5 721.8,1855C725.8,1855.5 729.1,1856.7 733.7,1858.4C738.4,1860.1 744.3,1863 749.6,1865.3C754.9,1867.6 760.5,1870.3 765.5,1872.3C770.4,1874.2 774.4,1875.6 779.4,1877.2C784.3,1878.9 789.9,1880.8 795.2,1882.2C800.5,1883.6 805.8,1884.7 811.1,1885.6C816.4,1886.4 822.4,1886.7 827,1887.1C831.6,1887.6 834.9,1887.5 838.9,1888.1C842.9,1888.8 846.8,1889.6 850.8,1891.1C854.8,1892.6 858.7,1894.7 862.7,1897.1C866.7,1899.4 870.6,1901.7 874.6,1905C878.6,1908.3 882.5,1912.9 886.5,1916.9C890.5,1920.9 894.4,1924.8 898.4,1928.8C902.4,1932.8 906.3,1937.1 910.3,1940.7C914.3,1944.4 918.3,1947.7 922.2,1950.6C926.2,1953.6 929.8,1955.8 934.1,1958.6C938.4,1961.4 943.4,1964.5 948,1967.5C952.6,1970.5 957.6,1973.6 961.9,1976.4C966.2,1979.2 969.8,1981.4 973.8,1984.4C977.8,1987.3 983,1992.1 985.7,1994.3C988.4,1996.4 987.3,1994.6 990,1997.3C992.7,1999.9 997.9,2005.4 1001.9,2010.2C1005.9,2015 1010.8,2021.7 1013.8,2026C1016.8,2030.3 1017.8,2033.2 1019.8,2035.9C1021.7,2038.5 1023.4,2039.3 1025.7,2041.9C1028,2044.6 1031.7,2049.4 1033.7,2051.7C1035.6,2054.1 1035.1,2053.3 1037.6,2055.8C1040.1,2058.3 1044.7,2063.4 1048.5,2066.7C1052.3,2070 1056.3,2073.1 1060.4,2075.6C1064.6,2078.1 1068.5,2079.4 1073.3,2081.5C1078.1,2083.7 1083.9,2085.8 1089.2,2088.5C1094.5,2091.1 1099.8,2094.2 1105.1,2097.4C1110.4,2100.5 1115.7,2104.3 1121,2107.3C1126.2,2110.3 1131.5,2113.3 1136.8,2115.2C1142.1,2117.2 1147.4,2118.4 1152.7,2119.2C1158,2120 1163.3,2120 1168.6,2120.2C1173.9,2120.4 1179.2,2120 1184.4,2120.2C1189.7,2120.4 1194.9,2120.6 1200.3,2121.2C1205.7,2121.7 1211.4,2122.8 1216.7,2123.5C1222,2124.2 1229.1,2124.8 1232.1,2125.2C1235,2125.5 1231.7,2125.2 1234.4,2125.5C1237,2125.9 1245.1,2126.9 1247.9,2127.1C1250.8,2127.4 1248.2,2127 1251.6,2127.2C1255,2127.5 1262.5,2127.8 1268.3,2128.6C1274,2129.3 1282.4,2131.3 1286,2131.5C1289.6,2131.8 1287.1,2129.8 1290,2130.1C1292.9,2130.4 1298.1,2132.6 1303.2,2133.3C1308.2,2133.9 1314.6,2134.3 1320.4,2134.1C1326.1,2134 1331.8,2133.6 1337.6,2132.4C1343.3,2131.3 1349,2129.3 1354.8,2127.2C1360.5,2125.2 1366.2,2122.7 1372,2120.4C1377.7,2118.1 1383.4,2115.2 1389.2,2113.5C1394.9,2111.8 1400.6,2110.9 1406.3,2110.1C1412.1,2109.2 1416.7,2108.9 1423.5,2108.3C1430.4,2107.8 1443.6,2106.9 1447.6,2106.6" stroke="#ff6060" stroke-opacity="0.3" stroke-width="4" fill="none" filter="url(#glow)"/>
<path d="M126,2037.3C128.3,2037.8 134.2,2039.6 139.8,2040.3C145.5,2041.1 153.1,2041.7 159.7,2041.9C166.3,2042.1 172.9,2041.6 179.5,2041.3C186.1,2041 192.8,2040.5 199.4,2040.3C206,2040.1 212.6,2040.2 219.2,2039.9C225.8,2039.7 232.4,2039.3 239,2038.7C245.7,2038.1 252.3,2037.7 258.9,2036.3C265.5,2035 272.8,2032.4 278.7,2030.4C284.7,2028.4 289.3,2026.8 294.6,2024.4C299.9,2022.1 304.9,2019.2 310.5,2016.5C316.1,2013.9 322.1,2010.9 328.3,2008.6C334.6,2006.3 341.6,2004.6 348.2,2002.6C354.8,2000.6 361.4,1999 368,1996.7C374.6,1994.4 380.9,1990.9 387.9,1988.7C394.9,1986.6 403,1985.8 410,1983.8C417,1981.8 423.2,1979 429.8,1976.8C436.5,1974.7 443.1,1973 449.7,1970.9C456.3,1968.7 462.9,1966.6 469.5,1963.9C476.1,1961.3 482.8,1958.3 489.4,1955C496,1951.7 502.6,1948.1 509.2,1944.1C515.8,1940.1 522.4,1935 529,1931.2C535.7,1927.4 542.3,1924.1 548.9,1921.3C555.5,1918.5 562.1,1916.3 568.7,1914.3C575.3,1912.3 582,1910.9 588.6,1909.4C595.2,1907.9 601.8,1906.9 608.4,1905.4C615,1903.9 622,1902.3 628.3,1900.4C634.5,1898.6 640.8,1897 646.1,1894.5C651.4,1892 655.7,1888.5 660,1885.6C664.3,1882.6 667.9,1879.6 671.9,1876.6C675.9,1873.7 677.5,1871.2 683.8,1867.7C690.1,1864.2 703.6,1857.5 709.9,1855.4C716.3,1853.3 717.9,1854.5 721.8,1855C725.8,1855.5 729.1,1856.7 733.7,1858.4C738.4,1860.1 744.3,1863 749.6,1865.3C754.9,1867.6 760.5,1870.3 765.5,1872.3C770.4,1874.2 774.4,1875.6 779.4,1877.2C784.3,1878.9 789.9,1880.8 795.2,1882.2C800.5,1883.6 805.8,1884.7 811.1,1885.6C816.4,1886.4 822.4,1886.7 827,1887.1C831.6,1887.6 834.9,1887.5 838.9,1888.1C842.9,1888.8 846.8,1889.6 850.8,1891.1C854.8,1892.6 858.7,1894.7 862.7,1897.1C866.7,1899.4 870.6,1901.7 874.6,1905C878.6,1908.3 882.5,1912.9 886.5,1916.9C890.5,1920.9 894.4,1924.8 898.4,1928.8C902.4,1932.8 906.3,1937.1 910.3,1940.7C914.3,1944.4 918.3,1947.7 922.2,1950.6C926.2,1953.6 929.8,1955.8 934.1,1958.6C938.4,1961.4 943.4,1964.5 948,1967.5C952.6,1970.5 957.6,1973.6 961.9,1976.4C966.2,1979.2 969.8,1981.4 973.8,1984.4C977.8,1987.3 983,1992.1 985.7,1994.3C988.4,1996.4 987.3,1994.6 990,1997.3C992.7,1999.9 997.9,2005.4 1001.9,2010.2C1005.9,2015 1010.8,2021.7 1013.8,2026C1016.8,2030.3 1017.8,2033.2 1019.8,2035.9C1021.7,2038.5 1023.4,2039.3 1025.7,2041.9C1028,2044.6 1031.7,2049.4 1033.7,2051.7C1035.6,2054.1 1035.1,2053.3 1037.6,2055.8C1040.1,2058.3 1044.7,2063.4 1048.5,2066.7C1052.3,2070 1056.3,2073.1 1060.4,2075.6C1064.6,2078.1 1068.5,2079.4 1073.3,2081.5C1078.1,2083.7 1083.9,2085.8 1089.2,2088.5C1094.5,2091.1 1099.8,2094.2 1105.1,2097.4C1110.4,2100.5 1115.7,2104.3 1121,2107.3C1126.2,2110.3 1131.5,2113.3 1136.8,2115.2C1142.1,2117.2 1147.4,2118.4 1152.7,2119.2C1158,2120 1163.3,2120 1168.6,2120.2C1173.9,2120.4 1179.2,2120 1184.4,2120.2C1189.7,2120.4 1194.9,2120.6 1200.3,2121.2C1205.7,2121.7 1211.4,2122.8 1216.7,2123.5C1222,2124.2 1229.1,2124.8 1232.1,2125.2C1235,2125.5 1231.7,2125.2 1234.4,2125.5C1237,2125.9 1245.1,2126.9 1247.9,2127.1C1250.8,2127.4 1248.2,2127 1251.6,2127.2C1255,2127.5 1262.5,2127.8 1268.3,2128.6C1274,2129.3 1282.4,2131.3 1286,2131.5C1289.6,2131.8 1287.1,2129.8 1290,2130.1C1292.9,2130.4 1298.1,2132.6 1303.2,2133.3C1308.2,2133.9 1314.6,2134.3 1320.4,2134.1C1326.1,2134 1331.8,2133.6 1337.6,2132.4C1343.3,2131.3 1349,2129.3 1354.8,2127.2C1360.5,2125.2 1366.2,2122.7 1372,2120.4C1377.7,2118.1 1383.4,2115.2 1389.2,2113.5C1394.9,2111.8 1400.6,2110.9 1406.3,2110.1C1412.1,2109.2 1416.7,2108.9 1423.5,2108.3C1430.4,2107.8 1443.6,2106.9 1447.6,2106.6" stroke="#a81212" stroke-width="2.8" fill="none" stroke-linejoin="round"/>
<path d="M151.7,2063.1 155.7,2064.1 159.7,2066.1 163.7,2068.1 167.6,2071.1 171.6,2076 177.5,2086 181.5,2080 185.5,2074 188.5,2071.1 192.4,2070.1 195.4,2072.1 199.4,2062.1 203.3,2058.2 207.3,2052.2 211.3,2054.2 214.2,2048.3 217.2,2036.3 219.2,2044.3 223.2,2048.3 227.1,2052.2 231.1,2054.2 235.1,2056.2 239,2062.1 245,2068.1 251,2076 256.9,2083 260.9,2072.1 264.8,2050.2 268.8,2049.2 272.8,2056.2 278.7,2060.2 284.7,2066.1 290.6,2071.1 296.6,2074 302.5,2078 306.5,2086 310.5,2077 316.4,2073.1 322.4,2072.1 328.3,2076 334.3,2077 338.3,2076 344.2,2076 349.2,2064.1 352.1,2066.1 356.1,2065.1 360.1,2064.1 362.1,2066.1" stroke="#000" stroke-width="2.2" fill="none" stroke-linejoin="round"/>
<path d="M405.7,2078 409.8,2071.1 413.8,2072.1 416.9,2078 417.8,2068 418.9,2069.1 421.4,2070 423.9,2071.9 425.9,2082 427.9,2082.8 429.8,2084 431.8,2083.8 435.8,2085.4 439.8,2089.8 443.7,2095.8 449.7,2103.7 455.6,2113.7 461.6,2123.6 467.5,2135.4 471.5,2145.3 474.5,2077.9 476.5,2153.3 481.4,2161.2 487.4,2168.1 491.3,2172.1 495.3,2177.1 497.3,2177.1 500.3,2077.9 502.3,2169.1 509.2,2179 515.2,2191 521.1,2202.9 527.1,2216.7 533,2230.6 539,2246.5 544.9,2264.4 548.9,2282.2 552.9,2292.1 556.8,2300.1 560.8,2310 562.8,2312 566.7,2321.9 572.7,2327.9 578.7,2333.8 582.6,2337.8 584.6,2337.8 587.6,2315 590.6,2316.9 594.2,2322.7 596,2324.6 599.2,2332 600.5,2331.8 602.3,2338.3 606,2340.1 608.7,2344.7 612.4,2349.7 612.9,2356.3 616.1,2358.4 618.8,2361.3 622.4,2365.8 624.6,2366.9 627.7,2374.8 670.1,2374.8 670.6,2344.7 671.6,2282.8 673.2,2319.3 675.3,2323.5 678.5,2325.6 681.7,2323.5 684.9,2324.6 688,2330.4 689.6,2269.5 692.3,2272.7 694.4,2290.7 697.6,2301.3 698.9,2151 700,2151 702.9,2167.6 704,2166.8 706.5,2177.3 708.7,2164.4 710.9,2155.7 713.9,2156.9 717.5,2157.5 719.5,2156.5 719.8,2083.5 721.8,2095.4 725.8,2103.3 728.8,2107.3 730.8,2097.4 733.7,2107.3 735.7,2111.3 737.7,2095.4 740.7,2087.5 743.7,2089.4 747.6,2089.4 751.6,2083.5 755.6,2091.4 759.5,2089.4 763.5,2093.4 767.5,2099.4 771.4,2103.3 775.4,2107.3 779.4,2109.3 782.3,2115.2 783.3,2103.3 787.3,2099.4 791.3,2093.4 793.3,2079.5 795.2,2069.6 798.2,2067.6 801.2,2058.7 804.2,2067.6 807.1,2081.5 810.1,2083.5 812.1,2067.6 815.1,2069.6 819,2072.6 823,2083.5 827,2083.5 830,2071.6 831.9,2083.5 834.9,2045.8 838.9,2055.7 842.9,2069.6 846.8,2079.5 848.8,2073.6 850.8,2083.5 858.7,2083.5 864.7,2085.5 868.7,2083.5 871.6,2087.5 873.6,2072.6 876.6,2072.6 879.6,2072.6 881.5,2083.5 884.5,2071.6 887.5,2069.6 889.5,2045.8 892.5,2049.8 896.4,2051.7 899.4,2059.7 902.4,2063.7 906.3,2067.6 910.3,2071.6 914.3,2081.5 917.3,2071.6 920.2,2069.6 924.2,2073.6 928.2,2079.5 934.1,2085.5 938.1,2073.6 942.1,2067.6 946,2069.6 950,2075.6 954,2079.5 959.9,2083.5 965.9,2085.5 971.8,2081.5 975.8,2079.5 979.8,2067.6 983.7,2064.6 986.7,2059.7 991.7,2043.8 994,2053.8 995.6,2051.7 997.9,2055.8 999.9,2041.9 1003.9,2041.9 1005.9,2039.8 1009.8,2037.9 1013.3,2036.4 1015.8,2041.8 1017.8,2048.8 1021.7,2055.8 1024.2,2045.8 1027.7,2049.8 1029.7,2051.8 1031.7,2051.7 1035.6,2038.9 1039.6,2045.8 1041.6,2049.8 1043.6,2051.7 1047.5,2061.7 1051.5,2066.7 1055.5,2071.6 1059.4,2077.1 1061.4,2067.6 1063.4,2061.7 1065.4,2057.7 1069.4,2053.8 1069.4,2060.7 1073.3,2045.3 1077.3,2052.8 1081.3,2061.7 1083.3,2061.7 1087.2,2065.6 1089.2,2065.7 1093.2,2064.6 1095.2,2063.7 1097.1,2055.7 1100.1,2049.8 1104.6,2057.2 1109,2064.2 1115,2064.7 1119,2067.6 1121,2073.7 1124.9,2079.5 1130.9,2085.5 1134.8,2091.4 1138.8,2095.4 1142.8,2101.3 1148.7,2111.3 1152.7,2103.3 1156.7,2096.4 1162.6,2097.4 1166.6,2095 1170.6,2098.4 1176.5,2101.3 1181.5,2107.3 1185.4,2101.3 1190.4,2107.3 1196.3,2119.2 1202.3,2129.1 1208.3,2139 1216.2,2151 1224.1,2158.9 1230.1,2164.8 1233.1,2172.8 1237,2142 1242,2151 1247.9,2162.9 1253.9,2172.8 1257.9,2178.7 1261.8,2166.8 1265.8,2151 1268.8,2149 1270.8,2110.3 1272.2,2120.4 1273.7,2119.2 1275.7,2125.5 1277.7,2125.2 1279.1,2134.1 1282.1,2132.8 1285.8,2138.3 1289.7,2143.4 1292.9,2135.8 1295.4,2122.1 1298.9,2112.6 1301.5,2118.7 1304.9,2120.4 1310.1,2096.3 1313.5,2099.7 1316.9,2101.5 1320.4,2106.6 1325.5,2111.8 1330.7,2113.5 1334.1,2118.7 1337.6,2115.2 1342.7,2114.4 1345.3,2114.4 1347,2091.1 1351.3,2088.6" stroke="#000" stroke-width="2.2" fill="none" stroke-linejoin="round"/>
<path d="M125.6,1742.6H1454V2415.3H125.6Z" stroke="#858585" stroke-width="1.4" fill="none"/>
<path d="M125.6,1730V1742.6M125.6,2415.3V2427.9M182,1730V1742.6M182,2415.3V2427.9M232.9,1730V1742.6M232.9,2415.3V2427.9M289.3,1730V1742.6M289.3,2415.3V2427.9M343.8,1730V1742.6M343.8,2415.3V2427.9M400.2,1730V1742.6M400.2,2415.3V2427.9M454.7,1730V1742.6M454.7,2415.3V2427.9M511.1,1730V1742.6M511.1,2415.3V2427.9M567.5,1730V1742.6M567.5,2415.3V2427.9M622,1730V1742.6M622,2415.3V2427.9M678.4,1730V1742.6M678.4,2415.3V2427.9M733,1730V1742.6M733,2415.3V2427.9M789.3,1730V1742.6M789.3,2415.3V2427.9M845.7,1730V1742.6M845.7,2415.3V2427.9M898.5,1730V1742.6M898.5,2415.3V2427.9M954.8,1730V1742.6M954.8,2415.3V2427.9M1009.4,1730V1742.6M1009.4,2415.3V2427.9M1065.8,1730V1742.6M1065.8,2415.3V2427.9M1120.3,1730V1742.6M1120.3,2415.3V2427.9M1176.7,1730V1742.6M1176.7,2415.3V2427.9M1233.1,1730V1742.6M1233.1,2415.3V2427.9M1287.6,1730V1742.6M1287.6,2415.3V2427.9M1344,1730V1742.6M1344,2415.3V2427.9M1398.5,1730V1742.6M1398.5,2415.3V2427.9M112.6,1742.6H138.6M1440,1742.6H1465.5M112.6,1798.7H138.6M1440,1798.7H1465.5M112.6,1854.7H138.6M1440,1854.7H1465.5M112.6,1910.8H138.6M1440,1910.8H1465.5M112.6,1966.8H138.6M1440,1966.8H1465.5M112.6,2022.9H138.6M1440,2022.9H1465.5M112.6,2078.9H138.6M1440,2078.9H1465.5M112.6,2135H138.6M1440,2135H1465.5M112.6,2191.1H138.6M1440,2191.1H1465.5M112.6,2247.1H138.6M1440,2247.1H1465.5M112.6,2303.2H138.6M1440,2303.2H1465.5M112.6,2359.2H138.6M1440,2359.2H1465.5M112.6,2415.3H138.6M1440,2415.3H1465.5" stroke="#858585" stroke-width="1.3" fill="none"/>
<g font-size="15" fill="#111"><text x="42" y="1747.8" text-anchor="end">1.5</text><text x="42" y="1803.9" text-anchor="end">1.25</text><text x="42" y="1859.9" text-anchor="end">1</text><text x="42" y="1916" text-anchor="end">0.75</text><text x="42" y="1972" text-anchor="end">0.5</text><text x="42" y="2028.1" text-anchor="end">0.25</text><text x="42" y="2084.1" text-anchor="end">0</text><text x="42" y="2140.2" text-anchor="end">-0.25</text><text x="42" y="2196.3" text-anchor="end">-0.5</text><text x="42" y="2252.3" text-anchor="end">-0.75</text><text x="42" y="2308.4" text-anchor="end">-1</text><text x="42" y="2364.4" text-anchor="end">-1.25</text><text x="42" y="2420.5" text-anchor="end">-1.5</text></g>
<g font-size="15" fill="#3ccb3c"><text x="107" y="1747.8" text-anchor="end">300</text><text x="107" y="1803.9" text-anchor="end">275</text><text x="107" y="1859.9" text-anchor="end">250</text><text x="107" y="1916" text-anchor="end">225</text><text x="107" y="1972" text-anchor="end">200</text><text x="107" y="2028.1" text-anchor="end">175</text><text x="107" y="2084.1" text-anchor="end">150</text><text x="107" y="2140.2" text-anchor="end">125</text><text x="107" y="2196.3" text-anchor="end">100</text><text x="107" y="2252.3" text-anchor="end">75</text><text x="107" y="2308.4" text-anchor="end">50</text><text x="107" y="2364.4" text-anchor="end">25</text><text x="107" y="2420.5" text-anchor="end">0</text></g>
<g font-size="15" fill="#a3562a"><text x="1471.5" y="1747.8">4.5</text><text x="1471.5" y="1803.9">3.75</text><text x="1471.5" y="1859.9">3</text><text x="1471.5" y="1916">2.25</text><text x="1471.5" y="1972">1.5</text><text x="1471.5" y="2028.1">0.75</text><text x="1471.5" y="2084.1">0</text><text x="1471.5" y="2140.2">-0.75</text><text x="1471.5" y="2196.3">-1.5</text><text x="1471.5" y="2252.3">-2.25</text><text x="1471.5" y="2308.4">-3</text><text x="1471.5" y="2364.4">-3.75</text><text x="1471.5" y="2420.5">-4.5</text></g>
<g font-size="15" fill="#111"><text x="125.6" y="2447.6" text-anchor="middle">J</text><text x="182" y="2447.6" text-anchor="middle">F</text><text x="232.9" y="2447.6" text-anchor="middle">M</text><text x="289.3" y="2447.6" text-anchor="middle">A</text><text x="343.8" y="2447.6" text-anchor="middle">M</text><text x="400.2" y="2447.6" text-anchor="middle">J</text><text x="454.7" y="2447.6" text-anchor="middle">J</text><text x="511.1" y="2447.6" text-anchor="middle">A</text><text x="567.5" y="2447.6" text-anchor="middle">S</text><text x="622" y="2447.6" text-anchor="middle">O</text><text x="678.4" y="2447.6" text-anchor="middle">N</text><text x="733" y="2447.6" text-anchor="middle">D</text><text x="789.3" y="2447.6" text-anchor="middle">J</text><text x="845.7" y="2447.6" text-anchor="middle">F</text><text x="898.5" y="2447.6" text-anchor="middle">M</text><text x="954.8" y="2447.6" text-anchor="middle">A</text><text x="1009.4" y="2447.6" text-anchor="middle">M</text><text x="1065.8" y="2447.6" text-anchor="middle">J</text><text x="1120.3" y="2447.6" text-anchor="middle">J</text><text x="1176.7" y="2447.6" text-anchor="middle">A</text><text x="1233.1" y="2447.6" text-anchor="middle">S</text><text x="1287.6" y="2447.6" text-anchor="middle">O</text><text x="1344" y="2447.6" text-anchor="middle">N</text><text x="1398.5" y="2447.6" text-anchor="middle">D</text><text x="400.2" y="2430.1">2015</text><text x="1065.8" y="2430.1">2016</text></g>
<text x="789.8" y="1736.6" text-anchor="middle" font-size="16.3" fill="#111">Super El Nino 2015</text>
<text x="15" y="1694.5" font-size="42" fill="#000">g</text>
<text transform="translate(60,2126.9) rotate(-90)" text-anchor="middle" font-size="15.5" fill="#111" textLength="54" lengthAdjust="spacingAndGlyphs">GWL(m)</text>
<text transform="translate(77,2078.9) rotate(-90)" text-anchor="middle" font-size="15.5" fill="#3ccb3c" textLength="100" lengthAdjust="spacingAndGlyphs">Rainfall (mm)</text>
<text transform="translate(1531.5,2095.9) rotate(-90)" text-anchor="middle" font-size="15.5" fill="#a3562a" textLength="485" lengthAdjust="spacingAndGlyphs">(Nino3.4,  DMI,  SSTA) <tspan font-size="11" dy="-6">o</tspan><tspan dy="6">C,  EPV (10</tspan><tspan font-size="11" dy="-6">-6</tspan><tspan dy="6">Nm</tspan><tspan font-size="11" dy="-6">-2</tspan><tspan dy="6">),  EMT (m</tspan><tspan font-size="11" dy="-6">2</tspan><tspan dy="6">s</tspan><tspan font-size="11" dy="-6">-1</tspan><tspan dy="6">)</tspan></text>
<rect x="1056.9" y="1750.9" width="131.3" height="123" fill="#fff" stroke="#9a9a9a" stroke-width="1.2"/><rect x="1060.9" y="1755.9" width="31.6" height="11.6" fill="#11ee11"/><text x="1096.4" y="1765.8" font-size="11.5" fill="#000" textLength="47.3" lengthAdjust="spacingAndGlyphs">Rainfall</text><path d="M1060.9,1778.6H1092.4" stroke="#000" stroke-width="2.8"/><text x="1096.4" y="1782.7" font-size="11.5" fill="#000" textLength="30.1" lengthAdjust="spacingAndGlyphs">GWL</text><path d="M1060.9,1795.5H1092.4" stroke="#a81212" stroke-width="2.6"/><text x="1096.4" y="1799.6" font-size="11.5" fill="#000" textLength="52.1" lengthAdjust="spacingAndGlyphs">NINO3.4</text><path d="M1060.9,1812.4H1092.4" stroke="#8e7482" stroke-width="2.4"/><text x="1096.4" y="1816.5" font-size="11.5" fill="#000" textLength="24.8" lengthAdjust="spacingAndGlyphs">DMI</text><path d="M1060.9,1829.3H1092.4" stroke="#b248c2" stroke-width="1.7"/><text x="1096.4" y="1833.4" font-size="11.5" fill="#000" textLength="84.3" lengthAdjust="spacingAndGlyphs">SST Anomaly</text><path d="M1060.9,1846.2H1092.4" stroke="#1d1d5a" stroke-width="1.7"/><text x="1096.4" y="1850.3" font-size="11.5" fill="#000" textLength="85.9" lengthAdjust="spacingAndGlyphs">EMT anomaly</text><path d="M1060.9,1863.1H1092.4" stroke="#5ccfd8" stroke-width="1.9"/><text x="1096.4" y="1867.2" font-size="11.5" fill="#000" textLength="83.6" lengthAdjust="spacingAndGlyphs">EPV anomaly</text></g>
</svg></body></html>
